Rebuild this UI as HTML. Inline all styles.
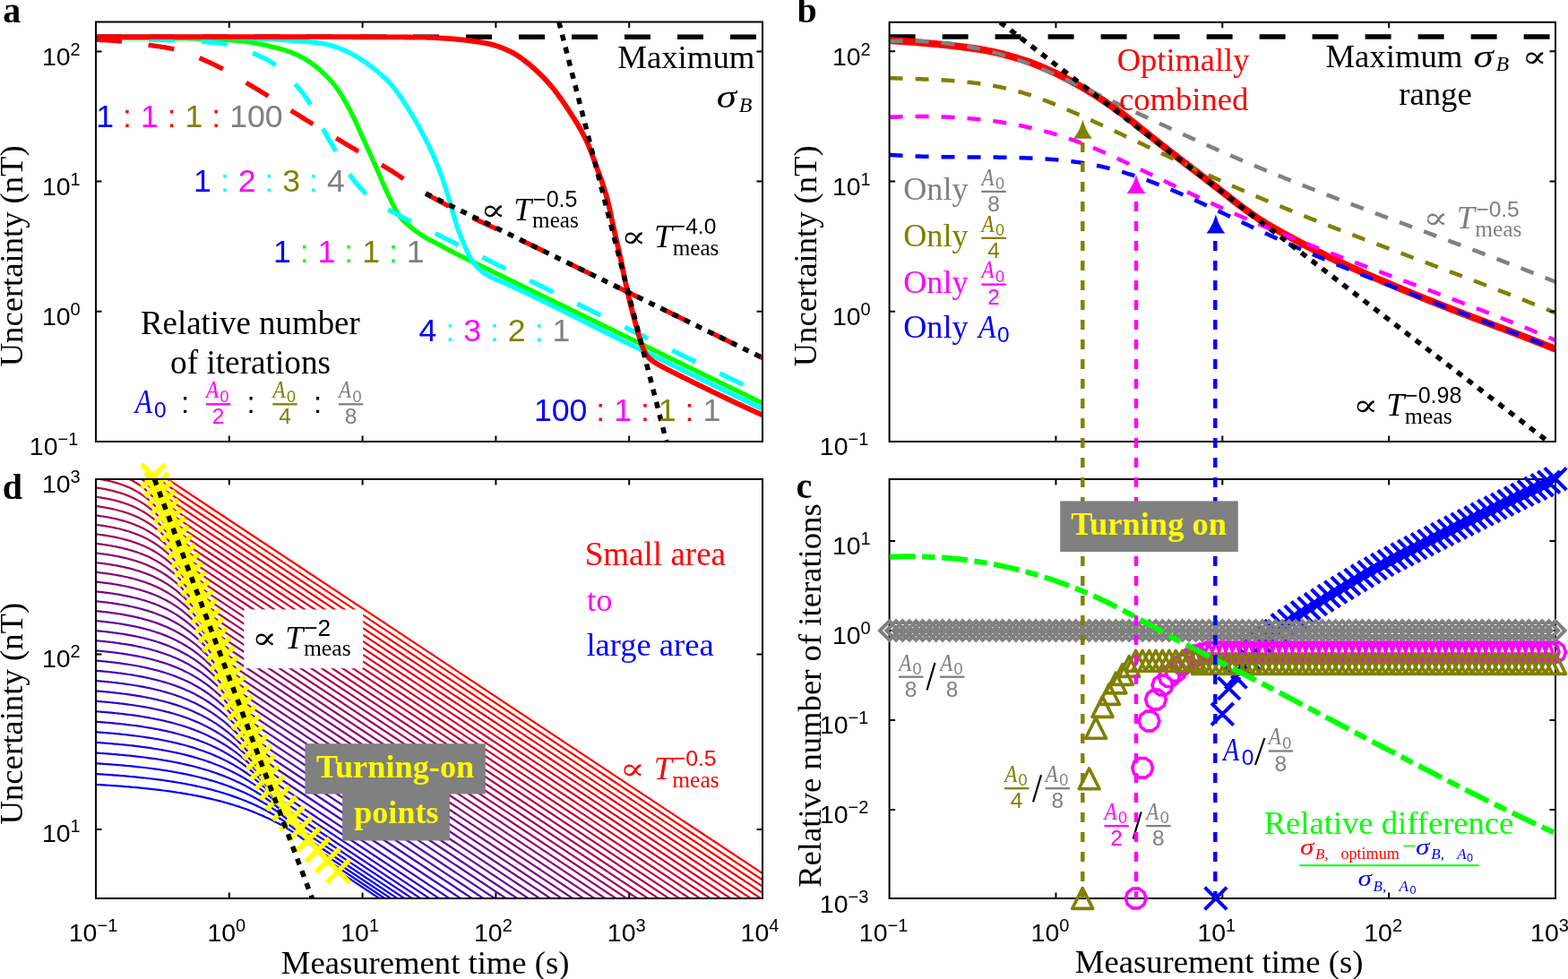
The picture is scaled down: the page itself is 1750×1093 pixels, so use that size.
<!DOCTYPE html>
<html><head><meta charset="utf-8"><title>Figure</title><style>html,body{margin:0;padding:0;background:#fff;overflow:hidden}svg{display:block}</style></head><body>
<svg xmlns="http://www.w3.org/2000/svg" width="1750" height="1093" viewBox="0 0 1750 1093">
<defs>
<clipPath id="clipa"><rect x="107" y="24.5" width="744" height="468.5"/></clipPath>
<clipPath id="clipb"><rect x="992.6" y="24.8" width="743.4" height="468.2"/></clipPath>
<clipPath id="clipc"><rect x="992.6" y="535" width="743.4" height="468"/></clipPath>
<clipPath id="clipd"><rect x="107" y="535" width="744" height="468"/></clipPath>
</defs>
<rect width="1750" height="1093" fill="#fff"/>
<g clip-path="url(#clipa)">
<path d="M107 41.2 L851 41.2" stroke="#000" stroke-width="5.5" fill="none" stroke-dasharray="29 30" stroke-linejoin="round" />
<path d="M107 42.4 L108.24 42.4 L109.48 42.4 L110.73 42.4 L111.97 42.4 L113.21 42.4 L114.45 42.4 L115.69 42.4 L116.94 42.4 L118.18 42.4 L119.42 42.4 L120.66 42.4 L121.9 42.4 L123.15 42.41 L124.39 42.41 L125.63 42.41 L126.87 42.41 L128.12 42.41 L129.36 42.41 L130.6 42.41 L131.84 42.41 L133.08 42.41 L134.33 42.42 L135.57 42.42 L136.81 42.42 L138.05 42.42 L139.29 42.42 L140.54 42.42 L141.78 42.43 L143.02 42.43 L144.26 42.43 L145.5 42.43 L146.75 42.43 L147.99 42.44 L149.23 42.44 L150.47 42.44 L151.71 42.44 L152.96 42.45 L154.2 42.45 L155.44 42.45 L156.68 42.45 L157.92 42.46 L159.17 42.46 L160.41 42.46 L161.65 42.47 L162.89 42.47 L164.14 42.47 L165.38 42.47 L166.62 42.48 L167.86 42.48 L169.1 42.49 L170.35 42.49 L171.59 42.49 L172.83 42.5 L174.07 42.5 L175.31 42.5 L176.56 42.51 L177.8 42.51 L179.04 42.52 L180.28 42.52 L181.52 42.53 L182.77 42.53 L184.01 42.53 L185.25 42.54 L186.49 42.54 L187.73 42.55 L188.98 42.55 L190.22 42.56 L191.46 42.56 L192.7 42.57 L193.94 42.57 L195.19 42.58 L196.43 42.58 L197.67 42.59 L198.91 42.6 L200.16 42.6 L201.4 42.61 L202.64 42.62 L203.88 42.63 L205.12 42.65 L206.37 42.66 L207.61 42.68 L208.85 42.71 L210.09 42.73 L211.33 42.76 L212.58 42.79 L213.82 42.82 L215.06 42.85 L216.3 42.88 L217.54 42.91 L218.79 42.95 L220.03 42.98 L221.27 43.02 L222.51 43.06 L223.75 43.1 L225 43.14 L226.24 43.18 L227.48 43.22 L228.72 43.26 L229.96 43.3 L231.21 43.34 L232.45 43.38 L233.69 43.43 L234.93 43.48 L236.18 43.53 L237.42 43.58 L238.66 43.64 L239.9 43.7 L241.14 43.76 L242.39 43.82 L243.63 43.89 L244.87 43.95 L246.11 44.02 L247.35 44.09 L248.6 44.17 L249.84 44.24 L251.08 44.32 L252.32 44.4 L253.56 44.49 L254.81 44.57 L256.05 44.66 L257.29 44.75 L258.53 44.84 L259.77 44.94 L261.02 45.04 L262.26 45.15 L263.5 45.27 L264.74 45.39 L265.98 45.52 L267.23 45.65 L268.47 45.79 L269.71 45.93 L270.95 46.08 L272.2 46.23 L273.44 46.39 L274.68 46.56 L275.92 46.72 L277.16 46.89 L278.41 47.07 L279.65 47.25 L280.89 47.43 L282.13 47.63 L283.37 47.85 L284.62 48.07 L285.86 48.31 L287.1 48.55 L288.34 48.8 L289.58 49.06 L290.83 49.33 L292.07 49.6 L293.31 49.88 L294.55 50.16 L295.79 50.44 L297.04 50.72 L298.28 51 L299.52 51.27 L300.76 51.55 L302.01 51.83 L303.25 52.12 L304.49 52.4 L305.73 52.69 L306.97 52.99 L308.22 53.3 L309.46 53.61 L310.7 53.93 L311.94 54.26 L313.18 54.6 L314.43 54.95 L315.67 55.32 L316.91 55.7 L318.15 56.09 L319.39 56.5 L320.64 56.92 L321.88 57.36 L323.12 57.81 L324.36 58.28 L325.6 58.77 L326.85 59.27 L328.09 59.78 L329.33 60.31 L330.57 60.86 L331.81 61.43 L333.06 62.01 L334.3 62.6 L335.54 63.22 L336.78 63.87 L338.03 64.54 L339.27 65.25 L340.51 65.98 L341.75 66.74 L342.99 67.52 L344.24 68.33 L345.48 69.17 L346.72 70.02 L347.96 70.9 L349.2 71.79 L350.45 72.71 L351.69 73.64 L352.93 74.59 L354.17 75.57 L355.41 76.58 L356.66 77.64 L357.9 78.73 L359.14 79.86 L360.38 81.03 L361.62 82.22 L362.87 83.45 L364.11 84.7 L365.35 85.98 L366.59 87.28 L367.83 88.6 L369.08 89.96 L370.32 91.36 L371.56 92.81 L372.8 94.32 L374.05 95.88 L375.29 97.5 L376.53 99.2 L377.77 100.99 L379.01 102.88 L380.26 104.85 L381.5 106.89 L382.74 108.97 L383.98 111.1 L385.22 113.24 L386.47 115.42 L387.71 117.64 L388.95 119.92 L390.19 122.24 L391.43 124.62 L392.68 127.05 L393.92 129.52 L395.16 132.08 L396.4 134.75 L397.64 137.5 L398.89 140.25 L400.13 142.99 L401.37 145.75 L402.61 148.53 L403.85 151.31 L405.1 154.1 L406.34 156.89 L407.58 159.67 L408.82 162.44 L410.07 165.19 L411.31 167.93 L412.55 170.64 L413.79 173.36 L415.03 176.07 L416.28 178.8 L417.52 181.55 L418.76 184.33 L420 187.14 L421.24 190.02 L422.49 192.94 L423.73 195.88 L424.97 198.82 L426.21 201.73 L427.45 204.59 L428.7 207.38 L429.94 210.14 L431.18 212.87 L432.42 215.57 L433.66 218.23 L434.91 220.86 L436.15 223.45 L437.39 226 L438.63 228.56 L439.87 231.08 L441.12 233.45 L442.36 235.6 L443.6 237.6 L444.84 239.5 L446.09 241.3 L447.33 242.97 L448.57 244.5 L449.81 245.89 L451.05 247.17 L452.3 248.36 L453.54 249.49 L454.78 250.56 L456.02 251.6 L457.26 252.63 L458.51 253.64 L459.75 254.63 L460.99 255.61 L462.23 256.56 L463.47 257.5 L464.72 258.41 L465.96 259.31 L467.2 260.19 L468.44 261.04 L469.68 261.88 L470.93 262.69 L472.17 263.48 L473.41 264.25 L474.65 265 L475.89 265.71 L477.14 266.41 L478.38 267.08 L479.62 267.75 L480.86 268.39 L482.11 269.04 L483.35 269.67 L484.59 270.3 L485.83 270.94 L487.07 271.58 L488.32 272.23 L489.56 272.88 L490.8 273.55 L492.04 274.22 L493.28 274.89 L494.53 275.56 L495.77 276.23 L497.01 276.9 L498.25 277.56 L499.49 278.23 L500.74 278.89 L501.98 279.55 L503.22 280.21 L504.46 280.86 L505.7 281.5 L506.95 282.14 L508.19 282.77 L509.43 283.41 L510.67 284.04 L511.91 284.66 L513.16 285.29 L514.4 285.91 L515.64 286.53 L516.88 287.15 L518.13 287.77 L519.37 288.38 L520.61 288.99 L521.85 289.6 L523.09 290.21 L524.34 290.82 L525.58 291.43 L526.82 292.04 L528.06 292.64 L529.3 293.24 L530.55 293.85 L531.79 294.45 L533.03 295.05 L534.27 295.66 L535.51 296.26 L536.76 296.86 L538 297.46 L539.24 298.06 L540.48 298.66 L541.72 299.27 L542.97 299.87 L544.21 300.47 L545.45 301.08 L546.69 301.68 L547.93 302.29 L549.18 302.9 L550.42 303.51 L551.66 304.11 L552.9 304.72 L554.15 305.33 L555.39 305.94 L556.63 306.55 L557.87 307.16 L559.11 307.76 L560.36 308.37 L561.6 308.98 L562.84 309.59 L564.08 310.2 L565.32 310.8 L566.57 311.41 L567.81 312.02 L569.05 312.62 L570.29 313.23 L571.53 313.84 L572.78 314.45 L574.02 315.05 L575.26 315.66 L576.5 316.27 L577.74 316.87 L578.99 317.48 L580.23 318.09 L581.47 318.69 L582.71 319.3 L583.95 319.9 L585.2 320.51 L586.44 321.12 L587.68 321.72 L588.92 322.33 L590.17 322.93 L591.41 323.54 L592.65 324.14 L593.89 324.75 L595.13 325.36 L596.38 325.96 L597.62 326.57 L598.86 327.17 L600.1 327.78 L601.34 328.38 L602.59 328.99 L603.83 329.59 L605.07 330.2 L606.31 330.8 L607.55 331.41 L608.8 332.02 L610.04 332.62 L611.28 333.23 L612.52 333.83 L613.76 334.44 L615.01 335.04 L616.25 335.65 L617.49 336.25 L618.73 336.86 L619.97 337.46 L621.22 338.07 L622.46 338.67 L623.7 339.28 L624.94 339.88 L626.19 340.49 L627.43 341.09 L628.67 341.7 L629.91 342.3 L631.15 342.91 L632.4 343.51 L633.64 344.12 L634.88 344.73 L636.12 345.33 L637.36 345.94 L638.61 346.54 L639.85 347.15 L641.09 347.75 L642.33 348.36 L643.57 348.97 L644.82 349.57 L646.06 350.18 L647.3 350.78 L648.54 351.39 L649.78 351.99 L651.03 352.6 L652.27 353.21 L653.51 353.81 L654.75 354.42 L655.99 355.03 L657.24 355.63 L658.48 356.24 L659.72 356.84 L660.96 357.45 L662.21 358.06 L663.45 358.66 L664.69 359.27 L665.93 359.87 L667.17 360.48 L668.42 361.09 L669.66 361.69 L670.9 362.3 L672.14 362.91 L673.38 363.51 L674.63 364.12 L675.87 364.72 L677.11 365.33 L678.35 365.94 L679.59 366.54 L680.84 367.15 L682.08 367.75 L683.32 368.36 L684.56 368.97 L685.8 369.57 L687.05 370.18 L688.29 370.78 L689.53 371.39 L690.77 372 L692.02 372.6 L693.26 373.21 L694.5 373.81 L695.74 374.42 L696.98 375.03 L698.23 375.63 L699.47 376.24 L700.71 376.85 L701.95 377.45 L703.19 378.06 L704.44 378.66 L705.68 379.27 L706.92 379.88 L708.16 380.48 L709.4 381.09 L710.65 381.69 L711.89 382.3 L713.13 382.91 L714.37 383.51 L715.61 384.12 L716.86 384.73 L718.1 385.33 L719.34 385.94 L720.58 386.54 L721.82 387.15 L723.07 387.76 L724.31 388.36 L725.55 388.97 L726.79 389.57 L728.04 390.18 L729.28 390.79 L730.52 391.39 L731.76 392 L733 392.6 L734.25 393.21 L735.49 393.82 L736.73 394.42 L737.97 395.03 L739.21 395.64 L740.46 396.24 L741.7 396.85 L742.94 397.45 L744.18 398.06 L745.42 398.67 L746.67 399.27 L747.91 399.88 L749.15 400.49 L750.39 401.09 L751.63 401.7 L752.88 402.3 L754.12 402.91 L755.36 403.52 L756.6 404.12 L757.84 404.73 L759.09 405.33 L760.33 405.94 L761.57 406.55 L762.81 407.15 L764.06 407.76 L765.3 408.37 L766.54 408.97 L767.78 409.58 L769.02 410.18 L770.27 410.79 L771.51 411.4 L772.75 412 L773.99 412.61 L775.23 413.22 L776.48 413.82 L777.72 414.43 L778.96 415.03 L780.2 415.64 L781.44 416.25 L782.69 416.85 L783.93 417.46 L785.17 418.07 L786.41 418.67 L787.65 419.28 L788.9 419.88 L790.14 420.49 L791.38 421.1 L792.62 421.7 L793.86 422.31 L795.11 422.92 L796.35 423.52 L797.59 424.13 L798.83 424.73 L800.08 425.34 L801.32 425.95 L802.56 426.55 L803.8 427.16 L805.04 427.77 L806.29 428.37 L807.53 428.98 L808.77 429.59 L810.01 430.19 L811.25 430.8 L812.5 431.4 L813.74 432.01 L814.98 432.62 L816.22 433.22 L817.46 433.83 L818.71 434.44 L819.95 435.04 L821.19 435.65 L822.43 436.25 L823.67 436.86 L824.92 437.47 L826.16 438.07 L827.4 438.68 L828.64 439.29 L829.88 439.89 L831.13 440.5 L832.37 441.1 L833.61 441.71 L834.85 442.32 L836.1 442.92 L837.34 443.53 L838.58 444.14 L839.82 444.74 L841.06 445.35 L842.31 445.96 L843.55 446.56 L844.79 447.17 L846.03 447.77 L847.27 448.38 L848.52 448.99 L849.76 449.59 L851 450.2" stroke="#00ff00" stroke-width="5.3" fill="none" stroke-linejoin="round" />
<path d="M107 41.2 L108.24 41.2 L109.48 41.2 L110.73 41.2 L111.97 41.2 L113.21 41.2 L114.45 41.2 L115.69 41.2 L116.94 41.2 L118.18 41.2 L119.42 41.2 L120.66 41.21 L121.9 41.21 L123.15 41.21 L124.39 41.21 L125.63 41.21 L126.87 41.21 L128.12 41.21 L129.36 41.21 L130.6 41.22 L131.84 41.22 L133.08 41.22 L134.33 41.22 L135.57 41.22 L136.81 41.23 L138.05 41.23 L139.29 41.23 L140.54 41.23 L141.78 41.23 L143.02 41.24 L144.26 41.24 L145.5 41.24 L146.75 41.24 L147.99 41.25 L149.23 41.25 L150.47 41.25 L151.71 41.26 L152.96 41.26 L154.2 41.26 L155.44 41.27 L156.68 41.27 L157.92 41.27 L159.17 41.28 L160.41 41.28 L161.65 41.28 L162.89 41.29 L164.14 41.29 L165.38 41.29 L166.62 41.3 L167.86 41.3 L169.1 41.31 L170.35 41.31 L171.59 41.32 L172.83 41.32 L174.07 41.32 L175.31 41.33 L176.56 41.33 L177.8 41.34 L179.04 41.34 L180.28 41.35 L181.52 41.35 L182.77 41.36 L184.01 41.36 L185.25 41.37 L186.49 41.37 L187.73 41.38 L188.98 41.38 L190.22 41.39 L191.46 41.39 L192.7 41.4 L193.94 41.41 L195.19 41.41 L196.43 41.42 L197.67 41.42 L198.91 41.43 L200.16 41.43 L201.4 41.44 L202.64 41.45 L203.88 41.45 L205.12 41.46 L206.37 41.47 L207.61 41.47 L208.85 41.48 L210.09 41.49 L211.33 41.49 L212.58 41.5 L213.82 41.51 L215.06 41.51 L216.3 41.52 L217.54 41.53 L218.79 41.53 L220.03 41.54 L221.27 41.55 L222.51 41.55 L223.75 41.56 L225 41.57 L226.24 41.58 L227.48 41.58 L228.72 41.59 L229.96 41.6 L231.21 41.61 L232.45 41.62 L233.69 41.63 L234.93 41.64 L236.18 41.65 L237.42 41.67 L238.66 41.68 L239.9 41.7 L241.14 41.71 L242.39 41.73 L243.63 41.75 L244.87 41.77 L246.11 41.79 L247.35 41.81 L248.6 41.83 L249.84 41.85 L251.08 41.87 L252.32 41.9 L253.56 41.92 L254.81 41.95 L256.05 41.97 L257.29 42 L258.53 42.03 L259.77 42.05 L261.02 42.08 L262.26 42.11 L263.5 42.14 L264.74 42.17 L265.98 42.2 L267.23 42.23 L268.47 42.26 L269.71 42.29 L270.95 42.33 L272.2 42.36 L273.44 42.4 L274.68 42.44 L275.92 42.48 L277.16 42.53 L278.41 42.57 L279.65 42.62 L280.89 42.68 L282.13 42.73 L283.37 42.78 L284.62 42.84 L285.86 42.9 L287.1 42.96 L288.34 43.02 L289.58 43.08 L290.83 43.14 L292.07 43.2 L293.31 43.26 L294.55 43.33 L295.79 43.39 L297.04 43.45 L298.28 43.52 L299.52 43.58 L300.76 43.65 L302.01 43.72 L303.25 43.79 L304.49 43.86 L305.73 43.93 L306.97 44 L308.22 44.08 L309.46 44.15 L310.7 44.23 L311.94 44.31 L313.18 44.39 L314.43 44.47 L315.67 44.55 L316.91 44.63 L318.15 44.72 L319.39 44.8 L320.64 44.89 L321.88 44.98 L323.12 45.07 L324.36 45.16 L325.6 45.25 L326.85 45.35 L328.09 45.44 L329.33 45.54 L330.57 45.64 L331.81 45.74 L333.06 45.84 L334.3 45.95 L335.54 46.05 L336.78 46.16 L338.03 46.27 L339.27 46.38 L340.51 46.48 L341.75 46.6 L342.99 46.71 L344.24 46.83 L345.48 46.94 L346.72 47.07 L347.96 47.19 L349.2 47.33 L350.45 47.46 L351.69 47.6 L352.93 47.75 L354.17 47.91 L355.41 48.07 L356.66 48.24 L357.9 48.41 L359.14 48.59 L360.38 48.79 L361.62 48.99 L362.87 49.2 L364.11 49.44 L365.35 49.71 L366.59 50 L367.83 50.32 L369.08 50.67 L370.32 51.03 L371.56 51.41 L372.8 51.81 L374.05 52.23 L375.29 52.66 L376.53 53.1 L377.77 53.55 L379.01 54.01 L380.26 54.47 L381.5 54.95 L382.74 55.45 L383.98 55.97 L385.22 56.53 L386.47 57.1 L387.71 57.7 L388.95 58.31 L390.19 58.95 L391.43 59.6 L392.68 60.27 L393.92 60.95 L395.16 61.65 L396.4 62.35 L397.64 63.07 L398.89 63.79 L400.13 64.53 L401.37 65.29 L402.61 66.08 L403.85 66.89 L405.1 67.72 L406.34 68.57 L407.58 69.43 L408.82 70.31 L410.07 71.21 L411.31 72.12 L412.55 73.05 L413.79 73.98 L415.03 74.93 L416.28 75.88 L417.52 76.85 L418.76 77.82 L420 78.81 L421.24 79.82 L422.49 80.84 L423.73 81.88 L424.97 82.95 L426.21 84.04 L427.45 85.16 L428.7 86.3 L429.94 87.47 L431.18 88.68 L432.42 89.92 L433.66 91.21 L434.91 92.54 L436.15 93.91 L437.39 95.33 L438.63 96.8 L439.87 98.32 L441.12 99.89 L442.36 101.53 L443.6 103.23 L444.84 104.98 L446.09 106.78 L447.33 108.61 L448.57 110.48 L449.81 112.38 L451.05 114.3 L452.3 116.23 L453.54 118.18 L454.78 120.12 L456.02 122.08 L457.26 124.06 L458.51 126.07 L459.75 128.1 L460.99 130.16 L462.23 132.24 L463.47 134.36 L464.72 136.51 L465.96 138.69 L467.2 140.91 L468.44 143.17 L469.68 145.45 L470.93 147.76 L472.17 150.09 L473.41 152.47 L474.65 154.87 L475.89 157.32 L477.14 159.82 L478.38 162.36 L479.62 164.96 L480.86 167.61 L482.11 170.32 L483.35 173.1 L484.59 175.95 L485.83 178.87 L487.07 181.86 L488.32 184.93 L489.56 188.07 L490.8 191.29 L492.04 194.58 L493.28 197.96 L494.53 201.42 L495.77 205.04 L497.01 208.82 L498.25 212.72 L499.49 216.72 L500.74 220.78 L501.98 225 L503.22 229.37 L504.46 233.75 L505.7 238.02 L506.95 242.23 L508.19 246.44 L509.43 250.52 L510.67 254.34 L511.91 257.85 L513.16 261.19 L514.4 264.37 L515.64 267.43 L516.88 270.38 L518.13 273.25 L519.37 276.1 L520.61 278.92 L521.85 281.65 L523.09 284.24 L524.34 286.64 L525.58 288.8 L526.82 290.76 L528.06 292.61 L529.3 294.35 L530.55 295.98 L531.79 297.48 L533.03 298.85 L534.27 300.07 L535.51 301.18 L536.76 302.21 L538 303.18 L539.24 304.09 L540.48 304.94 L541.72 305.75 L542.97 306.52 L544.21 307.26 L545.45 307.97 L546.69 308.66 L547.93 309.31 L549.18 309.93 L550.42 310.53 L551.66 311.11 L552.9 311.67 L554.15 312.21 L555.39 312.74 L556.63 313.27 L557.87 313.78 L559.11 314.3 L560.36 314.81 L561.6 315.33 L562.84 315.86 L564.08 316.4 L565.32 316.95 L566.57 317.51 L567.81 318.09 L569.05 318.66 L570.29 319.23 L571.53 319.81 L572.78 320.38 L574.02 320.96 L575.26 321.54 L576.5 322.12 L577.74 322.7 L578.99 323.28 L580.23 323.87 L581.47 324.45 L582.71 325.04 L583.95 325.63 L585.2 326.22 L586.44 326.81 L587.68 327.4 L588.92 327.99 L590.17 328.59 L591.41 329.19 L592.65 329.78 L593.89 330.38 L595.13 330.98 L596.38 331.58 L597.62 332.18 L598.86 332.78 L600.1 333.39 L601.34 333.99 L602.59 334.59 L603.83 335.2 L605.07 335.8 L606.31 336.41 L607.55 337.02 L608.8 337.63 L610.04 338.24 L611.28 338.85 L612.52 339.46 L613.76 340.07 L615.01 340.68 L616.25 341.29 L617.49 341.9 L618.73 342.52 L619.97 343.13 L621.22 343.75 L622.46 344.36 L623.7 344.98 L624.94 345.59 L626.19 346.21 L627.43 346.83 L628.67 347.45 L629.91 348.06 L631.15 348.68 L632.4 349.3 L633.64 349.92 L634.88 350.54 L636.12 351.16 L637.36 351.78 L638.61 352.4 L639.85 353.02 L641.09 353.64 L642.33 354.26 L643.57 354.88 L644.82 355.5 L646.06 356.13 L647.3 356.75 L648.54 357.37 L649.78 357.99 L651.03 358.61 L652.27 359.24 L653.51 359.86 L654.75 360.48 L655.99 361.1 L657.24 361.72 L658.48 362.35 L659.72 362.97 L660.96 363.59 L662.21 364.21 L663.45 364.83 L664.69 365.46 L665.93 366.08 L667.17 366.7 L668.42 367.32 L669.66 367.94 L670.9 368.56 L672.14 369.18 L673.38 369.8 L674.63 370.42 L675.87 371.04 L677.11 371.66 L678.35 372.28 L679.59 372.9 L680.84 373.52 L682.08 374.14 L683.32 374.75 L684.56 375.37 L685.8 375.99 L687.05 376.61 L688.29 377.22 L689.53 377.84 L690.77 378.45 L692.02 379.07 L693.26 379.68 L694.5 380.29 L695.74 380.9 L696.98 381.52 L698.23 382.13 L699.47 382.74 L700.71 383.35 L701.95 383.96 L703.19 384.57 L704.44 385.18 L705.68 385.79 L706.92 386.4 L708.16 387.01 L709.4 387.62 L710.65 388.23 L711.89 388.83 L713.13 389.44 L714.37 390.05 L715.61 390.66 L716.86 391.27 L718.1 391.88 L719.34 392.49 L720.58 393.1 L721.82 393.71 L723.07 394.31 L724.31 394.92 L725.55 395.53 L726.79 396.14 L728.04 396.75 L729.28 397.36 L730.52 397.96 L731.76 398.57 L733 399.18 L734.25 399.79 L735.49 400.39 L736.73 401 L737.97 401.61 L739.21 402.22 L740.46 402.82 L741.7 403.43 L742.94 404.04 L744.18 404.65 L745.42 405.25 L746.67 405.86 L747.91 406.47 L749.15 407.07 L750.39 407.68 L751.63 408.29 L752.88 408.89 L754.12 409.5 L755.36 410.1 L756.6 410.71 L757.84 411.32 L759.09 411.92 L760.33 412.53 L761.57 413.13 L762.81 413.74 L764.06 414.35 L765.3 414.95 L766.54 415.56 L767.78 416.16 L769.02 416.77 L770.27 417.37 L771.51 417.98 L772.75 418.58 L773.99 419.19 L775.23 419.79 L776.48 420.4 L777.72 421 L778.96 421.61 L780.2 422.21 L781.44 422.82 L782.69 423.42 L783.93 424.02 L785.17 424.63 L786.41 425.23 L787.65 425.84 L788.9 426.44 L790.14 427.04 L791.38 427.65 L792.62 428.25 L793.86 428.85 L795.11 429.46 L796.35 430.06 L797.59 430.66 L798.83 431.27 L800.08 431.87 L801.32 432.47 L802.56 433.07 L803.8 433.68 L805.04 434.28 L806.29 434.88 L807.53 435.48 L808.77 436.09 L810.01 436.69 L811.25 437.29 L812.5 437.89 L813.74 438.49 L814.98 439.1 L816.22 439.7 L817.46 440.3 L818.71 440.9 L819.95 441.5 L821.19 442.1 L822.43 442.7 L823.67 443.3 L824.92 443.91 L826.16 444.51 L827.4 445.11 L828.64 445.71 L829.88 446.31 L831.13 446.91 L832.37 447.51 L833.61 448.11 L834.85 448.71 L836.1 449.31 L837.34 449.91 L838.58 450.51 L839.82 451.11 L841.06 451.71 L842.31 452.31 L843.55 452.91 L844.79 453.51 L846.03 454.1 L847.27 454.7 L848.52 455.3 L849.76 455.9 L851 456.5" stroke="#00ffff" stroke-width="5.3" fill="none" stroke-linejoin="round" />
<path d="M107 43.6 L108.24 43.6 L109.48 43.6 L110.73 43.6 L111.97 43.61 L113.21 43.61 L114.45 43.61 L115.69 43.62 L116.94 43.62 L118.18 43.63 L119.42 43.63 L120.66 43.64 L121.9 43.65 L123.15 43.65 L124.39 43.66 L125.63 43.67 L126.87 43.68 L128.12 43.69 L129.36 43.7 L130.6 43.71 L131.84 43.72 L133.08 43.73 L134.33 43.74 L135.57 43.75 L136.81 43.76 L138.05 43.78 L139.29 43.79 L140.54 43.8 L141.78 43.81 L143.02 43.83 L144.26 43.84 L145.5 43.85 L146.75 43.87 L147.99 43.88 L149.23 43.89 L150.47 43.91 L151.71 43.92 L152.96 43.94 L154.2 43.95 L155.44 43.97 L156.68 43.99 L157.92 44.01 L159.17 44.03 L160.41 44.05 L161.65 44.08 L162.89 44.1 L164.14 44.12 L165.38 44.15 L166.62 44.18 L167.86 44.21 L169.1 44.23 L170.35 44.26 L171.59 44.29 L172.83 44.32 L174.07 44.36 L175.31 44.39 L176.56 44.42 L177.8 44.45 L179.04 44.49 L180.28 44.52 L181.52 44.56 L182.77 44.59 L184.01 44.63 L185.25 44.67 L186.49 44.7 L187.73 44.74 L188.98 44.78 L190.22 44.82 L191.46 44.86 L192.7 44.9 L193.94 44.94 L195.19 44.98 L196.43 45.02 L197.67 45.07 L198.91 45.11 L200.16 45.16 L201.4 45.21 L202.64 45.26 L203.88 45.31 L205.12 45.36 L206.37 45.41 L207.61 45.46 L208.85 45.52 L210.09 45.58 L211.33 45.63 L212.58 45.69 L213.82 45.76 L215.06 45.82 L216.3 45.88 L217.54 45.95 L218.79 46.02 L220.03 46.09 L221.27 46.16 L222.51 46.24 L223.75 46.32 L225 46.4 L226.24 46.48 L227.48 46.56 L228.72 46.65 L229.96 46.74 L231.21 46.83 L232.45 46.92 L233.69 47.02 L234.93 47.11 L236.18 47.22 L237.42 47.32 L238.66 47.43 L239.9 47.54 L241.14 47.66 L242.39 47.8 L243.63 47.95 L244.87 48.12 L246.11 48.31 L247.35 48.51 L248.6 48.72 L249.84 48.95 L251.08 49.2 L252.32 49.45 L253.56 49.72 L254.81 50.01 L256.05 50.31 L257.29 50.62 L258.53 50.94 L259.77 51.28 L261.02 51.63 L262.26 51.99 L263.5 52.36 L264.74 52.74 L265.98 53.14 L267.23 53.54 L268.47 53.96 L269.71 54.39 L270.95 54.82 L272.2 55.27 L273.44 55.73 L274.68 56.2 L275.92 56.67 L277.16 57.16 L278.41 57.65 L279.65 58.16 L280.89 58.67 L282.13 59.19 L283.37 59.72 L284.62 60.25 L285.86 60.8 L287.1 61.35 L288.34 61.9 L289.58 62.47 L290.83 63.04 L292.07 63.62 L293.31 64.2 L294.55 64.79 L295.79 65.39 L297.04 66.02 L298.28 66.7 L299.52 67.41 L300.76 68.16 L302.01 68.94 L303.25 69.76 L304.49 70.61 L305.73 71.5 L306.97 72.42 L308.22 73.37 L309.46 74.36 L310.7 75.37 L311.94 76.41 L313.18 77.49 L314.43 78.59 L315.67 79.72 L316.91 80.87 L318.15 82.06 L319.39 83.27 L320.64 84.5 L321.88 85.76 L323.12 87.04 L324.36 88.35 L325.6 89.68 L326.85 91.03 L328.09 92.4 L329.33 93.79 L330.57 95.2 L331.81 96.63 L333.06 98.08 L334.3 99.55 L335.54 101.03 L336.78 102.53 L338.03 104.05 L339.27 105.68 L340.51 107.42 L341.75 109.26 L342.99 111.2 L344.24 113.22 L345.48 115.33 L346.72 117.5 L347.96 119.73 L349.2 122.02 L350.45 124.35 L351.69 126.72 L352.93 129.12 L354.17 131.53 L355.41 133.95 L356.66 136.38 L357.9 138.8 L359.14 141.2 L360.38 143.58 L361.62 145.93 L362.87 148.23 L364.11 150.49 L365.35 152.69 L366.59 154.82 L367.83 156.92 L369.08 159.04 L370.32 161.18 L371.56 163.34 L372.8 165.5 L374.05 167.67 L375.29 169.85 L376.53 172.02 L377.77 174.18 L379.01 176.33 L380.26 178.47 L381.5 180.59 L382.74 182.69 L383.98 184.76 L385.22 186.8 L386.47 188.8 L387.71 190.77 L388.95 192.69 L390.19 194.56 L391.43 196.38 L392.68 198.15 L393.92 199.85 L395.16 201.5 L396.4 203.07 L397.64 204.57 L398.89 206.03 L400.13 207.45 L401.37 208.85 L402.61 210.21 L403.85 211.55 L405.1 212.86 L406.34 214.13 L407.58 215.38 L408.82 216.59 L410.07 217.77 L411.31 218.91 L412.55 220.03 L413.79 221.11 L415.03 222.16 L416.28 223.17 L417.52 224.15 L418.76 225.09 L420 226 L421.24 226.88 L422.49 227.72 L423.73 228.54 L424.97 229.32 L426.21 230.09 L427.45 230.83 L428.7 231.55 L429.94 232.26 L431.18 232.95 L432.42 233.62 L433.66 234.29 L434.91 234.94 L436.15 235.59 L437.39 236.24 L438.63 236.88 L439.87 237.52 L441.12 238.17 L442.36 238.81 L443.6 239.47 L444.84 240.13 L446.09 240.79 L447.33 241.45 L448.57 242.1 L449.81 242.75 L451.05 243.4 L452.3 244.04 L453.54 244.68 L454.78 245.32 L456.02 245.95 L457.26 246.58 L458.51 247.21 L459.75 247.83 L460.99 248.45 L462.23 249.07 L463.47 249.69 L464.72 250.3 L465.96 250.91 L467.2 251.53 L468.44 252.13 L469.68 252.74 L470.93 253.35 L472.17 253.96 L473.41 254.56 L474.65 255.17 L475.89 255.77 L477.14 256.38 L478.38 256.98 L479.62 257.59 L480.86 258.19 L482.11 258.8 L483.35 259.4 L484.59 260.01 L485.83 260.62 L487.07 261.23 L488.32 261.84 L489.56 262.45 L490.8 263.06 L492.04 263.67 L493.28 264.29 L494.53 264.91 L495.77 265.53 L497.01 266.16 L498.25 266.78 L499.49 267.41 L500.74 268.03 L501.98 268.66 L503.22 269.29 L504.46 269.92 L505.7 270.55 L506.95 271.18 L508.19 271.81 L509.43 272.44 L510.67 273.07 L511.91 273.71 L513.16 274.34 L514.4 274.97 L515.64 275.6 L516.88 276.24 L518.13 276.87 L519.37 277.5 L520.61 278.14 L521.85 278.77 L523.09 279.4 L524.34 280.04 L525.58 280.67 L526.82 281.3 L528.06 281.93 L529.3 282.56 L530.55 283.2 L531.79 283.83 L533.03 284.46 L534.27 285.09 L535.51 285.72 L536.76 286.35 L538 286.97 L539.24 287.6 L540.48 288.23 L541.72 288.85 L542.97 289.48 L544.21 290.1 L545.45 290.73 L546.69 291.35 L547.93 291.97 L549.18 292.59 L550.42 293.21 L551.66 293.82 L552.9 294.44 L554.15 295.06 L555.39 295.67 L556.63 296.29 L557.87 296.9 L559.11 297.51 L560.36 298.13 L561.6 298.74 L562.84 299.35 L564.08 299.96 L565.32 300.57 L566.57 301.18 L567.81 301.79 L569.05 302.4 L570.29 303.01 L571.53 303.61 L572.78 304.22 L574.02 304.83 L575.26 305.44 L576.5 306.04 L577.74 306.65 L578.99 307.26 L580.23 307.86 L581.47 308.47 L582.71 309.07 L583.95 309.68 L585.2 310.29 L586.44 310.89 L587.68 311.5 L588.92 312.1 L590.17 312.71 L591.41 313.32 L592.65 313.92 L593.89 314.53 L595.13 315.14 L596.38 315.75 L597.62 316.35 L598.86 316.96 L600.1 317.57 L601.34 318.18 L602.59 318.79 L603.83 319.4 L605.07 320.01 L606.31 320.62 L607.55 321.22 L608.8 321.83 L610.04 322.44 L611.28 323.05 L612.52 323.66 L613.76 324.27 L615.01 324.88 L616.25 325.49 L617.49 326.1 L618.73 326.71 L619.97 327.32 L621.22 327.93 L622.46 328.54 L623.7 329.15 L624.94 329.76 L626.19 330.36 L627.43 330.97 L628.67 331.58 L629.91 332.19 L631.15 332.8 L632.4 333.41 L633.64 334.02 L634.88 334.63 L636.12 335.24 L637.36 335.85 L638.61 336.46 L639.85 337.07 L641.09 337.68 L642.33 338.29 L643.57 338.89 L644.82 339.5 L646.06 340.11 L647.3 340.72 L648.54 341.33 L649.78 341.94 L651.03 342.55 L652.27 343.16 L653.51 343.77 L654.75 344.38 L655.99 344.99 L657.24 345.6 L658.48 346.21 L659.72 346.82 L660.96 347.43 L662.21 348.03 L663.45 348.64 L664.69 349.25 L665.93 349.86 L667.17 350.47 L668.42 351.08 L669.66 351.69 L670.9 352.3 L672.14 352.91 L673.38 353.52 L674.63 354.13 L675.87 354.74 L677.11 355.35 L678.35 355.96 L679.59 356.57 L680.84 357.18 L682.08 357.78 L683.32 358.39 L684.56 359 L685.8 359.61 L687.05 360.22 L688.29 360.83 L689.53 361.44 L690.77 362.05 L692.02 362.66 L693.26 363.27 L694.5 363.88 L695.74 364.49 L696.98 365.1 L698.23 365.71 L699.47 366.31 L700.71 366.92 L701.95 367.53 L703.19 368.14 L704.44 368.75 L705.68 369.36 L706.92 369.97 L708.16 370.58 L709.4 371.19 L710.65 371.8 L711.89 372.41 L713.13 373.02 L714.37 373.63 L715.61 374.24 L716.86 374.85 L718.1 375.46 L719.34 376.07 L720.58 376.68 L721.82 377.29 L723.07 377.9 L724.31 378.51 L725.55 379.13 L726.79 379.74 L728.04 380.35 L729.28 380.96 L730.52 381.57 L731.76 382.18 L733 382.79 L734.25 383.4 L735.49 384.01 L736.73 384.62 L737.97 385.23 L739.21 385.84 L740.46 386.45 L741.7 387.06 L742.94 387.67 L744.18 388.28 L745.42 388.89 L746.67 389.5 L747.91 390.1 L749.15 390.71 L750.39 391.32 L751.63 391.93 L752.88 392.53 L754.12 393.14 L755.36 393.74 L756.6 394.35 L757.84 394.95 L759.09 395.56 L760.33 396.16 L761.57 396.76 L762.81 397.36 L764.06 397.97 L765.3 398.57 L766.54 399.17 L767.78 399.77 L769.02 400.37 L770.27 400.96 L771.51 401.56 L772.75 402.16 L773.99 402.76 L775.23 403.36 L776.48 403.95 L777.72 404.55 L778.96 405.15 L780.2 405.74 L781.44 406.34 L782.69 406.93 L783.93 407.53 L785.17 408.12 L786.41 408.72 L787.65 409.31 L788.9 409.91 L790.14 410.5 L791.38 411.1 L792.62 411.69 L793.86 412.29 L795.11 412.89 L796.35 413.48 L797.59 414.08 L798.83 414.67 L800.08 415.27 L801.32 415.87 L802.56 416.46 L803.8 417.06 L805.04 417.66 L806.29 418.26 L807.53 418.86 L808.77 419.46 L810.01 420.05 L811.25 420.66 L812.5 421.26 L813.74 421.86 L814.98 422.46 L816.22 423.06 L817.46 423.66 L818.71 424.27 L819.95 424.87 L821.19 425.47 L822.43 426.07 L823.67 426.68 L824.92 427.28 L826.16 427.88 L827.4 428.49 L828.64 429.09 L829.88 429.7 L831.13 430.3 L832.37 430.91 L833.61 431.51 L834.85 432.12 L836.1 432.72 L837.34 433.33 L838.58 433.93 L839.82 434.54 L841.06 435.14 L842.31 435.75 L843.55 436.36 L844.79 436.96 L846.03 437.57 L847.27 438.18 L848.52 438.79 L849.76 439.39 L851 440" stroke="#00ffff" stroke-width="5.3" fill="none" stroke-dasharray="29 30" stroke-linejoin="round" />
<path d="M107 44.3 L108.24 44.34 L109.48 44.39 L110.73 44.44 L111.97 44.49 L113.21 44.55 L114.45 44.61 L115.69 44.68 L116.94 44.75 L118.18 44.83 L119.42 44.91 L120.66 44.99 L121.9 45.07 L123.15 45.16 L124.39 45.25 L125.63 45.34 L126.87 45.44 L128.12 45.54 L129.36 45.64 L130.6 45.74 L131.84 45.84 L133.08 45.95 L134.33 46.05 L135.57 46.16 L136.81 46.27 L138.05 46.39 L139.29 46.52 L140.54 46.65 L141.78 46.79 L143.02 46.94 L144.26 47.09 L145.5 47.25 L146.75 47.42 L147.99 47.58 L149.23 47.76 L150.47 47.93 L151.71 48.11 L152.96 48.29 L154.2 48.48 L155.44 48.66 L156.68 48.85 L157.92 49.04 L159.17 49.22 L160.41 49.41 L161.65 49.6 L162.89 49.79 L164.14 49.97 L165.38 50.16 L166.62 50.34 L167.86 50.52 L169.1 50.69 L170.35 50.87 L171.59 51.04 L172.83 51.22 L174.07 51.39 L175.31 51.57 L176.56 51.75 L177.8 51.93 L179.04 52.12 L180.28 52.3 L181.52 52.5 L182.77 52.69 L184.01 52.89 L185.25 53.1 L186.49 53.32 L187.73 53.54 L188.98 53.77 L190.22 54 L191.46 54.25 L192.7 54.5 L193.94 54.77 L195.19 55.04 L196.43 55.33 L197.67 55.64 L198.91 55.97 L200.16 56.31 L201.4 56.67 L202.64 57.05 L203.88 57.44 L205.12 57.84 L206.37 58.26 L207.61 58.69 L208.85 59.13 L210.09 59.59 L211.33 60.05 L212.58 60.53 L213.82 61.02 L215.06 61.52 L216.3 62.02 L217.54 62.54 L218.79 63.06 L220.03 63.59 L221.27 64.12 L222.51 64.66 L223.75 65.21 L225 65.76 L226.24 66.31 L227.48 66.87 L228.72 67.43 L229.96 67.99 L231.21 68.55 L232.45 69.12 L233.69 69.68 L234.93 70.24 L236.18 70.81 L237.42 71.38 L238.66 71.97 L239.9 72.56 L241.14 73.17 L242.39 73.79 L243.63 74.42 L244.87 75.05 L246.11 75.7 L247.35 76.35 L248.6 77.01 L249.84 77.69 L251.08 78.36 L252.32 79.05 L253.56 79.74 L254.81 80.44 L256.05 81.14 L257.29 81.85 L258.53 82.57 L259.77 83.29 L261.02 84.01 L262.26 84.74 L263.5 85.48 L264.74 86.21 L265.98 86.95 L267.23 87.69 L268.47 88.44 L269.71 89.19 L270.95 89.93 L272.2 90.68 L273.44 91.44 L274.68 92.19 L275.92 92.94 L277.16 93.69 L278.41 94.44 L279.65 95.19 L280.89 95.94 L282.13 96.69 L283.37 97.43 L284.62 98.18 L285.86 98.92 L287.1 99.66 L288.34 100.4 L289.58 101.15 L290.83 101.9 L292.07 102.66 L293.31 103.42 L294.55 104.19 L295.79 104.95 L297.04 105.73 L298.28 106.5 L299.52 107.28 L300.76 108.06 L302.01 108.84 L303.25 109.62 L304.49 110.41 L305.73 111.19 L306.97 111.98 L308.22 112.77 L309.46 113.57 L310.7 114.36 L311.94 115.15 L313.18 115.95 L314.43 116.74 L315.67 117.53 L316.91 118.33 L318.15 119.12 L319.39 119.92 L320.64 120.71 L321.88 121.5 L323.12 122.29 L324.36 123.08 L325.6 123.87 L326.85 124.65 L328.09 125.44 L329.33 126.22 L330.57 127 L331.81 127.77 L333.06 128.55 L334.3 129.32 L335.54 130.09 L336.78 130.85 L338.03 131.62 L339.27 132.38 L340.51 133.15 L341.75 133.91 L342.99 134.67 L344.24 135.44 L345.48 136.2 L346.72 136.96 L347.96 137.72 L349.2 138.48 L350.45 139.24 L351.69 140 L352.93 140.75 L354.17 141.51 L355.41 142.27 L356.66 143.02 L357.9 143.78 L359.14 144.53 L360.38 145.29 L361.62 146.04 L362.87 146.79 L364.11 147.55 L365.35 148.3 L366.59 149.05 L367.83 149.8 L369.08 150.55 L370.32 151.3 L371.56 152.05 L372.8 152.8 L374.05 153.54 L375.29 154.29 L376.53 155.04 L377.77 155.79 L379.01 156.53 L380.26 157.28 L381.5 158.02 L382.74 158.77 L383.98 159.51 L385.22 160.26 L386.47 161 L387.71 161.74 L388.95 162.48 L390.19 163.21 L391.43 163.94 L392.68 164.67 L393.92 165.4 L395.16 166.12 L396.4 166.85 L397.64 167.57 L398.89 168.29 L400.13 169.01 L401.37 169.73 L402.61 170.45 L403.85 171.16 L405.1 171.88 L406.34 172.6 L407.58 173.32 L408.82 174.03 L410.07 174.75 L411.31 175.47 L412.55 176.19 L413.79 176.91 L415.03 177.63 L416.28 178.35 L417.52 179.08 L418.76 179.8 L420 180.53 L421.24 181.26 L422.49 181.99 L423.73 182.73 L424.97 183.47 L426.21 184.21 L427.45 184.95 L428.7 185.7 L429.94 186.45 L431.18 187.21 L432.42 187.97 L433.66 188.73 L434.91 189.5 L436.15 190.27 L437.39 191.05 L438.63 191.83 L439.87 192.63 L441.12 193.44 L442.36 194.26 L443.6 195.09 L444.84 195.93 L446.09 196.77 L447.33 197.62 L448.57 198.47 L449.81 199.33 L451.05 200.19 L452.3 201.05 L453.54 201.92 L454.78 202.78 L456.02 203.64 L457.26 204.5 L458.51 205.36 L459.75 206.22 L460.99 207.06 L462.23 207.91 L463.47 208.74 L464.72 209.57 L465.96 210.39 L467.2 211.2 L468.44 212 L469.68 212.79 L470.93 213.56 L472.17 214.32 L473.41 215.07 L474.65 215.8 L475.89 216.52 L477.14 217.23 L478.38 217.94 L479.62 218.64 L480.86 219.34 L482.11 220.04 L483.35 220.73 L484.59 221.41 L485.83 222.1 L487.07 222.78 L488.32 223.45 L489.56 224.13 L490.8 224.79 L492.04 225.46 L493.28 226.12 L494.53 226.78 L495.77 227.43 L497.01 228.08 L498.25 228.73 L499.49 229.38 L500.74 230.02 L501.98 230.66 L503.22 231.29 L504.46 231.92 L505.7 232.55 L506.95 233.18 L508.19 233.81 L509.43 234.43 L510.67 235.05 L511.91 235.66 L513.16 236.28 L514.4 236.89 L515.64 237.5 L516.88 238.1 L518.13 238.71 L519.37 239.31 L520.61 239.91 L521.85 240.51 L523.09 241.11 L524.34 241.7 L525.58 242.29 L526.82 242.88 L528.06 243.47 L529.3 244.06 L530.55 244.65 L531.79 245.23 L533.03 245.82 L534.27 246.4 L535.51 246.98 L536.76 247.56 L538 248.14 L539.24 248.71 L540.48 249.29 L541.72 249.87 L542.97 250.44 L544.21 251.01 L545.45 251.59 L546.69 252.16 L547.93 252.73 L549.18 253.3 L550.42 253.87 L551.66 254.44 L552.9 255.01 L554.15 255.58 L555.39 256.15 L556.63 256.72 L557.87 257.29 L559.11 257.86 L560.36 258.43 L561.6 258.99 L562.84 259.56 L564.08 260.13 L565.32 260.7 L566.57 261.27 L567.81 261.84 L569.05 262.41 L570.29 262.99 L571.53 263.56 L572.78 264.13 L574.02 264.71 L575.26 265.28 L576.5 265.86 L577.74 266.43 L578.99 267.01 L580.23 267.59 L581.47 268.17 L582.71 268.75 L583.95 269.33 L585.2 269.92 L586.44 270.5 L587.68 271.09 L588.92 271.67 L590.17 272.26 L591.41 272.86 L592.65 273.45 L593.89 274.04 L595.13 274.64 L596.38 275.24 L597.62 275.84 L598.86 276.44 L600.1 277.05 L601.34 277.66 L602.59 278.26 L603.83 278.87 L605.07 279.47 L606.31 280.08 L607.55 280.69 L608.8 281.29 L610.04 281.9 L611.28 282.5 L612.52 283.11 L613.76 283.72 L615.01 284.32 L616.25 284.93 L617.49 285.54 L618.73 286.14 L619.97 286.75 L621.22 287.35 L622.46 287.96 L623.7 288.57 L624.94 289.17 L626.19 289.78 L627.43 290.38 L628.67 290.99 L629.91 291.6 L631.15 292.2 L632.4 292.81 L633.64 293.41 L634.88 294.02 L636.12 294.63 L637.36 295.23 L638.61 295.84 L639.85 296.45 L641.09 297.05 L642.33 297.66 L643.57 298.26 L644.82 298.87 L646.06 299.48 L647.3 300.08 L648.54 300.69 L649.78 301.29 L651.03 301.9 L652.27 302.51 L653.51 303.11 L654.75 303.72 L655.99 304.32 L657.24 304.93 L658.48 305.54 L659.72 306.14 L660.96 306.75 L662.21 307.36 L663.45 307.96 L664.69 308.57 L665.93 309.17 L667.17 309.78 L668.42 310.39 L669.66 310.99 L670.9 311.6 L672.14 312.2 L673.38 312.81 L674.63 313.42 L675.87 314.02 L677.11 314.63 L678.35 315.24 L679.59 315.84 L680.84 316.45 L682.08 317.05 L683.32 317.66 L684.56 318.27 L685.8 318.87 L687.05 319.48 L688.29 320.08 L689.53 320.69 L690.77 321.3 L692.02 321.9 L693.26 322.51 L694.5 323.11 L695.74 323.72 L696.98 324.33 L698.23 324.93 L699.47 325.54 L700.71 326.15 L701.95 326.75 L703.19 327.36 L704.44 327.96 L705.68 328.57 L706.92 329.18 L708.16 329.78 L709.4 330.39 L710.65 330.99 L711.89 331.6 L713.13 332.21 L714.37 332.81 L715.61 333.42 L716.86 334.03 L718.1 334.63 L719.34 335.24 L720.58 335.84 L721.82 336.45 L723.07 337.06 L724.31 337.66 L725.55 338.27 L726.79 338.88 L728.04 339.48 L729.28 340.09 L730.52 340.69 L731.76 341.3 L733 341.91 L734.25 342.51 L735.49 343.12 L736.73 343.72 L737.97 344.33 L739.21 344.94 L740.46 345.54 L741.7 346.15 L742.94 346.76 L744.18 347.36 L745.42 347.97 L746.67 348.57 L747.91 349.18 L749.15 349.79 L750.39 350.39 L751.63 351 L752.88 351.61 L754.12 352.21 L755.36 352.82 L756.6 353.42 L757.84 354.03 L759.09 354.64 L760.33 355.24 L761.57 355.85 L762.81 356.46 L764.06 357.06 L765.3 357.67 L766.54 358.27 L767.78 358.88 L769.02 359.49 L770.27 360.09 L771.51 360.7 L772.75 361.3 L773.99 361.91 L775.23 362.52 L776.48 363.12 L777.72 363.73 L778.96 364.34 L780.2 364.94 L781.44 365.55 L782.69 366.15 L783.93 366.76 L785.17 367.37 L786.41 367.97 L787.65 368.58 L788.9 369.19 L790.14 369.79 L791.38 370.4 L792.62 371 L793.86 371.61 L795.11 372.22 L796.35 372.82 L797.59 373.43 L798.83 374.04 L800.08 374.64 L801.32 375.25 L802.56 375.85 L803.8 376.46 L805.04 377.07 L806.29 377.67 L807.53 378.28 L808.77 378.89 L810.01 379.49 L811.25 380.1 L812.5 380.71 L813.74 381.31 L814.98 381.92 L816.22 382.52 L817.46 383.13 L818.71 383.74 L819.95 384.34 L821.19 384.95 L822.43 385.56 L823.67 386.16 L824.92 386.77 L826.16 387.37 L827.4 387.98 L828.64 388.59 L829.88 389.19 L831.13 389.8 L832.37 390.41 L833.61 391.01 L834.85 391.62 L836.1 392.22 L837.34 392.83 L838.58 393.44 L839.82 394.04 L841.06 394.65 L842.31 395.26 L843.55 395.86 L844.79 396.47 L846.03 397.07 L847.27 397.68 L848.52 398.29 L849.76 398.89 L851 399.5" stroke="#ff0000" stroke-width="5.3" fill="none" stroke-dasharray="29 30" stroke-linejoin="round" />
<path d="M107 41.1 L107.93 41.1 L108.86 41.1 L109.79 41.1 L110.72 41.1 L111.66 41.1 L112.59 41.1 L113.52 41.1 L114.45 41.1 L115.38 41.1 L116.31 41.1 L117.24 41.1 L118.17 41.1 L119.11 41.1 L120.04 41.1 L120.97 41.1 L121.9 41.1 L122.83 41.1 L123.76 41.1 L124.69 41.1 L125.62 41.1 L126.55 41.1 L127.49 41.1 L128.42 41.1 L129.35 41.1 L130.28 41.1 L131.21 41.1 L132.14 41.1 L133.07 41.1 L134 41.1 L134.93 41.1 L135.87 41.1 L136.8 41.1 L137.73 41.1 L138.66 41.1 L139.59 41.1 L140.52 41.1 L141.45 41.1 L142.38 41.1 L143.32 41.1 L144.25 41.1 L145.18 41.1 L146.11 41.1 L147.04 41.1 L147.97 41.1 L148.9 41.1 L149.83 41.1 L150.76 41.1 L151.7 41.1 L152.63 41.1 L153.56 41.1 L154.49 41.1 L155.42 41.1 L156.35 41.1 L157.28 41.1 L158.21 41.1 L159.15 41.1 L160.08 41.1 L161.01 41.1 L161.94 41.1 L162.87 41.1 L163.8 41.1 L164.73 41.1 L165.66 41.1 L166.59 41.1 L167.53 41.1 L168.46 41.1 L169.39 41.1 L170.32 41.1 L171.25 41.1 L172.18 41.1 L173.11 41.1 L174.04 41.1 L174.97 41.1 L175.91 41.1 L176.84 41.1 L177.77 41.1 L178.7 41.1 L179.63 41.1 L180.56 41.1 L181.49 41.1 L182.42 41.1 L183.36 41.1 L184.29 41.1 L185.22 41.1 L186.15 41.1 L187.08 41.1 L188.01 41.1 L188.94 41.1 L189.87 41.1 L190.8 41.1 L191.74 41.1 L192.67 41.1 L193.6 41.1 L194.53 41.1 L195.46 41.1 L196.39 41.1 L197.32 41.1 L198.25 41.1 L199.19 41.1 L200.12 41.1 L201.05 41.1 L201.98 41.1 L202.91 41.1 L203.84 41.1 L204.77 41.1 L205.7 41.1 L206.63 41.1 L207.57 41.1 L208.5 41.1 L209.43 41.1 L210.36 41.1 L211.29 41.1 L212.22 41.1 L213.15 41.1 L214.08 41.1 L215.02 41.1 L215.95 41.1 L216.88 41.1 L217.81 41.1 L218.74 41.1 L219.67 41.1 L220.6 41.1 L221.53 41.1 L222.46 41.1 L223.4 41.1 L224.33 41.1 L225.26 41.1 L226.19 41.1 L227.12 41.1 L228.05 41.1 L228.98 41.1 L229.91 41.1 L230.84 41.1 L231.78 41.1 L232.71 41.1 L233.64 41.1 L234.57 41.1 L235.5 41.1 L236.43 41.1 L237.36 41.1 L238.29 41.1 L239.23 41.1 L240.16 41.1 L241.09 41.1 L242.02 41.1 L242.95 41.1 L243.88 41.1 L244.81 41.1 L245.74 41.1 L246.67 41.1 L247.61 41.1 L248.54 41.1 L249.47 41.1 L250.4 41.1 L251.33 41.1 L252.26 41.1 L253.19 41.1 L254.12 41.1 L255.06 41.1 L255.99 41.1 L256.92 41.1 L257.85 41.1 L258.78 41.1 L259.71 41.1 L260.64 41.1 L261.57 41.1 L262.5 41.1 L263.44 41.1 L264.37 41.1 L265.3 41.1 L266.23 41.1 L267.16 41.1 L268.09 41.1 L269.02 41.1 L269.95 41.1 L270.88 41.1 L271.82 41.1 L272.75 41.1 L273.68 41.1 L274.61 41.1 L275.54 41.1 L276.47 41.1 L277.4 41.1 L278.33 41.1 L279.27 41.1 L280.2 41.1 L281.13 41.1 L282.06 41.1 L282.99 41.1 L283.92 41.1 L284.85 41.1 L285.78 41.1 L286.71 41.1 L287.65 41.1 L288.58 41.1 L289.51 41.1 L290.44 41.1 L291.37 41.1 L292.3 41.1 L293.23 41.1 L294.16 41.1 L295.1 41.1 L296.03 41.1 L296.96 41.1 L297.89 41.1 L298.82 41.1 L299.75 41.1 L300.68 41.1 L301.61 41.1 L302.54 41.1 L303.48 41.1 L304.41 41.1 L305.34 41.1 L306.27 41.1 L307.2 41.1 L308.13 41.1 L309.06 41.1 L309.99 41.1 L310.92 41.1 L311.86 41.1 L312.79 41.1 L313.72 41.1 L314.65 41.1 L315.58 41.1 L316.51 41.1 L317.44 41.1 L318.37 41.1 L319.31 41.1 L320.24 41.1 L321.17 41.11 L322.1 41.11 L323.03 41.11 L323.96 41.11 L324.89 41.11 L325.82 41.11 L326.75 41.11 L327.69 41.11 L328.62 41.11 L329.55 41.11 L330.48 41.11 L331.41 41.11 L332.34 41.11 L333.27 41.11 L334.2 41.11 L335.14 41.12 L336.07 41.12 L337 41.12 L337.93 41.12 L338.86 41.12 L339.79 41.12 L340.72 41.12 L341.65 41.12 L342.58 41.12 L343.52 41.12 L344.45 41.12 L345.38 41.13 L346.31 41.13 L347.24 41.13 L348.17 41.13 L349.1 41.13 L350.03 41.13 L350.96 41.13 L351.9 41.13 L352.83 41.14 L353.76 41.14 L354.69 41.14 L355.62 41.14 L356.55 41.14 L357.48 41.14 L358.41 41.14 L359.35 41.15 L360.28 41.15 L361.21 41.15 L362.14 41.15 L363.07 41.15 L364 41.15 L364.93 41.16 L365.86 41.16 L366.79 41.16 L367.73 41.16 L368.66 41.16 L369.59 41.17 L370.52 41.17 L371.45 41.17 L372.38 41.17 L373.31 41.17 L374.24 41.18 L375.18 41.18 L376.11 41.18 L377.04 41.18 L377.97 41.18 L378.9 41.19 L379.83 41.19 L380.76 41.19 L381.69 41.19 L382.62 41.2 L383.56 41.2 L384.49 41.2 L385.42 41.2 L386.35 41.21 L387.28 41.21 L388.21 41.21 L389.14 41.21 L390.07 41.22 L391.01 41.22 L391.94 41.22 L392.87 41.22 L393.8 41.23 L394.73 41.23 L395.66 41.23 L396.59 41.24 L397.52 41.24 L398.45 41.24 L399.39 41.24 L400.32 41.25 L401.25 41.25 L402.18 41.25 L403.11 41.26 L404.04 41.26 L404.97 41.26 L405.9 41.27 L406.83 41.27 L407.77 41.27 L408.7 41.28 L409.63 41.28 L410.56 41.28 L411.49 41.29 L412.42 41.29 L413.35 41.29 L414.28 41.3 L415.22 41.3 L416.15 41.31 L417.08 41.31 L418.01 41.31 L418.94 41.32 L419.87 41.32 L420.8 41.33 L421.73 41.33 L422.66 41.33 L423.6 41.34 L424.53 41.34 L425.46 41.35 L426.39 41.35 L427.32 41.35 L428.25 41.36 L429.18 41.36 L430.11 41.37 L431.05 41.37 L431.98 41.38 L432.91 41.38 L433.84 41.39 L434.77 41.39 L435.7 41.39 L436.63 41.4 L437.56 41.4 L438.49 41.41 L439.43 41.41 L440.36 41.42 L441.29 41.42 L442.22 41.43 L443.15 41.43 L444.08 41.44 L445.01 41.44 L445.94 41.45 L446.87 41.45 L447.81 41.46 L448.74 41.47 L449.67 41.47 L450.6 41.48 L451.53 41.48 L452.46 41.49 L453.39 41.49 L454.32 41.5 L455.26 41.5 L456.19 41.51 L457.12 41.52 L458.05 41.52 L458.98 41.53 L459.91 41.53 L460.84 41.54 L461.77 41.54 L462.7 41.55 L463.64 41.56 L464.57 41.56 L465.5 41.57 L466.43 41.58 L467.36 41.58 L468.29 41.59 L469.22 41.59 L470.15 41.6 L471.09 41.61 L472.02 41.62 L472.95 41.64 L473.88 41.66 L474.81 41.68 L475.74 41.7 L476.67 41.73 L477.6 41.76 L478.53 41.79 L479.47 41.83 L480.4 41.87 L481.33 41.91 L482.26 41.95 L483.19 41.99 L484.12 42.04 L485.05 42.09 L485.98 42.14 L486.91 42.19 L487.85 42.24 L488.78 42.29 L489.71 42.35 L490.64 42.41 L491.57 42.46 L492.5 42.52 L493.43 42.58 L494.36 42.64 L495.3 42.7 L496.23 42.76 L497.16 42.82 L498.09 42.88 L499.02 42.94 L499.95 43 L500.88 43.06 L501.81 43.12 L502.74 43.19 L503.68 43.26 L504.61 43.33 L505.54 43.41 L506.47 43.49 L507.4 43.57 L508.33 43.65 L509.26 43.74 L510.19 43.82 L511.13 43.91 L512.06 44.01 L512.99 44.1 L513.92 44.2 L514.85 44.3 L515.78 44.4 L516.71 44.5 L517.64 44.61 L518.57 44.72 L519.51 44.83 L520.44 44.94 L521.37 45.05 L522.3 45.16 L523.23 45.28 L524.16 45.39 L525.09 45.51 L526.02 45.63 L526.95 45.75 L527.89 45.88 L528.82 46.01 L529.75 46.14 L530.68 46.27 L531.61 46.41 L532.54 46.55 L533.47 46.69 L534.4 46.84 L535.34 46.99 L536.27 47.14 L537.2 47.3 L538.13 47.46 L539.06 47.63 L539.99 47.8 L540.92 47.98 L541.85 48.16 L542.78 48.35 L543.72 48.54 L544.65 48.74 L545.58 48.94 L546.51 49.15 L547.44 49.37 L548.37 49.59 L549.3 49.82 L550.23 50.07 L551.17 50.33 L552.1 50.6 L553.03 50.88 L553.96 51.17 L554.89 51.47 L555.82 51.79 L556.75 52.11 L557.68 52.45 L558.61 52.8 L559.55 53.15 L560.48 53.52 L561.41 53.89 L562.34 54.28 L563.27 54.67 L564.2 55.07 L565.13 55.48 L566.06 55.9 L566.99 56.33 L567.93 56.76 L568.86 57.2 L569.79 57.65 L570.72 58.11 L571.65 58.59 L572.58 59.08 L573.51 59.6 L574.44 60.15 L575.38 60.7 L576.31 61.28 L577.24 61.88 L578.17 62.49 L579.1 63.12 L580.03 63.76 L580.96 64.42 L581.89 65.09 L582.82 65.78 L583.76 66.47 L584.69 67.18 L585.62 67.89 L586.55 68.62 L587.48 69.35 L588.41 70.09 L589.34 70.84 L590.27 71.6 L591.21 72.36 L592.14 73.12 L593.07 73.89 L594 74.67 L594.93 75.46 L595.86 76.27 L596.79 77.1 L597.72 77.94 L598.65 78.79 L599.59 79.65 L600.52 80.53 L601.45 81.43 L602.38 82.33 L603.31 83.25 L604.24 84.19 L605.17 85.14 L606.1 86.1 L607.04 87.07 L607.97 88.06 L608.9 89.06 L609.83 90.07 L610.76 91.09 L611.69 92.13 L612.62 93.18 L613.55 94.24 L614.48 95.32 L615.42 96.4 L616.35 97.52 L617.28 98.65 L618.21 99.8 L619.14 100.98 L620.07 102.17 L621 103.39 L621.93 104.63 L622.86 105.88 L623.8 107.15 L624.73 108.44 L625.66 109.74 L626.59 111.06 L627.52 112.4 L628.45 113.75 L629.38 115.11 L630.31 116.49 L631.25 117.87 L632.18 119.27 L633.11 120.69 L634.04 122.11 L634.97 123.54 L635.9 124.98 L636.83 126.43 L637.76 127.88 L638.69 129.34 L639.63 130.8 L640.56 132.27 L641.49 133.75 L642.42 135.24 L643.35 136.75 L644.28 138.28 L645.21 139.84 L646.14 141.41 L647.08 143.02 L648.01 144.65 L648.94 146.32 L649.87 148.02 L650.8 149.77 L651.73 151.55 L652.66 153.39 L653.59 155.26 L654.52 157.19 L655.46 159.19 L656.39 161.28 L657.32 163.49 L658.25 165.79 L659.18 168.17 L660.11 170.62 L661.04 173.12 L661.97 175.67 L662.9 178.26 L663.84 180.86 L664.77 183.47 L665.7 186.08 L666.63 188.67 L667.56 191.23 L668.49 193.78 L669.42 196.34 L670.35 198.92 L671.29 201.54 L672.22 204.22 L673.15 206.98 L674.08 209.82 L675.01 212.77 L675.94 215.85 L676.87 219.07 L677.8 222.48 L678.73 226.21 L679.67 230.22 L680.6 234.43 L681.53 238.78 L682.46 243.2 L683.39 247.6 L684.32 251.93 L685.25 256.12 L686.18 260.23 L687.12 264.31 L688.05 268.37 L688.98 272.44 L689.91 276.52 L690.84 280.65 L691.77 284.83 L692.7 289.08 L693.63 293.46 L694.56 298.01 L695.5 302.66 L696.43 307.33 L697.36 311.95 L698.29 316.45 L699.22 320.76 L700.15 324.85 L701.08 328.87 L702.01 332.82 L702.94 336.7 L703.88 340.51 L704.81 344.26 L705.74 347.94 L706.67 351.55 L707.6 355.1 L708.53 358.57 L709.46 361.98 L710.39 365.32 L711.33 368.61 L712.26 371.92 L713.19 375.2 L714.12 378.37 L715.05 381.4 L715.98 384.22 L716.91 386.78 L717.84 389.05 L718.77 391.18 L719.71 393.15 L720.64 394.91 L721.57 396.41 L722.5 397.63 L723.43 398.7 L724.36 399.67 L725.29 400.56 L726.22 401.36 L727.16 402.12 L728.09 402.83 L729.02 403.51 L729.95 404.17 L730.88 404.78 L731.81 405.37 L732.74 405.92 L733.67 406.45 L734.6 406.97 L735.54 407.48 L736.47 407.99 L737.4 408.5 L738.33 409.01 L739.26 409.52 L740.19 410.03 L741.12 410.53 L742.05 411.02 L742.98 411.51 L743.92 412 L744.85 412.48 L745.78 412.96 L746.71 413.43 L747.64 413.91 L748.57 414.38 L749.5 414.85 L750.43 415.31 L751.37 415.77 L752.3 416.24 L753.23 416.7 L754.16 417.16 L755.09 417.62 L756.02 418.08 L756.95 418.54 L757.88 419 L758.81 419.46 L759.75 419.92 L760.68 420.39 L761.61 420.85 L762.54 421.31 L763.47 421.77 L764.4 422.23 L765.33 422.69 L766.26 423.15 L767.2 423.62 L768.13 424.08 L769.06 424.54 L769.99 425 L770.92 425.45 L771.85 425.91 L772.78 426.37 L773.71 426.83 L774.64 427.29 L775.58 427.75 L776.51 428.21 L777.44 428.66 L778.37 429.12 L779.3 429.58 L780.23 430.03 L781.16 430.49 L782.09 430.94 L783.03 431.4 L783.96 431.85 L784.89 432.31 L785.82 432.76 L786.75 433.22 L787.68 433.67 L788.61 434.12 L789.54 434.58 L790.47 435.03 L791.41 435.48 L792.34 435.93 L793.27 436.38 L794.2 436.83 L795.13 437.29 L796.06 437.74 L796.99 438.18 L797.92 438.63 L798.85 439.08 L799.79 439.53 L800.72 439.98 L801.65 440.43 L802.58 440.87 L803.51 441.32 L804.44 441.77 L805.37 442.21 L806.3 442.66 L807.24 443.1 L808.17 443.55 L809.1 443.99 L810.03 444.43 L810.96 444.88 L811.89 445.32 L812.82 445.76 L813.75 446.2 L814.68 446.64 L815.62 447.08 L816.55 447.52 L817.48 447.96 L818.41 448.4 L819.34 448.84 L820.27 449.28 L821.2 449.71 L822.13 450.15 L823.07 450.59 L824 451.02 L824.93 451.46 L825.86 451.89 L826.79 452.33 L827.72 452.76 L828.65 453.19 L829.58 453.62 L830.51 454.06 L831.45 454.49 L832.38 454.92 L833.31 455.35 L834.24 455.78 L835.17 456.21 L836.1 456.63 L837.03 457.06 L837.96 457.49 L838.89 457.92 L839.83 458.34 L840.76 458.77 L841.69 459.19 L842.62 459.61 L843.55 460.04 L844.48 460.46 L845.41 460.88 L846.34 461.3 L847.28 461.72 L848.21 462.14 L849.14 462.56 L850.07 462.98 L851 463.4" stroke="#ff0000" stroke-width="5.8" fill="none" stroke-linejoin="round" />
<path d="M623.8 24.5 L743.8 493" stroke="#000" stroke-width="5.5" fill="none" stroke-dasharray="7 7.6" stroke-linejoin="round" />
<path d="M475 216 L851 399.5" stroke="#000" stroke-width="5.5" fill="none" stroke-dasharray="7 7.6" stroke-linejoin="round" />
</g>
<path d="M255.8 24.5 v6.5 M255.8 493 v-6.5 M404.6 24.5 v6.5 M404.6 493 v-6.5 M553.4 24.5 v6.5 M553.4 493 v-6.5 M702.2 24.5 v6.5 M702.2 493 v-6.5 M107 57.4 h6.5 M851 57.4 h-6.5 M107 202.6 h6.5 M851 202.6 h-6.5 M107 347.8 h6.5 M851 347.8 h-6.5" stroke="#000" stroke-width="2" fill="none"/>
<rect x="107" y="24.5" width="744" height="468.5" fill="none" stroke="#000" stroke-width="2"/>
<text x="3.15" y="25.2" font-size="40" font-family="'Liberation Serif', 'Times New Roman', serif" fill="#000" font-weight="bold" >a</text>
<text x="46.9" y="73.2" font-family="'Liberation Sans', Arial, Helvetica, sans-serif" font-size="28.5">10<tspan font-size="20" dy="-11">2</tspan></text>
<text x="46.9" y="218" font-family="'Liberation Sans', Arial, Helvetica, sans-serif" font-size="28.5">10<tspan font-size="20" dy="-11">1</tspan></text>
<text x="46.9" y="363.3" font-family="'Liberation Sans', Arial, Helvetica, sans-serif" font-size="28.5">10<tspan font-size="20" dy="-11">0</tspan></text>
<text x="32.8" y="508.1" font-family="'Liberation Sans', Arial, Helvetica, sans-serif" font-size="28.5">10<tspan font-size="20" dy="-11">−1</tspan></text>
<text transform="translate(24.8 408.8) rotate(-90)" x="-0.57" y="0" font-family="'Liberation Serif', 'Times New Roman', serif" font-size="36.61">Uncertainty (nT)</text>
<text x="107.31" y="142" font-family="'Liberation Sans', Arial, Helvetica, sans-serif" font-size="35.7" xml:space="preserve"><tspan fill="#0000ff">1</tspan><tspan fill="#ff0000"> : </tspan><tspan fill="#ff00ff">1</tspan><tspan fill="#ff0000"> : </tspan><tspan fill="#808000">1</tspan><tspan fill="#ff0000"> : </tspan><tspan fill="#808080">100</tspan></text>
<text x="216.11" y="214.2" font-family="'Liberation Sans', Arial, Helvetica, sans-serif" font-size="35.7" xml:space="preserve"><tspan fill="#0000ff">1</tspan><tspan fill="#00ffff"> : </tspan><tspan fill="#ff00ff">2</tspan><tspan fill="#00ffff"> : </tspan><tspan fill="#808000">3</tspan><tspan fill="#00ffff"> : </tspan><tspan fill="#808080">4</tspan></text>
<text x="304.91" y="292.6" font-family="'Liberation Sans', Arial, Helvetica, sans-serif" font-size="35.7" xml:space="preserve"><tspan fill="#0000ff">1</tspan><tspan fill="#00ff00"> : </tspan><tspan fill="#ff00ff">1</tspan><tspan fill="#00ff00"> : </tspan><tspan fill="#808000">1</tspan><tspan fill="#00ff00"> : </tspan><tspan fill="#808080">1</tspan></text>
<text x="467.61" y="381.3" font-family="'Liberation Sans', Arial, Helvetica, sans-serif" font-size="35.7" xml:space="preserve"><tspan fill="#0000ff">4</tspan><tspan fill="#00ffff"> : </tspan><tspan fill="#ff00ff">3</tspan><tspan fill="#00ffff"> : </tspan><tspan fill="#808000">2</tspan><tspan fill="#00ffff"> : </tspan><tspan fill="#808080">1</tspan></text>
<text x="595.91" y="469.9" font-family="'Liberation Sans', Arial, Helvetica, sans-serif" font-size="35.7" xml:space="preserve"><tspan fill="#0000ff">100</tspan><tspan fill="#ff0000"> : </tspan><tspan fill="#ff00ff">1</tspan><tspan fill="#ff0000"> : </tspan><tspan fill="#808000">1</tspan><tspan fill="#ff0000"> : </tspan><tspan fill="#808080">1</tspan></text>
<text x="689.23" y="76" font-size="36.78" font-family="'Liberation Serif', 'Times New Roman', serif" fill="#000" >Maximum</text>
<text transform="translate(799.7 119.7) scale(1.25 1)" x="0" y="0" font-size="36" font-family="'Liberation Serif', 'Times New Roman', serif" fill="#000" font-style="italic">σ</text>
<text x="824.8" y="125" font-size="24" font-family="'Liberation Serif', 'Times New Roman', serif" fill="#000" font-style="italic" >B</text>
<text transform="translate(537.56 245.6) scale(1.22 1)" x="0" y="0" font-size="34" font-family="'DejaVu Math TeX Gyre', 'DejaVu Serif', serif" fill="#000">∝</text>
<text x="573.35" y="245.6" font-size="36" font-family="'Liberation Serif', 'Times New Roman', serif" fill="#000" font-style="italic" >T</text>
<text x="595.1" y="230.7" font-size="25.03" font-family="'Liberation Sans', Arial, Helvetica, sans-serif" fill="#000" >−0.5</text>
<text x="594.1" y="253.9" font-size="25.18" font-family="'Liberation Serif', 'Times New Roman', serif" fill="#000" >meas</text>
<text transform="translate(694.16 276.3) scale(1.22 1)" x="0" y="0" font-size="34" font-family="'DejaVu Math TeX Gyre', 'DejaVu Serif', serif" fill="#000">∝</text>
<text x="729.95" y="276.3" font-size="36" font-family="'Liberation Serif', 'Times New Roman', serif" fill="#000" font-style="italic" >T</text>
<text x="750.8" y="261.4" font-size="24.6" font-family="'Liberation Sans', Arial, Helvetica, sans-serif" fill="#000" >−4.0</text>
<text x="750.7" y="285.4" font-size="25.18" font-family="'Liberation Serif', 'Times New Roman', serif" fill="#000" >meas</text>
<text x="157.02" y="372.8" font-size="36.88" font-family="'Liberation Serif', 'Times New Roman', serif" fill="#000" >Relative number</text>
<text x="190.04" y="416.8" font-size="37.27" font-family="'Liberation Serif', 'Times New Roman', serif" fill="#000" >of iterations</text>
<text transform="translate(150.76 460.8) scale(0.85 1)" x="0" y="0" font-size="36.91" font-family="'Liberation Serif', 'Times New Roman', serif" fill="#0000ff" font-style="italic">A</text>
<text x="171.9" y="466" font-size="24.5" font-family="'Liberation Sans', Arial, Helvetica, sans-serif" fill="#0000ff" >0</text>
<text x="202.02" y="460.8" font-size="33" font-family="'Liberation Sans', Arial, Helvetica, sans-serif" fill="#000" >:</text>
<text x="275.62" y="460.8" font-size="33" font-family="'Liberation Sans', Arial, Helvetica, sans-serif" fill="#000" >:</text>
<text x="350.02" y="460.8" font-size="33" font-family="'Liberation Sans', Arial, Helvetica, sans-serif" fill="#000" >:</text>
<text transform="translate(230.05 444.1) scale(0.87 1)" x="0" y="0" font-size="26.49" font-family="'Liberation Serif', 'Times New Roman', serif" fill="#ff00ff" font-style="italic">A</text>
<text x="245.5" y="448.5" font-size="18" font-family="'Liberation Sans', Arial, Helvetica, sans-serif" fill="#ff00ff" >0</text>
<rect x="229.9" y="450.15" width="27.4" height="2.3" fill="#ff00ff"/>
<text x="236.7" y="473.4" font-size="24.5" font-family="'Liberation Sans', Arial, Helvetica, sans-serif" fill="#ff00ff" >2</text>
<text transform="translate(304.45 444.1) scale(0.87 1)" x="0" y="0" font-size="26.49" font-family="'Liberation Serif', 'Times New Roman', serif" fill="#808000" font-style="italic">A</text>
<text x="319.9" y="448.5" font-size="18" font-family="'Liberation Sans', Arial, Helvetica, sans-serif" fill="#808000" >0</text>
<rect x="304.3" y="450.15" width="27.4" height="2.3" fill="#808000"/>
<text x="311.15" y="473.4" font-size="24.5" font-family="'Liberation Sans', Arial, Helvetica, sans-serif" fill="#808000" >4</text>
<text transform="translate(378.05 444.1) scale(0.87 1)" x="0" y="0" font-size="26.49" font-family="'Liberation Serif', 'Times New Roman', serif" fill="#808080" font-style="italic">A</text>
<text x="393.5" y="448.5" font-size="18" font-family="'Liberation Sans', Arial, Helvetica, sans-serif" fill="#808080" >0</text>
<rect x="377.9" y="450.15" width="27.4" height="2.3" fill="#808080"/>
<text x="384.7" y="473.4" font-size="24.5" font-family="'Liberation Sans', Arial, Helvetica, sans-serif" fill="#808080" >8</text>
<g clip-path="url(#clipb)">
<path d="M992.6 41 L1736 41" stroke="#000" stroke-width="5.5" fill="none" stroke-dasharray="29 30" stroke-linejoin="round" />
<path d="M992.6 45.2 L993.66 45.26 L994.73 45.32 L995.79 45.37 L996.85 45.44 L997.92 45.5 L998.98 45.56 L1000.04 45.62 L1001.11 45.69 L1002.17 45.76 L1003.24 45.82 L1004.3 45.89 L1005.36 45.96 L1006.43 46.03 L1007.49 46.1 L1008.55 46.18 L1009.62 46.25 L1010.68 46.33 L1011.74 46.4 L1012.81 46.48 L1013.87 46.56 L1014.93 46.63 L1016 46.71 L1017.06 46.79 L1018.12 46.88 L1019.19 46.96 L1020.25 47.04 L1021.32 47.13 L1022.38 47.21 L1023.44 47.3 L1024.51 47.38 L1025.57 47.47 L1026.63 47.56 L1027.7 47.65 L1028.76 47.74 L1029.82 47.83 L1030.89 47.92 L1031.95 48.01 L1033.01 48.11 L1034.08 48.2 L1035.14 48.3 L1036.2 48.39 L1037.27 48.49 L1038.33 48.58 L1039.39 48.68 L1040.46 48.78 L1041.52 48.88 L1042.59 48.97 L1043.65 49.07 L1044.71 49.18 L1045.78 49.28 L1046.84 49.38 L1047.9 49.48 L1048.97 49.58 L1050.03 49.69 L1051.09 49.79 L1052.16 49.9 L1053.22 50.01 L1054.28 50.12 L1055.35 50.23 L1056.41 50.34 L1057.47 50.45 L1058.54 50.56 L1059.6 50.68 L1060.67 50.79 L1061.73 50.91 L1062.79 51.03 L1063.86 51.14 L1064.92 51.27 L1065.98 51.39 L1067.05 51.51 L1068.11 51.64 L1069.17 51.76 L1070.24 51.89 L1071.3 52.02 L1072.36 52.15 L1073.43 52.28 L1074.49 52.42 L1075.55 52.55 L1076.62 52.69 L1077.68 52.83 L1078.75 52.97 L1079.81 53.11 L1080.87 53.26 L1081.94 53.4 L1083 53.55 L1084.06 53.7 L1085.13 53.86 L1086.19 54.01 L1087.25 54.17 L1088.32 54.32 L1089.38 54.48 L1090.44 54.65 L1091.51 54.81 L1092.57 54.98 L1093.63 55.15 L1094.7 55.32 L1095.76 55.49 L1096.82 55.67 L1097.89 55.85 L1098.95 56.04 L1100.02 56.23 L1101.08 56.43 L1102.14 56.63 L1103.21 56.83 L1104.27 57.05 L1105.33 57.26 L1106.4 57.48 L1107.46 57.71 L1108.52 57.94 L1109.59 58.17 L1110.65 58.41 L1111.71 58.65 L1112.78 58.9 L1113.84 59.15 L1114.9 59.41 L1115.97 59.67 L1117.03 59.93 L1118.1 60.19 L1119.16 60.47 L1120.22 60.74 L1121.29 61.02 L1122.35 61.3 L1123.41 61.58 L1124.48 61.87 L1125.54 62.16 L1126.6 62.45 L1127.67 62.75 L1128.73 63.05 L1129.79 63.35 L1130.86 63.66 L1131.92 63.97 L1132.98 64.28 L1134.05 64.59 L1135.11 64.91 L1136.18 65.23 L1137.24 65.55 L1138.3 65.87 L1139.37 66.2 L1140.43 66.52 L1141.49 66.85 L1142.56 67.19 L1143.62 67.54 L1144.68 67.89 L1145.75 68.25 L1146.81 68.62 L1147.87 68.99 L1148.94 69.38 L1150 69.76 L1151.06 70.16 L1152.13 70.56 L1153.19 70.97 L1154.25 71.38 L1155.32 71.8 L1156.38 72.22 L1157.45 72.65 L1158.51 73.09 L1159.57 73.53 L1160.64 73.97 L1161.7 74.42 L1162.76 74.87 L1163.83 75.32 L1164.89 75.78 L1165.95 76.24 L1167.02 76.71 L1168.08 77.17 L1169.14 77.65 L1170.21 78.12 L1171.27 78.59 L1172.33 79.07 L1173.4 79.55 L1174.46 80.03 L1175.53 80.51 L1176.59 81 L1177.65 81.5 L1178.72 82 L1179.78 82.51 L1180.84 83.02 L1181.91 83.54 L1182.97 84.06 L1184.03 84.59 L1185.1 85.12 L1186.16 85.66 L1187.22 86.2 L1188.29 86.75 L1189.35 87.3 L1190.41 87.86 L1191.48 88.42 L1192.54 88.98 L1193.61 89.55 L1194.67 90.12 L1195.73 90.7 L1196.8 91.27 L1197.86 91.86 L1198.92 92.44 L1199.99 93.03 L1201.05 93.62 L1202.11 94.22 L1203.18 94.82 L1204.24 95.42 L1205.3 96.02 L1206.37 96.62 L1207.43 97.23 L1208.49 97.84 L1209.56 98.46 L1210.62 99.08 L1211.68 99.71 L1212.75 100.35 L1213.81 100.99 L1214.88 101.64 L1215.94 102.3 L1217 102.95 L1218.07 103.62 L1219.13 104.29 L1220.19 104.96 L1221.26 105.64 L1222.32 106.32 L1223.38 107.01 L1224.45 107.69 L1225.51 108.39 L1226.57 109.08 L1227.64 109.78 L1228.7 110.48 L1229.76 111.18 L1230.83 111.88 L1231.89 112.59 L1232.96 113.3 L1234.02 114.01 L1235.08 114.73 L1236.15 115.45 L1237.21 116.18 L1238.27 116.91 L1239.34 117.64 L1240.4 118.38 L1241.46 119.12 L1242.53 119.87 L1243.59 120.62 L1244.65 121.37 L1245.72 122.13 L1246.78 122.9 L1247.84 123.66 L1248.91 124.43 L1249.97 125.21 L1251.04 125.99 L1252.1 126.78 L1253.16 127.57 L1254.23 128.37 L1255.29 129.18 L1256.35 129.99 L1257.42 130.81 L1258.48 131.64 L1259.54 132.48 L1260.61 133.32 L1261.67 134.16 L1262.73 135.01 L1263.8 135.86 L1264.86 136.71 L1265.92 137.57 L1266.99 138.42 L1268.05 139.28 L1269.12 140.14 L1270.18 140.99 L1271.24 141.84 L1272.31 142.7 L1273.37 143.54 L1274.43 144.39 L1275.5 145.23 L1276.56 146.07 L1277.62 146.92 L1278.69 147.76 L1279.75 148.61 L1280.81 149.46 L1281.88 150.3 L1282.94 151.15 L1284 152 L1285.07 152.85 L1286.13 153.69 L1287.19 154.54 L1288.26 155.39 L1289.32 156.23 L1290.39 157.08 L1291.45 157.92 L1292.51 158.76 L1293.58 159.6 L1294.64 160.44 L1295.7 161.28 L1296.77 162.12 L1297.83 162.95 L1298.89 163.78 L1299.96 164.62 L1301.02 165.45 L1302.08 166.28 L1303.15 167.1 L1304.21 167.93 L1305.27 168.76 L1306.34 169.58 L1307.4 170.41 L1308.47 171.23 L1309.53 172.05 L1310.59 172.88 L1311.66 173.7 L1312.72 174.52 L1313.78 175.34 L1314.85 176.16 L1315.91 176.98 L1316.97 177.81 L1318.04 178.63 L1319.1 179.45 L1320.16 180.27 L1321.23 181.08 L1322.29 181.9 L1323.35 182.72 L1324.42 183.54 L1325.48 184.35 L1326.55 185.17 L1327.61 185.98 L1328.67 186.8 L1329.74 187.61 L1330.8 188.42 L1331.86 189.24 L1332.93 190.05 L1333.99 190.86 L1335.05 191.68 L1336.12 192.49 L1337.18 193.31 L1338.24 194.12 L1339.31 194.94 L1340.37 195.76 L1341.43 196.57 L1342.5 197.39 L1343.56 198.21 L1344.62 199.03 L1345.69 199.85 L1346.75 200.66 L1347.82 201.48 L1348.88 202.3 L1349.94 203.12 L1351.01 203.94 L1352.07 204.76 L1353.13 205.58 L1354.2 206.4 L1355.26 207.22 L1356.32 208.04 L1357.39 208.86 L1358.45 209.69 L1359.51 210.51 L1360.58 211.33 L1361.64 212.15 L1362.7 212.97 L1363.77 213.8 L1364.83 214.62 L1365.9 215.45 L1366.96 216.28 L1368.02 217.12 L1369.09 217.96 L1370.15 218.79 L1371.21 219.63 L1372.28 220.47 L1373.34 221.31 L1374.4 222.15 L1375.47 222.98 L1376.53 223.82 L1377.59 224.65 L1378.66 225.48 L1379.72 226.3 L1380.78 227.12 L1381.85 227.93 L1382.91 228.74 L1383.98 229.54 L1385.04 230.33 L1386.1 231.12 L1387.17 231.9 L1388.23 232.69 L1389.29 233.48 L1390.36 234.26 L1391.42 235.04 L1392.48 235.81 L1393.55 236.58 L1394.61 237.35 L1395.67 238.11 L1396.74 238.87 L1397.8 239.62 L1398.86 240.36 L1399.93 241.1 L1400.99 241.83 L1402.05 242.55 L1403.12 243.26 L1404.18 243.97 L1405.25 244.66 L1406.31 245.35 L1407.37 246.02 L1408.44 246.69 L1409.5 247.36 L1410.56 248.01 L1411.63 248.66 L1412.69 249.31 L1413.75 249.95 L1414.82 250.58 L1415.88 251.21 L1416.94 251.84 L1418.01 252.46 L1419.07 253.08 L1420.13 253.7 L1421.2 254.31 L1422.26 254.93 L1423.33 255.54 L1424.39 256.15 L1425.45 256.76 L1426.52 257.37 L1427.58 257.97 L1428.64 258.57 L1429.71 259.17 L1430.77 259.76 L1431.83 260.35 L1432.9 260.94 L1433.96 261.53 L1435.02 262.11 L1436.09 262.69 L1437.15 263.27 L1438.21 263.85 L1439.28 264.43 L1440.34 265 L1441.41 265.57 L1442.47 266.14 L1443.53 266.71 L1444.6 267.28 L1445.66 267.85 L1446.72 268.42 L1447.79 268.99 L1448.85 269.55 L1449.91 270.12 L1450.98 270.68 L1452.04 271.25 L1453.1 271.81 L1454.17 272.37 L1455.23 272.93 L1456.29 273.49 L1457.36 274.05 L1458.42 274.6 L1459.48 275.15 L1460.55 275.71 L1461.61 276.26 L1462.68 276.8 L1463.74 277.35 L1464.8 277.89 L1465.87 278.43 L1466.93 278.97 L1467.99 279.5 L1469.06 280.04 L1470.12 280.57 L1471.18 281.09 L1472.25 281.62 L1473.31 282.14 L1474.37 282.66 L1475.44 283.18 L1476.5 283.7 L1477.56 284.21 L1478.63 284.73 L1479.69 285.24 L1480.76 285.75 L1481.82 286.26 L1482.88 286.77 L1483.95 287.27 L1485.01 287.78 L1486.07 288.28 L1487.14 288.78 L1488.2 289.29 L1489.26 289.79 L1490.33 290.28 L1491.39 290.78 L1492.45 291.28 L1493.52 291.77 L1494.58 292.26 L1495.64 292.76 L1496.71 293.25 L1497.77 293.74 L1498.84 294.23 L1499.9 294.71 L1500.96 295.2 L1502.03 295.69 L1503.09 296.17 L1504.15 296.66 L1505.22 297.14 L1506.28 297.62 L1507.34 298.1 L1508.41 298.59 L1509.47 299.07 L1510.53 299.55 L1511.6 300.02 L1512.66 300.5 L1513.72 300.98 L1514.79 301.46 L1515.85 301.93 L1516.92 302.41 L1517.98 302.88 L1519.04 303.36 L1520.11 303.83 L1521.17 304.3 L1522.23 304.77 L1523.3 305.24 L1524.36 305.71 L1525.42 306.18 L1526.49 306.64 L1527.55 307.11 L1528.61 307.57 L1529.68 308.04 L1530.74 308.5 L1531.8 308.96 L1532.87 309.42 L1533.93 309.88 L1534.99 310.34 L1536.06 310.8 L1537.12 311.26 L1538.19 311.71 L1539.25 312.17 L1540.31 312.62 L1541.38 313.08 L1542.44 313.53 L1543.5 313.99 L1544.57 314.44 L1545.63 314.89 L1546.69 315.34 L1547.76 315.79 L1548.82 316.24 L1549.88 316.69 L1550.95 317.14 L1552.01 317.59 L1553.07 318.04 L1554.14 318.49 L1555.2 318.93 L1556.27 319.38 L1557.33 319.83 L1558.39 320.27 L1559.46 320.72 L1560.52 321.17 L1561.58 321.61 L1562.65 322.06 L1563.71 322.5 L1564.77 322.94 L1565.84 323.39 L1566.9 323.83 L1567.96 324.27 L1569.03 324.71 L1570.09 325.15 L1571.15 325.59 L1572.22 326.03 L1573.28 326.47 L1574.35 326.91 L1575.41 327.34 L1576.47 327.78 L1577.54 328.22 L1578.6 328.65 L1579.66 329.09 L1580.73 329.52 L1581.79 329.96 L1582.85 330.39 L1583.92 330.83 L1584.98 331.26 L1586.04 331.69 L1587.11 332.12 L1588.17 332.55 L1589.23 332.98 L1590.3 333.41 L1591.36 333.84 L1592.42 334.27 L1593.49 334.7 L1594.55 335.13 L1595.62 335.55 L1596.68 335.98 L1597.74 336.41 L1598.81 336.83 L1599.87 337.26 L1600.93 337.68 L1602 338.11 L1603.06 338.53 L1604.12 338.95 L1605.19 339.37 L1606.25 339.8 L1607.31 340.22 L1608.38 340.64 L1609.44 341.06 L1610.5 341.48 L1611.57 341.9 L1612.63 342.31 L1613.7 342.73 L1614.76 343.15 L1615.82 343.56 L1616.89 343.98 L1617.95 344.39 L1619.01 344.81 L1620.08 345.22 L1621.14 345.64 L1622.2 346.05 L1623.27 346.46 L1624.33 346.87 L1625.39 347.29 L1626.46 347.7 L1627.52 348.11 L1628.58 348.52 L1629.65 348.93 L1630.71 349.34 L1631.78 349.75 L1632.84 350.16 L1633.9 350.56 L1634.97 350.97 L1636.03 351.38 L1637.09 351.79 L1638.16 352.19 L1639.22 352.6 L1640.28 353.01 L1641.35 353.41 L1642.41 353.82 L1643.47 354.23 L1644.54 354.63 L1645.6 355.04 L1646.66 355.44 L1647.73 355.85 L1648.79 356.25 L1649.85 356.66 L1650.92 357.06 L1651.98 357.47 L1653.05 357.87 L1654.11 358.27 L1655.17 358.67 L1656.24 359.07 L1657.3 359.47 L1658.36 359.87 L1659.43 360.27 L1660.49 360.66 L1661.55 361.06 L1662.62 361.46 L1663.68 361.85 L1664.74 362.25 L1665.81 362.64 L1666.87 363.04 L1667.93 363.43 L1669 363.83 L1670.06 364.22 L1671.13 364.62 L1672.19 365.01 L1673.25 365.4 L1674.32 365.8 L1675.38 366.19 L1676.44 366.59 L1677.51 366.98 L1678.57 367.38 L1679.63 367.78 L1680.7 368.17 L1681.76 368.57 L1682.82 368.97 L1683.89 369.37 L1684.95 369.77 L1686.01 370.17 L1687.08 370.57 L1688.14 370.97 L1689.21 371.37 L1690.27 371.78 L1691.33 372.18 L1692.4 372.59 L1693.46 372.99 L1694.52 373.4 L1695.59 373.81 L1696.65 374.22 L1697.71 374.63 L1698.78 375.04 L1699.84 375.45 L1700.9 375.86 L1701.97 376.27 L1703.03 376.68 L1704.09 377.1 L1705.16 377.51 L1706.22 377.92 L1707.28 378.34 L1708.35 378.75 L1709.41 379.17 L1710.48 379.58 L1711.54 380 L1712.6 380.41 L1713.67 380.83 L1714.73 381.25 L1715.79 381.67 L1716.86 382.09 L1717.92 382.5 L1718.98 382.92 L1720.05 383.34 L1721.11 383.76 L1722.17 384.19 L1723.24 384.61 L1724.3 385.03 L1725.36 385.45 L1726.43 385.87 L1727.49 386.3 L1728.56 386.72 L1729.62 387.15 L1730.68 387.57 L1731.75 387.99 L1732.81 388.42 L1733.87 388.85 L1734.94 389.27 L1736 389.7" stroke="#ff0000" stroke-width="8" fill="none" stroke-linejoin="round" />
<path d="M992.6 46.07 L994.09 46 L995.58 45.94 L997.07 45.88 L998.56 45.83 L1000.05 45.78 L1001.54 45.74 L1003.03 45.71 L1004.52 45.68 L1006.01 45.65 L1007.5 45.63 L1008.99 45.62 L1010.48 45.62 L1011.97 45.62 L1013.46 45.62 L1014.95 45.63 L1016.44 45.65 L1017.93 45.67 L1019.42 45.7 L1020.91 45.73 L1022.4 45.77 L1023.89 45.82 L1025.38 45.87 L1026.86 45.93 L1028.35 45.99 L1029.84 46.06 L1031.33 46.14 L1032.82 46.22 L1034.31 46.31 L1035.8 46.4 L1037.29 46.5 L1038.78 46.6 L1040.27 46.72 L1041.76 46.83 L1043.25 46.96 L1044.74 47.08 L1046.23 47.22 L1047.72 47.36 L1049.21 47.51 L1050.7 47.66 L1052.19 47.82 L1053.68 47.99 L1055.17 48.16 L1056.66 48.33 L1058.15 48.52 L1059.64 48.71 L1061.13 48.9 L1062.62 49.1 L1064.11 49.31 L1065.6 49.52 L1067.09 49.74 L1068.58 49.97 L1070.07 50.2 L1071.56 50.44 L1073.05 50.69 L1074.54 50.94 L1076.03 51.19 L1077.52 51.46 L1079.01 51.73 L1080.5 52 L1081.99 52.28 L1083.48 52.57 L1084.97 52.87 L1086.46 53.17 L1087.95 53.47 L1089.44 53.78 L1090.93 54.1 L1092.42 54.43 L1093.91 54.76 L1095.39 55.1 L1096.88 55.44 L1098.37 55.79 L1099.86 56.15 L1101.35 56.51 L1102.84 56.88 L1104.33 57.26 L1105.82 57.64 L1107.31 58.03 L1108.8 58.43 L1110.29 58.83 L1111.78 59.23 L1113.27 59.65 L1114.76 60.07 L1116.25 60.5 L1117.74 60.93 L1119.23 61.37 L1120.72 61.82 L1122.21 62.27 L1123.7 62.73 L1125.19 63.19 L1126.68 63.67 L1128.17 64.15 L1129.66 64.63 L1131.15 65.12 L1132.64 65.62 L1134.13 66.12 L1135.62 66.64 L1137.11 67.15 L1138.6 67.68 L1140.09 68.21 L1141.58 68.75 L1143.07 69.29 L1144.56 69.84 L1146.05 70.4 L1147.54 70.96 L1149.03 71.53 L1150.52 72.1 L1152.01 72.68 L1153.5 73.27 L1154.99 73.86 L1156.48 74.46 L1157.97 75.06 L1159.46 75.67 L1160.95 76.28 L1162.43 76.89 L1163.92 77.52 L1165.41 78.14 L1166.9 78.77 L1168.39 79.41 L1169.88 80.04 L1171.37 80.69 L1172.86 81.33 L1174.35 81.98 L1175.84 82.63 L1177.33 83.29 L1178.82 83.95 L1180.31 84.61 L1181.8 85.28 L1183.29 85.95 L1184.78 86.62 L1186.27 87.29 L1187.76 87.97 L1189.25 88.65 L1190.74 89.33 L1192.23 90.01 L1193.72 90.7 L1195.21 91.38 L1196.7 92.07 L1198.19 92.76 L1199.68 93.45 L1201.17 94.14 L1202.66 94.84 L1204.15 95.53 L1205.64 96.23 L1207.13 96.92 L1208.62 97.62 L1210.11 98.32 L1211.6 99.01 L1213.09 99.71 L1214.58 100.41 L1216.07 101.11 L1217.56 101.8 L1219.05 102.5 L1220.54 103.2 L1222.03 103.9 L1223.52 104.6 L1225.01 105.3 L1226.5 106 L1227.99 106.7 L1229.47 107.4 L1230.96 108.11 L1232.45 108.81 L1233.94 109.51 L1235.43 110.21 L1236.92 110.91 L1238.41 111.61 L1239.9 112.32 L1241.39 113.02 L1242.88 113.72 L1244.37 114.42 L1245.86 115.13 L1247.35 115.83 L1248.84 116.53 L1250.33 117.23 L1251.82 117.94 L1253.31 118.64 L1254.8 119.34 L1256.29 120.04 L1257.78 120.75 L1259.27 121.45 L1260.76 122.15 L1262.25 122.85 L1263.74 123.55 L1265.23 124.25 L1266.72 124.96 L1268.21 125.66 L1269.7 126.36 L1271.19 127.06 L1272.68 127.76 L1274.17 128.46 L1275.66 129.16 L1277.15 129.86 L1278.64 130.56 L1280.13 131.26 L1281.62 131.95 L1283.11 132.65 L1284.6 133.35 L1286.09 134.05 L1287.58 134.75 L1289.07 135.44 L1290.56 136.14 L1292.05 136.83 L1293.54 137.53 L1295.03 138.22 L1296.52 138.92 L1298 139.61 L1299.49 140.3 L1300.98 141 L1302.47 141.69 L1303.96 142.38 L1305.45 143.07 L1306.94 143.76 L1308.43 144.45 L1309.92 145.14 L1311.41 145.83 L1312.9 146.51 L1314.39 147.2 L1315.88 147.88 L1317.37 148.57 L1318.86 149.25 L1320.35 149.94 L1321.84 150.62 L1323.33 151.3 L1324.82 151.98 L1326.31 152.66 L1327.8 153.34 L1329.29 154.02 L1330.78 154.7 L1332.27 155.37 L1333.76 156.05 L1335.25 156.72 L1336.74 157.4 L1338.23 158.07 L1339.72 158.74 L1341.21 159.41 L1342.7 160.08 L1344.19 160.75 L1345.68 161.42 L1347.17 162.08 L1348.66 162.75 L1350.15 163.41 L1351.64 164.08 L1353.13 164.74 L1354.62 165.4 L1356.11 166.06 L1357.6 166.72 L1359.09 167.37 L1360.58 168.03 L1362.07 168.68 L1363.56 169.34 L1365.04 169.99 L1366.53 170.64 L1368.02 171.29 L1369.51 171.94 L1371 172.58 L1372.49 173.23 L1373.98 173.87 L1375.47 174.52 L1376.96 175.16 L1378.45 175.8 L1379.94 176.44 L1381.43 177.08 L1382.92 177.71 L1384.41 178.35 L1385.9 178.98 L1387.39 179.62 L1388.88 180.25 L1390.37 180.88 L1391.86 181.51 L1393.35 182.14 L1394.84 182.77 L1396.33 183.39 L1397.82 184.02 L1399.31 184.64 L1400.8 185.27 L1402.29 185.89 L1403.78 186.51 L1405.27 187.13 L1406.76 187.75 L1408.25 188.37 L1409.74 188.98 L1411.23 189.6 L1412.72 190.21 L1414.21 190.83 L1415.7 191.44 L1417.19 192.05 L1418.68 192.66 L1420.17 193.27 L1421.66 193.88 L1423.15 194.49 L1424.64 195.1 L1426.13 195.7 L1427.62 196.31 L1429.11 196.91 L1430.6 197.52 L1432.08 198.12 L1433.57 198.72 L1435.06 199.32 L1436.55 199.92 L1438.04 200.52 L1439.53 201.12 L1441.02 201.72 L1442.51 202.31 L1444 202.91 L1445.49 203.5 L1446.98 204.1 L1448.47 204.69 L1449.96 205.28 L1451.45 205.87 L1452.94 206.46 L1454.43 207.05 L1455.92 207.64 L1457.41 208.23 L1458.9 208.82 L1460.39 209.41 L1461.88 209.99 L1463.37 210.58 L1464.86 211.16 L1466.35 211.75 L1467.84 212.33 L1469.33 212.91 L1470.82 213.49 L1472.31 214.08 L1473.8 214.66 L1475.29 215.24 L1476.78 215.82 L1478.27 216.39 L1479.76 216.97 L1481.25 217.55 L1482.74 218.13 L1484.23 218.7 L1485.72 219.28 L1487.21 219.85 L1488.7 220.43 L1490.19 221 L1491.68 221.58 L1493.17 222.15 L1494.66 222.72 L1496.15 223.29 L1497.64 223.87 L1499.13 224.44 L1500.61 225.01 L1502.1 225.58 L1503.59 226.15 L1505.08 226.71 L1506.57 227.28 L1508.06 227.85 L1509.55 228.42 L1511.04 228.99 L1512.53 229.55 L1514.02 230.12 L1515.51 230.68 L1517 231.25 L1518.49 231.81 L1519.98 232.38 L1521.47 232.94 L1522.96 233.51 L1524.45 234.07 L1525.94 234.63 L1527.43 235.2 L1528.92 235.76 L1530.41 236.32 L1531.9 236.88 L1533.39 237.44 L1534.88 238.01 L1536.37 238.57 L1537.86 239.13 L1539.35 239.69 L1540.84 240.25 L1542.33 240.81 L1543.82 241.37 L1545.31 241.93 L1546.8 242.49 L1548.29 243.04 L1549.78 243.6 L1551.27 244.16 L1552.76 244.72 L1554.25 245.28 L1555.74 245.84 L1557.23 246.39 L1558.72 246.95 L1560.21 247.51 L1561.7 248.07 L1563.19 248.62 L1564.68 249.18 L1566.17 249.74 L1567.65 250.29 L1569.14 250.85 L1570.63 251.41 L1572.12 251.96 L1573.61 252.52 L1575.1 253.08 L1576.59 253.63 L1578.08 254.19 L1579.57 254.75 L1581.06 255.3 L1582.55 255.86 L1584.04 256.42 L1585.53 256.97 L1587.02 257.53 L1588.51 258.08 L1590 258.64 L1591.49 259.2 L1592.98 259.75 L1594.47 260.31 L1595.96 260.87 L1597.45 261.42 L1598.94 261.98 L1600.43 262.54 L1601.92 263.09 L1603.41 263.65 L1604.9 264.21 L1606.39 264.77 L1607.88 265.32 L1609.37 265.88 L1610.86 266.44 L1612.35 267 L1613.84 267.55 L1615.33 268.11 L1616.82 268.67 L1618.31 269.23 L1619.8 269.79 L1621.29 270.35 L1622.78 270.9 L1624.27 271.46 L1625.76 272.02 L1627.25 272.58 L1628.74 273.14 L1630.23 273.7 L1631.72 274.26 L1633.21 274.83 L1634.69 275.39 L1636.18 275.95 L1637.67 276.51 L1639.16 277.07 L1640.65 277.63 L1642.14 278.2 L1643.63 278.76 L1645.12 279.32 L1646.61 279.89 L1648.1 280.45 L1649.59 281.02 L1651.08 281.58 L1652.57 282.15 L1654.06 282.71 L1655.55 283.28 L1657.04 283.85 L1658.53 284.41 L1660.02 284.98 L1661.51 285.55 L1663 286.12 L1664.49 286.69 L1665.98 287.25 L1667.47 287.82 L1668.96 288.39 L1670.45 288.97 L1671.94 289.54 L1673.43 290.11 L1674.92 290.68 L1676.41 291.25 L1677.9 291.83 L1679.39 292.4 L1680.88 292.98 L1682.37 293.55 L1683.86 294.13 L1685.35 294.7 L1686.84 295.28 L1688.33 295.86 L1689.82 296.44 L1691.31 297.01 L1692.8 297.59 L1694.29 298.17 L1695.78 298.75 L1697.27 299.34 L1698.76 299.92 L1700.25 300.5 L1701.74 301.08 L1703.22 301.67 L1704.71 302.25 L1706.2 302.84 L1707.69 303.42 L1709.18 304.01 L1710.67 304.6 L1712.16 305.19 L1713.65 305.78 L1715.14 306.37 L1716.63 306.96 L1718.12 307.55 L1719.61 308.14 L1721.1 308.73 L1722.59 309.33 L1724.08 309.92 L1725.57 310.52 L1727.06 311.11 L1728.55 311.71 L1730.04 312.31 L1731.53 312.91 L1733.02 313.51 L1734.51 314.11 L1736 314.71" stroke="#808080" stroke-width="4.5" fill="none" stroke-dasharray="15 14" stroke-linejoin="round" />
<path d="M992.6 87.12 L994.09 87.18 L995.58 87.23 L997.07 87.28 L998.56 87.33 L1000.05 87.38 L1001.54 87.43 L1003.03 87.48 L1004.52 87.53 L1006.01 87.58 L1007.5 87.63 L1008.99 87.68 L1010.48 87.73 L1011.97 87.77 L1013.46 87.82 L1014.95 87.87 L1016.44 87.92 L1017.93 87.97 L1019.42 88.02 L1020.91 88.07 L1022.4 88.12 L1023.89 88.17 L1025.38 88.22 L1026.86 88.27 L1028.35 88.33 L1029.84 88.38 L1031.33 88.44 L1032.82 88.5 L1034.31 88.56 L1035.8 88.62 L1037.29 88.68 L1038.78 88.75 L1040.27 88.82 L1041.76 88.89 L1043.25 88.96 L1044.74 89.03 L1046.23 89.11 L1047.72 89.19 L1049.21 89.27 L1050.7 89.35 L1052.19 89.44 L1053.68 89.53 L1055.17 89.62 L1056.66 89.71 L1058.15 89.81 L1059.64 89.91 L1061.13 90.02 L1062.62 90.13 L1064.11 90.24 L1065.6 90.36 L1067.09 90.48 L1068.58 90.6 L1070.07 90.73 L1071.56 90.86 L1073.05 91 L1074.54 91.14 L1076.03 91.28 L1077.52 91.43 L1079.01 91.59 L1080.5 91.75 L1081.99 91.91 L1083.48 92.08 L1084.97 92.25 L1086.46 92.43 L1087.95 92.62 L1089.44 92.81 L1090.93 93 L1092.42 93.2 L1093.91 93.41 L1095.39 93.62 L1096.88 93.84 L1098.37 94.06 L1099.86 94.29 L1101.35 94.53 L1102.84 94.77 L1104.33 95.02 L1105.82 95.28 L1107.31 95.54 L1108.8 95.81 L1110.29 96.08 L1111.78 96.36 L1113.27 96.65 L1114.76 96.95 L1116.25 97.25 L1117.74 97.56 L1119.23 97.88 L1120.72 98.21 L1122.21 98.54 L1123.7 98.88 L1125.19 99.23 L1126.68 99.59 L1128.17 99.96 L1129.66 100.33 L1131.15 100.71 L1132.64 101.1 L1134.13 101.5 L1135.62 101.91 L1137.11 102.32 L1138.6 102.75 L1140.09 103.18 L1141.58 103.62 L1143.07 104.08 L1144.56 104.54 L1146.05 105 L1147.54 105.48 L1149.03 105.97 L1150.52 106.46 L1152.01 106.96 L1153.5 107.47 L1154.99 107.99 L1156.48 108.51 L1157.97 109.04 L1159.46 109.58 L1160.95 110.13 L1162.43 110.68 L1163.92 111.24 L1165.41 111.8 L1166.9 112.37 L1168.39 112.95 L1169.88 113.53 L1171.37 114.12 L1172.86 114.71 L1174.35 115.31 L1175.84 115.91 L1177.33 116.52 L1178.82 117.13 L1180.31 117.75 L1181.8 118.37 L1183.29 119 L1184.78 119.63 L1186.27 120.26 L1187.76 120.9 L1189.25 121.54 L1190.74 122.18 L1192.23 122.83 L1193.72 123.48 L1195.21 124.13 L1196.7 124.79 L1198.19 125.45 L1199.68 126.11 L1201.17 126.77 L1202.66 127.43 L1204.15 128.1 L1205.64 128.76 L1207.13 129.43 L1208.62 130.1 L1210.11 130.77 L1211.6 131.44 L1213.09 132.12 L1214.58 132.79 L1216.07 133.47 L1217.56 134.15 L1219.05 134.82 L1220.54 135.5 L1222.03 136.19 L1223.52 136.87 L1225.01 137.55 L1226.5 138.24 L1227.99 138.92 L1229.47 139.61 L1230.96 140.3 L1232.45 140.99 L1233.94 141.68 L1235.43 142.37 L1236.92 143.06 L1238.41 143.75 L1239.9 144.45 L1241.39 145.14 L1242.88 145.84 L1244.37 146.53 L1245.86 147.23 L1247.35 147.93 L1248.84 148.63 L1250.33 149.32 L1251.82 150.02 L1253.31 150.72 L1254.8 151.43 L1256.29 152.13 L1257.78 152.83 L1259.27 153.53 L1260.76 154.23 L1262.25 154.94 L1263.74 155.64 L1265.23 156.35 L1266.72 157.05 L1268.21 157.76 L1269.7 158.46 L1271.19 159.17 L1272.68 159.87 L1274.17 160.58 L1275.66 161.29 L1277.15 161.99 L1278.64 162.7 L1280.13 163.41 L1281.62 164.11 L1283.11 164.82 L1284.6 165.53 L1286.09 166.23 L1287.58 166.94 L1289.07 167.65 L1290.56 168.35 L1292.05 169.06 L1293.54 169.77 L1295.03 170.47 L1296.52 171.18 L1298 171.89 L1299.49 172.59 L1300.98 173.3 L1302.47 174 L1303.96 174.71 L1305.45 175.41 L1306.94 176.11 L1308.43 176.82 L1309.92 177.52 L1311.41 178.22 L1312.9 178.93 L1314.39 179.63 L1315.88 180.33 L1317.37 181.03 L1318.86 181.73 L1320.35 182.43 L1321.84 183.13 L1323.33 183.83 L1324.82 184.52 L1326.31 185.22 L1327.8 185.92 L1329.29 186.61 L1330.78 187.3 L1332.27 188 L1333.76 188.69 L1335.25 189.38 L1336.74 190.07 L1338.23 190.76 L1339.72 191.45 L1341.21 192.14 L1342.7 192.82 L1344.19 193.51 L1345.68 194.19 L1347.17 194.88 L1348.66 195.56 L1350.15 196.24 L1351.64 196.92 L1353.13 197.6 L1354.62 198.27 L1356.11 198.95 L1357.6 199.62 L1359.09 200.3 L1360.58 200.97 L1362.07 201.64 L1363.56 202.31 L1365.04 202.97 L1366.53 203.64 L1368.02 204.3 L1369.51 204.97 L1371 205.63 L1372.49 206.29 L1373.98 206.94 L1375.47 207.6 L1376.96 208.26 L1378.45 208.91 L1379.94 209.56 L1381.43 210.22 L1382.92 210.87 L1384.41 211.51 L1385.9 212.16 L1387.39 212.81 L1388.88 213.45 L1390.37 214.1 L1391.86 214.74 L1393.35 215.38 L1394.84 216.02 L1396.33 216.66 L1397.82 217.29 L1399.31 217.93 L1400.8 218.56 L1402.29 219.2 L1403.78 219.83 L1405.27 220.46 L1406.76 221.09 L1408.25 221.72 L1409.74 222.34 L1411.23 222.97 L1412.72 223.59 L1414.21 224.22 L1415.7 224.84 L1417.19 225.46 L1418.68 226.08 L1420.17 226.7 L1421.66 227.32 L1423.15 227.94 L1424.64 228.55 L1426.13 229.17 L1427.62 229.78 L1429.11 230.39 L1430.6 231 L1432.08 231.62 L1433.57 232.23 L1435.06 232.83 L1436.55 233.44 L1438.04 234.05 L1439.53 234.65 L1441.02 235.26 L1442.51 235.86 L1444 236.46 L1445.49 237.07 L1446.98 237.67 L1448.47 238.27 L1449.96 238.87 L1451.45 239.46 L1452.94 240.06 L1454.43 240.66 L1455.92 241.25 L1457.41 241.85 L1458.9 242.44 L1460.39 243.04 L1461.88 243.63 L1463.37 244.22 L1464.86 244.81 L1466.35 245.4 L1467.84 245.99 L1469.33 246.58 L1470.82 247.16 L1472.31 247.75 L1473.8 248.34 L1475.29 248.92 L1476.78 249.51 L1478.27 250.09 L1479.76 250.67 L1481.25 251.25 L1482.74 251.84 L1484.23 252.42 L1485.72 253 L1487.21 253.58 L1488.7 254.16 L1490.19 254.74 L1491.68 255.31 L1493.17 255.89 L1494.66 256.47 L1496.15 257.04 L1497.64 257.62 L1499.13 258.19 L1500.61 258.77 L1502.1 259.34 L1503.59 259.91 L1505.08 260.49 L1506.57 261.06 L1508.06 261.63 L1509.55 262.2 L1511.04 262.77 L1512.53 263.34 L1514.02 263.91 L1515.51 264.48 L1517 265.05 L1518.49 265.62 L1519.98 266.19 L1521.47 266.75 L1522.96 267.32 L1524.45 267.89 L1525.94 268.45 L1527.43 269.02 L1528.92 269.59 L1530.41 270.15 L1531.9 270.72 L1533.39 271.28 L1534.88 271.84 L1536.37 272.41 L1537.86 272.97 L1539.35 273.54 L1540.84 274.1 L1542.33 274.66 L1543.82 275.22 L1545.31 275.79 L1546.8 276.35 L1548.29 276.91 L1549.78 277.47 L1551.27 278.03 L1552.76 278.59 L1554.25 279.15 L1555.74 279.71 L1557.23 280.28 L1558.72 280.84 L1560.21 281.4 L1561.7 281.96 L1563.19 282.52 L1564.68 283.08 L1566.17 283.64 L1567.65 284.2 L1569.14 284.75 L1570.63 285.31 L1572.12 285.87 L1573.61 286.43 L1575.1 286.99 L1576.59 287.55 L1578.08 288.11 L1579.57 288.67 L1581.06 289.23 L1582.55 289.79 L1584.04 290.35 L1585.53 290.91 L1587.02 291.47 L1588.51 292.03 L1590 292.58 L1591.49 293.14 L1592.98 293.7 L1594.47 294.26 L1595.96 294.82 L1597.45 295.38 L1598.94 295.94 L1600.43 296.5 L1601.92 297.06 L1603.41 297.62 L1604.9 298.18 L1606.39 298.74 L1607.88 299.3 L1609.37 299.87 L1610.86 300.43 L1612.35 300.99 L1613.84 301.55 L1615.33 302.11 L1616.82 302.67 L1618.31 303.24 L1619.8 303.8 L1621.29 304.36 L1622.78 304.92 L1624.27 305.49 L1625.76 306.05 L1627.25 306.62 L1628.74 307.18 L1630.23 307.74 L1631.72 308.31 L1633.21 308.87 L1634.69 309.44 L1636.18 310.01 L1637.67 310.57 L1639.16 311.14 L1640.65 311.71 L1642.14 312.27 L1643.63 312.84 L1645.12 313.41 L1646.61 313.98 L1648.1 314.55 L1649.59 315.12 L1651.08 315.69 L1652.57 316.26 L1654.06 316.83 L1655.55 317.4 L1657.04 317.98 L1658.53 318.55 L1660.02 319.12 L1661.51 319.7 L1663 320.27 L1664.49 320.85 L1665.98 321.42 L1667.47 322 L1668.96 322.57 L1670.45 323.15 L1671.94 323.73 L1673.43 324.31 L1674.92 324.89 L1676.41 325.47 L1677.9 326.05 L1679.39 326.63 L1680.88 327.21 L1682.37 327.79 L1683.86 328.38 L1685.35 328.96 L1686.84 329.54 L1688.33 330.13 L1689.82 330.72 L1691.31 331.3 L1692.8 331.89 L1694.29 332.48 L1695.78 333.07 L1697.27 333.66 L1698.76 334.25 L1700.25 334.84 L1701.74 335.43 L1703.22 336.03 L1704.71 336.62 L1706.2 337.22 L1707.69 337.81 L1709.18 338.41 L1710.67 339.01 L1712.16 339.6 L1713.65 340.2 L1715.14 340.8 L1716.63 341.41 L1718.12 342.01 L1719.61 342.61 L1721.1 343.21 L1722.59 343.82 L1724.08 344.43 L1725.57 345.03 L1727.06 345.64 L1728.55 346.25 L1730.04 346.86 L1731.53 347.47 L1733.02 348.08 L1734.51 348.69 L1736 349.31" stroke="#808000" stroke-width="4.5" fill="none" stroke-dasharray="15 14" stroke-linejoin="round" />
<path d="M992.6 130.74 L994.09 130.69 L995.58 130.63 L997.07 130.58 L998.56 130.53 L1000.05 130.48 L1001.54 130.44 L1003.03 130.4 L1004.52 130.36 L1006.01 130.32 L1007.5 130.28 L1008.99 130.25 L1010.48 130.22 L1011.97 130.19 L1013.46 130.17 L1014.95 130.14 L1016.44 130.12 L1017.93 130.1 L1019.42 130.09 L1020.91 130.08 L1022.4 130.07 L1023.89 130.06 L1025.38 130.06 L1026.86 130.05 L1028.35 130.06 L1029.84 130.06 L1031.33 130.07 L1032.82 130.08 L1034.31 130.09 L1035.8 130.1 L1037.29 130.12 L1038.78 130.15 L1040.27 130.17 L1041.76 130.2 L1043.25 130.23 L1044.74 130.26 L1046.23 130.3 L1047.72 130.34 L1049.21 130.39 L1050.7 130.43 L1052.19 130.48 L1053.68 130.54 L1055.17 130.59 L1056.66 130.66 L1058.15 130.72 L1059.64 130.79 L1061.13 130.86 L1062.62 130.93 L1064.11 131.01 L1065.6 131.09 L1067.09 131.18 L1068.58 131.27 L1070.07 131.36 L1071.56 131.46 L1073.05 131.56 L1074.54 131.66 L1076.03 131.77 L1077.52 131.88 L1079.01 132 L1080.5 132.12 L1081.99 132.24 L1083.48 132.37 L1084.97 132.5 L1086.46 132.63 L1087.95 132.77 L1089.44 132.92 L1090.93 133.06 L1092.42 133.22 L1093.91 133.37 L1095.39 133.53 L1096.88 133.7 L1098.37 133.87 L1099.86 134.04 L1101.35 134.22 L1102.84 134.4 L1104.33 134.58 L1105.82 134.77 L1107.31 134.97 L1108.8 135.17 L1110.29 135.37 L1111.78 135.58 L1113.27 135.8 L1114.76 136.01 L1116.25 136.24 L1117.74 136.46 L1119.23 136.7 L1120.72 136.93 L1122.21 137.17 L1123.7 137.42 L1125.19 137.67 L1126.68 137.93 L1128.17 138.19 L1129.66 138.45 L1131.15 138.72 L1132.64 139 L1134.13 139.28 L1135.62 139.57 L1137.11 139.86 L1138.6 140.15 L1140.09 140.46 L1141.58 140.76 L1143.07 141.07 L1144.56 141.39 L1146.05 141.71 L1147.54 142.04 L1149.03 142.37 L1150.52 142.71 L1152.01 143.06 L1153.5 143.4 L1154.99 143.76 L1156.48 144.12 L1157.97 144.48 L1159.46 144.86 L1160.95 145.23 L1162.43 145.61 L1163.92 146 L1165.41 146.4 L1166.9 146.8 L1168.39 147.2 L1169.88 147.61 L1171.37 148.03 L1172.86 148.45 L1174.35 148.88 L1175.84 149.31 L1177.33 149.75 L1178.82 150.2 L1180.31 150.65 L1181.8 151.11 L1183.29 151.57 L1184.78 152.04 L1186.27 152.52 L1187.76 153 L1189.25 153.49 L1190.74 153.99 L1192.23 154.49 L1193.72 155 L1195.21 155.51 L1196.7 156.03 L1198.19 156.56 L1199.68 157.09 L1201.17 157.63 L1202.66 158.17 L1204.15 158.73 L1205.64 159.28 L1207.13 159.85 L1208.62 160.42 L1210.11 161 L1211.6 161.58 L1213.09 162.17 L1214.58 162.77 L1216.07 163.37 L1217.56 163.97 L1219.05 164.58 L1220.54 165.2 L1222.03 165.82 L1223.52 166.45 L1225.01 167.08 L1226.5 167.71 L1227.99 168.35 L1229.47 169 L1230.96 169.65 L1232.45 170.3 L1233.94 170.96 L1235.43 171.62 L1236.92 172.29 L1238.41 172.96 L1239.9 173.63 L1241.39 174.3 L1242.88 174.98 L1244.37 175.67 L1245.86 176.35 L1247.35 177.04 L1248.84 177.73 L1250.33 178.43 L1251.82 179.12 L1253.31 179.82 L1254.8 180.53 L1256.29 181.23 L1257.78 181.94 L1259.27 182.64 L1260.76 183.35 L1262.25 184.07 L1263.74 184.78 L1265.23 185.49 L1266.72 186.21 L1268.21 186.93 L1269.7 187.65 L1271.19 188.37 L1272.68 189.09 L1274.17 189.81 L1275.66 190.53 L1277.15 191.25 L1278.64 191.98 L1280.13 192.7 L1281.62 193.42 L1283.11 194.14 L1284.6 194.87 L1286.09 195.59 L1287.58 196.31 L1289.07 197.04 L1290.56 197.76 L1292.05 198.48 L1293.54 199.2 L1295.03 199.92 L1296.52 200.64 L1298 201.36 L1299.49 202.08 L1300.98 202.8 L1302.47 203.51 L1303.96 204.23 L1305.45 204.95 L1306.94 205.66 L1308.43 206.38 L1309.92 207.09 L1311.41 207.81 L1312.9 208.52 L1314.39 209.23 L1315.88 209.94 L1317.37 210.65 L1318.86 211.36 L1320.35 212.07 L1321.84 212.78 L1323.33 213.49 L1324.82 214.19 L1326.31 214.9 L1327.8 215.6 L1329.29 216.31 L1330.78 217.01 L1332.27 217.71 L1333.76 218.41 L1335.25 219.11 L1336.74 219.81 L1338.23 220.5 L1339.72 221.2 L1341.21 221.89 L1342.7 222.58 L1344.19 223.28 L1345.68 223.97 L1347.17 224.66 L1348.66 225.34 L1350.15 226.03 L1351.64 226.72 L1353.13 227.4 L1354.62 228.08 L1356.11 228.76 L1357.6 229.44 L1359.09 230.12 L1360.58 230.8 L1362.07 231.47 L1363.56 232.15 L1365.04 232.82 L1366.53 233.49 L1368.02 234.16 L1369.51 234.82 L1371 235.49 L1372.49 236.15 L1373.98 236.81 L1375.47 237.47 L1376.96 238.13 L1378.45 238.79 L1379.94 239.45 L1381.43 240.1 L1382.92 240.75 L1384.41 241.41 L1385.9 242.05 L1387.39 242.7 L1388.88 243.35 L1390.37 244 L1391.86 244.64 L1393.35 245.28 L1394.84 245.92 L1396.33 246.56 L1397.82 247.2 L1399.31 247.84 L1400.8 248.47 L1402.29 249.11 L1403.78 249.74 L1405.27 250.37 L1406.76 251 L1408.25 251.63 L1409.74 252.25 L1411.23 252.88 L1412.72 253.5 L1414.21 254.13 L1415.7 254.75 L1417.19 255.37 L1418.68 255.99 L1420.17 256.61 L1421.66 257.23 L1423.15 257.84 L1424.64 258.46 L1426.13 259.07 L1427.62 259.68 L1429.11 260.29 L1430.6 260.9 L1432.08 261.51 L1433.57 262.12 L1435.06 262.73 L1436.55 263.33 L1438.04 263.94 L1439.53 264.54 L1441.02 265.14 L1442.51 265.74 L1444 266.34 L1445.49 266.94 L1446.98 267.54 L1448.47 268.14 L1449.96 268.74 L1451.45 269.33 L1452.94 269.93 L1454.43 270.52 L1455.92 271.11 L1457.41 271.7 L1458.9 272.29 L1460.39 272.88 L1461.88 273.47 L1463.37 274.06 L1464.86 274.65 L1466.35 275.23 L1467.84 275.82 L1469.33 276.4 L1470.82 276.99 L1472.31 277.57 L1473.8 278.15 L1475.29 278.74 L1476.78 279.32 L1478.27 279.9 L1479.76 280.48 L1481.25 281.05 L1482.74 281.63 L1484.23 282.21 L1485.72 282.79 L1487.21 283.36 L1488.7 283.94 L1490.19 284.51 L1491.68 285.09 L1493.17 285.66 L1494.66 286.23 L1496.15 286.8 L1497.64 287.38 L1499.13 287.95 L1500.61 288.52 L1502.1 289.09 L1503.59 289.66 L1505.08 290.22 L1506.57 290.79 L1508.06 291.36 L1509.55 291.93 L1511.04 292.49 L1512.53 293.06 L1514.02 293.63 L1515.51 294.19 L1517 294.76 L1518.49 295.32 L1519.98 295.89 L1521.47 296.45 L1522.96 297.01 L1524.45 297.58 L1525.94 298.14 L1527.43 298.7 L1528.92 299.26 L1530.41 299.83 L1531.9 300.39 L1533.39 300.95 L1534.88 301.51 L1536.37 302.07 L1537.86 302.63 L1539.35 303.19 L1540.84 303.75 L1542.33 304.31 L1543.82 304.87 L1545.31 305.43 L1546.8 305.99 L1548.29 306.55 L1549.78 307.11 L1551.27 307.67 L1552.76 308.22 L1554.25 308.78 L1555.74 309.34 L1557.23 309.9 L1558.72 310.46 L1560.21 311.02 L1561.7 311.57 L1563.19 312.13 L1564.68 312.69 L1566.17 313.25 L1567.65 313.81 L1569.14 314.36 L1570.63 314.92 L1572.12 315.48 L1573.61 316.04 L1575.1 316.6 L1576.59 317.16 L1578.08 317.71 L1579.57 318.27 L1581.06 318.83 L1582.55 319.39 L1584.04 319.95 L1585.53 320.51 L1587.02 321.07 L1588.51 321.63 L1590 322.19 L1591.49 322.75 L1592.98 323.31 L1594.47 323.87 L1595.96 324.43 L1597.45 324.99 L1598.94 325.55 L1600.43 326.11 L1601.92 326.67 L1603.41 327.23 L1604.9 327.79 L1606.39 328.36 L1607.88 328.92 L1609.37 329.48 L1610.86 330.05 L1612.35 330.61 L1613.84 331.17 L1615.33 331.74 L1616.82 332.3 L1618.31 332.87 L1619.8 333.43 L1621.29 334 L1622.78 334.57 L1624.27 335.13 L1625.76 335.7 L1627.25 336.27 L1628.74 336.84 L1630.23 337.41 L1631.72 337.98 L1633.21 338.55 L1634.69 339.12 L1636.18 339.69 L1637.67 340.26 L1639.16 340.84 L1640.65 341.41 L1642.14 341.98 L1643.63 342.56 L1645.12 343.13 L1646.61 343.71 L1648.1 344.28 L1649.59 344.86 L1651.08 345.44 L1652.57 346.02 L1654.06 346.6 L1655.55 347.18 L1657.04 347.76 L1658.53 348.34 L1660.02 348.92 L1661.51 349.5 L1663 350.09 L1664.49 350.67 L1665.98 351.26 L1667.47 351.84 L1668.96 352.43 L1670.45 353.02 L1671.94 353.61 L1673.43 354.2 L1674.92 354.79 L1676.41 355.38 L1677.9 355.97 L1679.39 356.57 L1680.88 357.16 L1682.37 357.76 L1683.86 358.35 L1685.35 358.95 L1686.84 359.55 L1688.33 360.15 L1689.82 360.75 L1691.31 361.35 L1692.8 361.95 L1694.29 362.55 L1695.78 363.16 L1697.27 363.76 L1698.76 364.37 L1700.25 364.98 L1701.74 365.59 L1703.22 366.2 L1704.71 366.81 L1706.2 367.42 L1707.69 368.03 L1709.18 368.65 L1710.67 369.26 L1712.16 369.88 L1713.65 370.5 L1715.14 371.12 L1716.63 371.74 L1718.12 372.36 L1719.61 372.98 L1721.1 373.61 L1722.59 374.23 L1724.08 374.86 L1725.57 375.49 L1727.06 376.12 L1728.55 376.75 L1730.04 377.38 L1731.53 378.02 L1733.02 378.65 L1734.51 379.29 L1736 379.92" stroke="#ff00ff" stroke-width="4.5" fill="none" stroke-dasharray="15 14" stroke-linejoin="round" />
<path d="M992.6 172.83 L994.09 172.94 L995.58 173.05 L997.07 173.15 L998.56 173.25 L1000.05 173.35 L1001.54 173.44 L1003.03 173.53 L1004.52 173.62 L1006.01 173.7 L1007.5 173.79 L1008.99 173.86 L1010.48 173.94 L1011.97 174.01 L1013.46 174.08 L1014.95 174.15 L1016.44 174.22 L1017.93 174.28 L1019.42 174.34 L1020.91 174.4 L1022.4 174.45 L1023.89 174.51 L1025.38 174.56 L1026.86 174.61 L1028.35 174.65 L1029.84 174.7 L1031.33 174.74 L1032.82 174.78 L1034.31 174.82 L1035.8 174.86 L1037.29 174.89 L1038.78 174.93 L1040.27 174.96 L1041.76 174.99 L1043.25 175.02 L1044.74 175.04 L1046.23 175.07 L1047.72 175.09 L1049.21 175.12 L1050.7 175.14 L1052.19 175.16 L1053.68 175.18 L1055.17 175.2 L1056.66 175.21 L1058.15 175.23 L1059.64 175.24 L1061.13 175.26 L1062.62 175.27 L1064.11 175.28 L1065.6 175.3 L1067.09 175.31 L1068.58 175.32 L1070.07 175.33 L1071.56 175.34 L1073.05 175.35 L1074.54 175.35 L1076.03 175.36 L1077.52 175.37 L1079.01 175.38 L1080.5 175.39 L1081.99 175.39 L1083.48 175.4 L1084.97 175.41 L1086.46 175.41 L1087.95 175.42 L1089.44 175.43 L1090.93 175.44 L1092.42 175.45 L1093.91 175.45 L1095.39 175.46 L1096.88 175.47 L1098.37 175.48 L1099.86 175.49 L1101.35 175.5 L1102.84 175.52 L1104.33 175.53 L1105.82 175.54 L1107.31 175.56 L1108.8 175.57 L1110.29 175.59 L1111.78 175.6 L1113.27 175.62 L1114.76 175.64 L1116.25 175.66 L1117.74 175.68 L1119.23 175.7 L1120.72 175.73 L1122.21 175.75 L1123.7 175.78 L1125.19 175.81 L1126.68 175.84 L1128.17 175.87 L1129.66 175.9 L1131.15 175.94 L1132.64 175.98 L1134.13 176.02 L1135.62 176.06 L1137.11 176.1 L1138.6 176.14 L1140.09 176.19 L1141.58 176.24 L1143.07 176.29 L1144.56 176.34 L1146.05 176.4 L1147.54 176.46 L1149.03 176.52 L1150.52 176.58 L1152.01 176.64 L1153.5 176.71 L1154.99 176.78 L1156.48 176.86 L1157.97 176.94 L1159.46 177.02 L1160.95 177.1 L1162.43 177.18 L1163.92 177.27 L1165.41 177.37 L1166.9 177.46 L1168.39 177.57 L1169.88 177.67 L1171.37 177.78 L1172.86 177.89 L1174.35 178.01 L1175.84 178.13 L1177.33 178.25 L1178.82 178.38 L1180.31 178.51 L1181.8 178.65 L1183.29 178.79 L1184.78 178.94 L1186.27 179.09 L1187.76 179.25 L1189.25 179.41 L1190.74 179.57 L1192.23 179.75 L1193.72 179.92 L1195.21 180.1 L1196.7 180.29 L1198.19 180.48 L1199.68 180.68 L1201.17 180.89 L1202.66 181.1 L1204.15 181.31 L1205.64 181.53 L1207.13 181.76 L1208.62 182 L1210.11 182.24 L1211.6 182.48 L1213.09 182.73 L1214.58 182.99 L1216.07 183.26 L1217.56 183.53 L1219.05 183.81 L1220.54 184.1 L1222.03 184.39 L1223.52 184.69 L1225.01 185 L1226.5 185.31 L1227.99 185.63 L1229.47 185.96 L1230.96 186.3 L1232.45 186.64 L1233.94 187 L1235.43 187.35 L1236.92 187.72 L1238.41 188.09 L1239.9 188.47 L1241.39 188.86 L1242.88 189.26 L1244.37 189.66 L1245.86 190.07 L1247.35 190.48 L1248.84 190.9 L1250.33 191.33 L1251.82 191.77 L1253.31 192.21 L1254.8 192.65 L1256.29 193.11 L1257.78 193.57 L1259.27 194.03 L1260.76 194.51 L1262.25 194.98 L1263.74 195.47 L1265.23 195.96 L1266.72 196.45 L1268.21 196.96 L1269.7 197.46 L1271.19 197.98 L1272.68 198.49 L1274.17 199.02 L1275.66 199.54 L1277.15 200.08 L1278.64 200.62 L1280.13 201.16 L1281.62 201.71 L1283.11 202.26 L1284.6 202.82 L1286.09 203.39 L1287.58 203.95 L1289.07 204.53 L1290.56 205.1 L1292.05 205.69 L1293.54 206.27 L1295.03 206.86 L1296.52 207.46 L1298 208.06 L1299.49 208.66 L1300.98 209.27 L1302.47 209.88 L1303.96 210.49 L1305.45 211.11 L1306.94 211.73 L1308.43 212.36 L1309.92 212.99 L1311.41 213.62 L1312.9 214.26 L1314.39 214.9 L1315.88 215.54 L1317.37 216.18 L1318.86 216.83 L1320.35 217.49 L1321.84 218.14 L1323.33 218.8 L1324.82 219.46 L1326.31 220.12 L1327.8 220.79 L1329.29 221.46 L1330.78 222.13 L1332.27 222.8 L1333.76 223.48 L1335.25 224.15 L1336.74 224.83 L1338.23 225.52 L1339.72 226.2 L1341.21 226.89 L1342.7 227.57 L1344.19 228.26 L1345.68 228.96 L1347.17 229.65 L1348.66 230.34 L1350.15 231.04 L1351.64 231.74 L1353.13 232.44 L1354.62 233.14 L1356.11 233.84 L1357.6 234.54 L1359.09 235.25 L1360.58 235.95 L1362.07 236.66 L1363.56 237.36 L1365.04 238.07 L1366.53 238.78 L1368.02 239.48 L1369.51 240.19 L1371 240.9 L1372.49 241.61 L1373.98 242.32 L1375.47 243.03 L1376.96 243.74 L1378.45 244.45 L1379.94 245.16 L1381.43 245.87 L1382.92 246.58 L1384.41 247.29 L1385.9 248 L1387.39 248.71 L1388.88 249.42 L1390.37 250.12 L1391.86 250.83 L1393.35 251.54 L1394.84 252.24 L1396.33 252.95 L1397.82 253.65 L1399.31 254.36 L1400.8 255.06 L1402.29 255.76 L1403.78 256.46 L1405.27 257.15 L1406.76 257.85 L1408.25 258.55 L1409.74 259.24 L1411.23 259.93 L1412.72 260.62 L1414.21 261.31 L1415.7 262 L1417.19 262.68 L1418.68 263.37 L1420.17 264.05 L1421.66 264.73 L1423.15 265.41 L1424.64 266.08 L1426.13 266.76 L1427.62 267.43 L1429.11 268.11 L1430.6 268.78 L1432.08 269.45 L1433.57 270.11 L1435.06 270.78 L1436.55 271.44 L1438.04 272.11 L1439.53 272.77 L1441.02 273.43 L1442.51 274.09 L1444 274.75 L1445.49 275.4 L1446.98 276.06 L1448.47 276.71 L1449.96 277.36 L1451.45 278.01 L1452.94 278.66 L1454.43 279.31 L1455.92 279.95 L1457.41 280.6 L1458.9 281.24 L1460.39 281.88 L1461.88 282.52 L1463.37 283.16 L1464.86 283.8 L1466.35 284.44 L1467.84 285.07 L1469.33 285.71 L1470.82 286.34 L1472.31 286.97 L1473.8 287.6 L1475.29 288.23 L1476.78 288.86 L1478.27 289.49 L1479.76 290.11 L1481.25 290.74 L1482.74 291.36 L1484.23 291.98 L1485.72 292.6 L1487.21 293.22 L1488.7 293.84 L1490.19 294.46 L1491.68 295.08 L1493.17 295.69 L1494.66 296.31 L1496.15 296.92 L1497.64 297.53 L1499.13 298.14 L1500.61 298.75 L1502.1 299.36 L1503.59 299.97 L1505.08 300.58 L1506.57 301.18 L1508.06 301.79 L1509.55 302.39 L1511.04 303 L1512.53 303.6 L1514.02 304.2 L1515.51 304.8 L1517 305.4 L1518.49 306 L1519.98 306.6 L1521.47 307.19 L1522.96 307.79 L1524.45 308.39 L1525.94 308.98 L1527.43 309.57 L1528.92 310.17 L1530.41 310.76 L1531.9 311.35 L1533.39 311.94 L1534.88 312.53 L1536.37 313.12 L1537.86 313.71 L1539.35 314.29 L1540.84 314.88 L1542.33 315.47 L1543.82 316.05 L1545.31 316.63 L1546.8 317.22 L1548.29 317.8 L1549.78 318.38 L1551.27 318.97 L1552.76 319.55 L1554.25 320.13 L1555.74 320.71 L1557.23 321.29 L1558.72 321.87 L1560.21 322.44 L1561.7 323.02 L1563.19 323.6 L1564.68 324.17 L1566.17 324.75 L1567.65 325.33 L1569.14 325.9 L1570.63 326.47 L1572.12 327.05 L1573.61 327.62 L1575.1 328.19 L1576.59 328.77 L1578.08 329.34 L1579.57 329.91 L1581.06 330.48 L1582.55 331.05 L1584.04 331.62 L1585.53 332.19 L1587.02 332.76 L1588.51 333.33 L1590 333.9 L1591.49 334.47 L1592.98 335.04 L1594.47 335.6 L1595.96 336.17 L1597.45 336.74 L1598.94 337.3 L1600.43 337.87 L1601.92 338.44 L1603.41 339 L1604.9 339.57 L1606.39 340.13 L1607.88 340.7 L1609.37 341.26 L1610.86 341.83 L1612.35 342.39 L1613.84 342.96 L1615.33 343.52 L1616.82 344.09 L1618.31 344.65 L1619.8 345.21 L1621.29 345.78 L1622.78 346.34 L1624.27 346.91 L1625.76 347.47 L1627.25 348.03 L1628.74 348.6 L1630.23 349.16 L1631.72 349.72 L1633.21 350.28 L1634.69 350.85 L1636.18 351.41 L1637.67 351.97 L1639.16 352.54 L1640.65 353.1 L1642.14 353.66 L1643.63 354.23 L1645.12 354.79 L1646.61 355.35 L1648.1 355.92 L1649.59 356.48 L1651.08 357.04 L1652.57 357.61 L1654.06 358.17 L1655.55 358.73 L1657.04 359.3 L1658.53 359.86 L1660.02 360.43 L1661.51 360.99 L1663 361.55 L1664.49 362.12 L1665.98 362.68 L1667.47 363.25 L1668.96 363.81 L1670.45 364.38 L1671.94 364.95 L1673.43 365.51 L1674.92 366.08 L1676.41 366.65 L1677.9 367.21 L1679.39 367.78 L1680.88 368.35 L1682.37 368.92 L1683.86 369.48 L1685.35 370.05 L1686.84 370.62 L1688.33 371.19 L1689.82 371.76 L1691.31 372.33 L1692.8 372.9 L1694.29 373.47 L1695.78 374.04 L1697.27 374.62 L1698.76 375.19 L1700.25 375.76 L1701.74 376.34 L1703.22 376.91 L1704.71 377.48 L1706.2 378.06 L1707.69 378.63 L1709.18 379.21 L1710.67 379.79 L1712.16 380.36 L1713.65 380.94 L1715.14 381.52 L1716.63 382.1 L1718.12 382.68 L1719.61 383.26 L1721.1 383.84 L1722.59 384.42 L1724.08 385 L1725.57 385.58 L1727.06 386.16 L1728.55 386.75 L1730.04 387.33 L1731.53 387.92 L1733.02 388.5 L1734.51 389.09 L1736 389.68" stroke="#0000ff" stroke-width="4.5" fill="none" stroke-dasharray="15 14" stroke-linejoin="round" />
<path d="M1116.2 24.8 L1728.5 493.5" stroke="#000" stroke-width="5.5" fill="none" stroke-dasharray="7 7.6" stroke-linejoin="round" />
</g>
<path d="M1178.45 24.8 v6.5 M1178.45 493 v-6.5 M1364.3 24.8 v6.5 M1364.3 493 v-6.5 M1550.15 24.8 v6.5 M1550.15 493 v-6.5 M992.6 57.3 h6.5 M1736 57.3 h-6.5 M992.6 202.5 h6.5 M1736 202.5 h-6.5 M992.6 347.7 h6.5 M1736 347.7 h-6.5" stroke="#000" stroke-width="2" fill="none"/>
<rect x="992.6" y="24.8" width="743.4" height="468.2" fill="none" stroke="#000" stroke-width="2"/>
<text x="889.5" y="25.2" font-size="40" font-family="'Liberation Serif', 'Times New Roman', serif" fill="#000" font-weight="bold" >b</text>
<text x="928.9" y="73.2" font-family="'Liberation Sans', Arial, Helvetica, sans-serif" font-size="28.5">10<tspan font-size="20" dy="-11">2</tspan></text>
<text x="928.9" y="218" font-family="'Liberation Sans', Arial, Helvetica, sans-serif" font-size="28.5">10<tspan font-size="20" dy="-11">1</tspan></text>
<text x="928.9" y="363.3" font-family="'Liberation Sans', Arial, Helvetica, sans-serif" font-size="28.5">10<tspan font-size="20" dy="-11">0</tspan></text>
<text x="914.8" y="508.1" font-family="'Liberation Sans', Arial, Helvetica, sans-serif" font-size="28.5">10<tspan font-size="20" dy="-11">−1</tspan></text>
<text transform="translate(910.9 408.8) rotate(-90)" x="-0.57" y="0" font-family="'Liberation Serif', 'Times New Roman', serif" font-size="36.61">Uncertainty (nT)</text>
<text x="1246.76" y="78.5" font-size="36.43" font-family="'Liberation Serif', 'Times New Roman', serif" fill="#ff0000" >Optimally</text>
<text x="1248.96" y="122.5" font-size="36.63" font-family="'Liberation Serif', 'Times New Roman', serif" fill="#ff0000" >combined</text>
<text x="1479.43" y="74.7" font-size="36.73" font-family="'Liberation Serif', 'Times New Roman', serif" fill="#000" >Maximum</text>
<text transform="translate(1644.5 74.7) scale(1.25 1)" x="0" y="0" font-size="36" font-family="'Liberation Serif', 'Times New Roman', serif" fill="#000" font-style="italic">σ</text>
<text x="1669.6" y="79.4" font-size="24" font-family="'Liberation Serif', 'Times New Roman', serif" fill="#000" font-style="italic" >B</text>
<text transform="translate(1699.76 74.7) scale(1.22 1)" x="0" y="0" font-size="34" font-family="'DejaVu Math TeX Gyre', 'DejaVu Serif', serif" fill="#000">∝</text>
<text x="1561.23" y="117.2" font-size="36.74" font-family="'Liberation Serif', 'Times New Roman', serif" fill="#000" >range</text>
<text x="1008.27" y="223.2" font-size="36.11" font-family="'Liberation Serif', 'Times New Roman', serif" fill="#808080" >Only</text>
<text transform="translate(1095.55 206.7) scale(0.87 1)" x="0" y="0" font-size="26.49" font-family="'Liberation Serif', 'Times New Roman', serif" fill="#808080" font-style="italic">A</text>
<text x="1111" y="211.1" font-size="18" font-family="'Liberation Sans', Arial, Helvetica, sans-serif" fill="#808080" >0</text>
<rect x="1095.4" y="212.75" width="27.4" height="2.3" fill="#808080"/>
<text x="1102.2" y="236" font-size="24.5" font-family="'Liberation Sans', Arial, Helvetica, sans-serif" fill="#808080" >8</text>
<text x="1008.27" y="275.1" font-size="36.11" font-family="'Liberation Serif', 'Times New Roman', serif" fill="#808000" >Only</text>
<text transform="translate(1095.55 258.6) scale(0.87 1)" x="0" y="0" font-size="26.49" font-family="'Liberation Serif', 'Times New Roman', serif" fill="#808000" font-style="italic">A</text>
<text x="1111" y="263" font-size="18" font-family="'Liberation Sans', Arial, Helvetica, sans-serif" fill="#808000" >0</text>
<rect x="1095.4" y="264.65" width="27.4" height="2.3" fill="#808000"/>
<text x="1102.25" y="287.9" font-size="24.5" font-family="'Liberation Sans', Arial, Helvetica, sans-serif" fill="#808000" >4</text>
<text x="1008.27" y="326.9" font-size="36.11" font-family="'Liberation Serif', 'Times New Roman', serif" fill="#ff00ff" >Only</text>
<text transform="translate(1095.55 310.4) scale(0.87 1)" x="0" y="0" font-size="26.49" font-family="'Liberation Serif', 'Times New Roman', serif" fill="#ff00ff" font-style="italic">A</text>
<text x="1111" y="314.8" font-size="18" font-family="'Liberation Sans', Arial, Helvetica, sans-serif" fill="#ff00ff" >0</text>
<rect x="1095.4" y="316.45" width="27.4" height="2.3" fill="#ff00ff"/>
<text x="1102.2" y="339.7" font-size="24.5" font-family="'Liberation Sans', Arial, Helvetica, sans-serif" fill="#ff00ff" >2</text>
<text x="1008.27" y="376.9" font-size="36.11" font-family="'Liberation Serif', 'Times New Roman', serif" fill="#0000ff" >Only</text>
<text transform="translate(1092 376.9) scale(0.92 1)" x="0" y="0" font-size="34.83" font-family="'Liberation Serif', 'Times New Roman', serif" fill="#0000ff" font-style="italic">A</text>
<text x="1113.1" y="382.3" font-size="24.5" font-family="'Liberation Sans', Arial, Helvetica, sans-serif" fill="#0000ff" >0</text>
<text transform="translate(1589.56 255.2) scale(1.22 1)" x="0" y="0" font-size="34" font-family="'DejaVu Math TeX Gyre', 'DejaVu Serif', serif" fill="#808080">∝</text>
<text x="1625.75" y="255.2" font-size="36" font-family="'Liberation Serif', 'Times New Roman', serif" fill="#808080" font-style="italic" >T</text>
<text x="1647.4" y="241.5" font-size="24.44" font-family="'Liberation Sans', Arial, Helvetica, sans-serif" fill="#808080" >−0.5</text>
<text x="1646.2" y="264.4" font-size="25.48" font-family="'Liberation Serif', 'Times New Roman', serif" fill="#808080" >meas</text>
<text transform="translate(1511.36 463.6) scale(1.22 1)" x="0" y="0" font-size="34" font-family="'DejaVu Math TeX Gyre', 'DejaVu Serif', serif" fill="#000">∝</text>
<text x="1547.35" y="463.6" font-size="36" font-family="'Liberation Serif', 'Times New Roman', serif" fill="#000" font-style="italic" >T</text>
<text x="1568" y="450" font-size="25.06" font-family="'Liberation Sans', Arial, Helvetica, sans-serif" fill="#000" >−0.98</text>
<text x="1567.7" y="472.8" font-size="25.88" font-family="'Liberation Serif', 'Times New Roman', serif" fill="#000" >meas</text>
<g clip-path="url(#clipd)">
<path d="M107 425.27 L107.51 425.39 L108.02 425.53 L108.53 425.66 L109.03 425.8 L109.54 425.95 L110.05 426.09 L110.56 426.24 L111.07 426.4 L111.58 426.56 L112.08 426.72 L112.59 426.88 L113.1 427.06 L113.61 427.23 L114.12 427.41 L114.63 427.59 L115.13 427.78 L115.64 427.98 L116.15 428.17 L116.66 428.38 L117.17 428.59 L117.68 428.8 L118.18 429.02 L118.69 429.25 L119.2 429.48 L119.71 429.71 L120.22 429.96 L120.73 430.21 L121.23 430.46 L121.74 430.72 L122.25 430.99 L122.76 431.27 L123.27 431.55 L123.78 431.84 L124.29 432.14 L124.79 432.44 L125.3 432.76 L125.81 433.08 L126.32 433.4 L126.83 433.74 L127.34 434.09 L127.84 434.44 L128.35 434.81 L128.86 435.18 L129.37 435.56 L129.88 435.95 L130.39 436.36 L130.89 436.77 L131.4 437.19 L131.91 437.62 L132.42 438.07 L132.93 438.53 L133.44 438.99 L133.94 439.47 L134.45 439.97 L134.96 440.47 L135.47 440.99 L135.98 441.52 L136.49 442.06 L136.99 442.62 L137.5 443.19 L138.01 443.78 L138.52 444.38 L139.03 445 L139.54 445.63 L140.05 446.28 L140.55 446.95 L141.06 447.63 L141.57 448.33 L142.08 449.05 L142.59 449.79 L143.1 450.54 L143.6 451.32 L144.11 452.11 L144.62 452.93 L145.13 453.76 L145.64 454.62 L146.15 455.5 L146.65 456.4 L147.16 457.32 L147.67 458.27 L148.18 459.24 L148.69 460.24 L149.2 461.26 L149.7 462.31 L150.21 463.39 L150.72 464.49 L151.23 465.62 L151.74 466.78 L152.25 467.97 L152.75 469.19 L153.26 470.44 L153.77 471.72 L154.28 473.04 L154.79 474.39 L155.3 475.77 L155.81 477.19 L156.31 478.64 L156.82 480.13 L157.33 481.66 L157.84 483.23 L158.35 484.84 L158.86 486.49 L159.36 488.19 L159.87 489.92 L160.38 491.7 L160.89 493.53 L161.4 495.4 L161.91 497.32 L162.41 499.29 L162.92 501.31 L163.43 503.38 L163.94 505.5 L164.45 507.68 L164.96 509.91 L165.46 512.2 L165.97 514.55 L166.48 516.96 L166.99 519.43 L167.5 521.97 L851 975.13" stroke="rgb(255,0,0)" stroke-width="2.2" fill="none" stroke-linejoin="round" />
<path d="M107 434.9 L107.54 435.03 L108.08 435.16 L108.62 435.3 L109.16 435.44 L109.69 435.58 L110.23 435.73 L110.77 435.88 L111.31 436.03 L111.85 436.19 L112.39 436.35 L112.93 436.52 L113.47 436.69 L114 436.86 L114.54 437.04 L115.08 437.23 L115.62 437.42 L116.16 437.61 L116.7 437.81 L117.24 438.01 L117.78 438.22 L118.32 438.44 L118.85 438.66 L119.39 438.88 L119.93 439.11 L120.47 439.35 L121.01 439.59 L121.55 439.84 L122.09 440.1 L122.63 440.36 L123.17 440.63 L123.7 440.9 L124.24 441.19 L124.78 441.48 L125.32 441.77 L125.86 442.08 L126.4 442.39 L126.94 442.71 L127.48 443.04 L128.01 443.38 L128.55 443.72 L129.09 444.08 L129.63 444.44 L130.17 444.81 L130.71 445.2 L131.25 445.59 L131.79 445.99 L132.33 446.4 L132.86 446.83 L133.4 447.26 L133.94 447.7 L134.48 448.16 L135.02 448.63 L135.56 449.11 L136.1 449.6 L136.64 450.11 L137.17 450.62 L137.71 451.15 L138.25 451.7 L138.79 452.26 L139.33 452.83 L139.87 453.42 L140.41 454.02 L140.95 454.64 L141.49 455.27 L142.02 455.92 L142.56 456.58 L143.1 457.27 L143.64 457.97 L144.18 458.69 L144.72 459.42 L145.26 460.18 L145.8 460.95 L146.33 461.75 L146.87 462.56 L147.41 463.4 L147.95 464.25 L148.49 465.13 L149.03 466.03 L149.57 466.96 L150.11 467.91 L150.65 468.88 L151.18 469.87 L151.72 470.9 L152.26 471.95 L152.8 473.02 L153.34 474.12 L153.88 475.25 L154.42 476.41 L154.96 477.6 L155.5 478.82 L156.03 480.07 L156.57 481.36 L157.11 482.67 L157.65 484.02 L158.19 485.4 L158.73 486.82 L159.27 488.28 L159.81 489.77 L160.34 491.3 L160.88 492.87 L161.42 494.48 L161.96 496.13 L162.5 497.82 L163.04 499.56 L163.58 501.34 L164.12 503.16 L164.66 505.03 L165.19 506.95 L165.73 508.92 L166.27 510.94 L166.81 513.01 L167.35 515.14 L167.89 517.31 L168.43 519.55 L168.97 521.84 L169.5 524.19 L170.04 526.6 L170.58 529.07 L171.12 531.6 L851 982.36" stroke="rgb(255,0,0)" stroke-width="2.2" fill="none" stroke-linejoin="round" />
<path d="M107 444.59 L107.57 444.72 L108.14 444.85 L108.71 444.99 L109.28 445.13 L109.85 445.27 L110.42 445.42 L110.99 445.57 L111.56 445.72 L112.13 445.88 L112.69 446.04 L113.26 446.21 L113.83 446.38 L114.4 446.55 L114.97 446.73 L115.54 446.92 L116.11 447.11 L116.68 447.3 L117.25 447.5 L117.82 447.7 L118.39 447.91 L118.96 448.12 L119.53 448.34 L120.1 448.57 L120.67 448.8 L121.24 449.04 L121.81 449.28 L122.38 449.53 L122.94 449.78 L123.51 450.05 L124.08 450.32 L124.65 450.59 L125.22 450.87 L125.79 451.16 L126.36 451.46 L126.93 451.77 L127.5 452.08 L128.07 452.4 L128.64 452.73 L129.21 453.06 L129.78 453.41 L130.35 453.76 L130.92 454.13 L131.49 454.5 L132.06 454.88 L132.63 455.28 L133.19 455.68 L133.76 456.09 L134.33 456.51 L134.9 456.95 L135.47 457.39 L136.04 457.85 L136.61 458.32 L137.18 458.8 L137.75 459.29 L138.32 459.79 L138.89 460.31 L139.46 460.84 L140.03 461.39 L140.6 461.94 L141.17 462.52 L141.74 463.1 L142.31 463.71 L142.88 464.32 L143.44 464.96 L144.01 465.61 L144.58 466.27 L145.15 466.95 L145.72 467.66 L146.29 468.37 L146.86 469.11 L147.43 469.87 L148 470.64 L148.57 471.43 L149.14 472.25 L149.71 473.08 L150.28 473.94 L150.85 474.82 L151.42 475.72 L151.99 476.65 L152.56 477.59 L153.13 478.57 L153.7 479.56 L154.26 480.58 L154.83 481.63 L155.4 482.71 L155.97 483.81 L156.54 484.94 L157.11 486.1 L157.68 487.29 L158.25 488.51 L158.82 489.76 L159.39 491.04 L159.96 492.36 L160.53 493.71 L161.1 495.09 L161.67 496.51 L162.24 497.96 L162.81 499.46 L163.38 500.99 L163.95 502.56 L164.51 504.17 L165.08 505.82 L165.65 507.51 L166.22 509.24 L166.79 511.02 L167.36 512.85 L167.93 514.72 L168.5 516.64 L169.07 518.61 L169.64 520.63 L170.21 522.7 L170.78 524.82 L171.35 527 L171.92 529.24 L172.49 531.53 L173.06 533.88 L173.63 536.28 L174.2 538.75 L174.76 541.29 L851 989.63" stroke="rgb(249,0,6)" stroke-width="2.2" fill="none" stroke-linejoin="round" />
<path d="M107 454.33 L107.6 454.46 L108.2 454.59 L108.8 454.73 L109.4 454.87 L110 455.01 L110.6 455.16 L111.2 455.31 L111.8 455.46 L112.4 455.62 L113 455.78 L113.6 455.95 L114.2 456.12 L114.8 456.29 L115.4 456.47 L116 456.66 L116.6 456.85 L117.2 457.04 L117.8 457.24 L118.4 457.44 L119 457.65 L119.61 457.87 L120.21 458.09 L120.81 458.31 L121.41 458.54 L122.01 458.78 L122.61 459.02 L123.21 459.27 L123.81 459.53 L124.41 459.79 L125.01 460.06 L125.61 460.33 L126.21 460.62 L126.81 460.9 L127.41 461.2 L128.01 461.51 L128.61 461.82 L129.21 462.14 L129.81 462.47 L130.41 462.81 L131.01 463.15 L131.61 463.51 L132.21 463.87 L132.81 464.24 L133.41 464.63 L134.01 465.02 L134.61 465.42 L135.21 465.83 L135.81 466.26 L136.41 466.69 L137.01 467.13 L137.61 467.59 L138.21 468.06 L138.81 468.54 L139.41 469.03 L140.01 469.53 L140.61 470.05 L141.21 470.58 L141.81 471.13 L142.41 471.69 L143.01 472.26 L143.61 472.85 L144.21 473.45 L144.82 474.06 L145.42 474.7 L146.02 475.35 L146.62 476.01 L147.22 476.7 L147.82 477.4 L148.42 478.11 L149.02 478.85 L149.62 479.61 L150.22 480.38 L150.82 481.18 L151.42 481.99 L152.02 482.83 L152.62 483.68 L153.22 484.56 L153.82 485.46 L154.42 486.39 L155.02 487.34 L155.62 488.31 L156.22 489.3 L156.82 490.33 L157.42 491.37 L158.02 492.45 L158.62 493.55 L159.22 494.68 L159.82 495.84 L160.42 497.03 L161.02 498.25 L161.62 499.5 L162.22 500.79 L162.82 502.1 L163.42 503.45 L164.02 504.83 L164.62 506.25 L165.22 507.71 L165.82 509.2 L166.42 510.73 L167.02 512.3 L167.62 513.91 L168.22 515.56 L168.82 517.25 L169.42 518.99 L170.03 520.77 L170.63 522.59 L171.23 524.46 L171.83 526.38 L172.43 528.35 L173.03 530.37 L173.63 532.44 L174.23 534.57 L174.83 536.74 L175.43 538.98 L176.03 541.27 L176.63 543.62 L177.23 546.03 L177.83 548.5 L178.43 551.03 L851 996.94" stroke="rgb(243,0,12)" stroke-width="2.2" fill="none" stroke-linejoin="round" />
<path d="M107 464.12 L107.63 464.25 L108.26 464.39 L108.89 464.52 L109.52 464.66 L110.16 464.81 L110.79 464.95 L111.42 465.1 L112.05 465.26 L112.68 465.41 L113.31 465.58 L113.94 465.74 L114.57 465.91 L115.21 466.09 L115.84 466.27 L116.47 466.45 L117.1 466.64 L117.73 466.84 L118.36 467.03 L118.99 467.24 L119.62 467.45 L120.26 467.66 L120.89 467.88 L121.52 468.11 L122.15 468.34 L122.78 468.57 L123.41 468.82 L124.04 469.07 L124.67 469.32 L125.3 469.58 L125.94 469.85 L126.57 470.13 L127.2 470.41 L127.83 470.7 L128.46 471 L129.09 471.3 L129.72 471.61 L130.35 471.93 L130.99 472.26 L131.62 472.6 L132.25 472.95 L132.88 473.3 L133.51 473.66 L134.14 474.04 L134.77 474.42 L135.4 474.81 L136.03 475.21 L136.67 475.63 L137.3 476.05 L137.93 476.48 L138.56 476.93 L139.19 477.39 L139.82 477.85 L140.45 478.33 L141.08 478.83 L141.72 479.33 L142.35 479.85 L142.98 480.38 L143.61 480.92 L144.24 481.48 L144.87 482.05 L145.5 482.64 L146.13 483.24 L146.77 483.86 L147.4 484.49 L148.03 485.14 L148.66 485.81 L149.29 486.49 L149.92 487.19 L150.55 487.91 L151.18 488.65 L151.81 489.4 L152.45 490.18 L153.08 490.97 L153.71 491.79 L154.34 492.62 L154.97 493.48 L155.6 494.36 L156.23 495.26 L156.86 496.18 L157.5 497.13 L158.13 498.1 L158.76 499.1 L159.39 500.12 L160.02 501.17 L160.65 502.24 L161.28 503.35 L161.91 504.48 L162.55 505.64 L163.18 506.83 L163.81 508.05 L164.44 509.3 L165.07 510.58 L165.7 511.9 L166.33 513.24 L166.96 514.63 L167.59 516.05 L168.23 517.5 L168.86 518.99 L169.49 520.52 L170.12 522.09 L170.75 523.7 L171.38 525.35 L172.01 527.05 L172.64 528.78 L173.28 530.56 L173.91 532.39 L174.54 534.26 L175.17 536.18 L175.8 538.15 L176.43 540.17 L177.06 542.24 L177.69 544.36 L178.32 546.54 L178.96 548.77 L179.59 551.06 L180.22 553.41 L180.85 555.82 L181.48 558.29 L182.11 560.82 L851 1004.3" stroke="rgb(236,0,19)" stroke-width="2.2" fill="none" stroke-linejoin="round" />
<path d="M107 473.97 L107.66 474.1 L108.32 474.23 L108.99 474.37 L109.65 474.51 L110.31 474.65 L110.97 474.8 L111.64 474.95 L112.3 475.1 L112.96 475.26 L113.62 475.43 L114.29 475.59 L114.95 475.76 L115.61 475.94 L116.27 476.12 L116.93 476.3 L117.6 476.49 L118.26 476.68 L118.92 476.88 L119.58 477.09 L120.25 477.29 L120.91 477.51 L121.57 477.73 L122.23 477.95 L122.9 478.18 L123.56 478.42 L124.22 478.66 L124.88 478.91 L125.54 479.17 L126.21 479.43 L126.87 479.7 L127.53 479.98 L128.19 480.26 L128.86 480.55 L129.52 480.85 L130.18 481.15 L130.84 481.46 L131.51 481.78 L132.17 482.11 L132.83 482.45 L133.49 482.79 L134.16 483.15 L134.82 483.51 L135.48 483.89 L136.14 484.27 L136.8 484.66 L137.47 485.06 L138.13 485.48 L138.79 485.9 L139.45 486.33 L140.12 486.78 L140.78 487.23 L141.44 487.7 L142.1 488.18 L142.77 488.67 L143.43 489.18 L144.09 489.7 L144.75 490.23 L145.41 490.77 L146.08 491.33 L146.74 491.9 L147.4 492.49 L148.06 493.09 L148.73 493.71 L149.39 494.34 L150.05 494.99 L150.71 495.66 L151.38 496.34 L152.04 497.04 L152.7 497.76 L153.36 498.49 L154.02 499.25 L154.69 500.02 L155.35 500.82 L156.01 501.63 L156.67 502.47 L157.34 503.33 L158 504.21 L158.66 505.11 L159.32 506.03 L159.99 506.98 L160.65 507.95 L161.31 508.95 L161.97 509.97 L162.63 511.02 L163.3 512.09 L163.96 513.2 L164.62 514.33 L165.28 515.49 L165.95 516.68 L166.61 517.89 L167.27 519.15 L167.93 520.43 L168.6 521.74 L169.26 523.09 L169.92 524.48 L170.58 525.89 L171.24 527.35 L171.91 528.84 L172.57 530.37 L173.23 531.94 L173.89 533.55 L174.56 535.2 L175.22 536.89 L175.88 538.63 L176.54 540.41 L177.21 542.23 L177.87 544.11 L178.53 546.03 L179.19 548 L179.86 550.01 L180.52 552.09 L181.18 554.21 L181.84 556.39 L182.5 558.62 L183.17 560.91 L183.83 563.26 L184.49 565.67 L185.15 568.14 L185.82 570.67 L851 1011.69" stroke="rgb(230,0,25)" stroke-width="2.2" fill="none" stroke-linejoin="round" />
<path d="M107 483.87 L107.69 484 L108.39 484.14 L109.08 484.27 L109.77 484.41 L110.47 484.56 L111.16 484.7 L111.86 484.85 L112.55 485.01 L113.24 485.16 L113.94 485.33 L114.63 485.49 L115.32 485.66 L116.02 485.84 L116.71 486.02 L117.4 486.2 L118.1 486.39 L118.79 486.59 L119.48 486.78 L120.18 486.99 L120.87 487.2 L121.57 487.41 L122.26 487.63 L122.95 487.86 L123.65 488.09 L124.34 488.32 L125.03 488.57 L125.73 488.82 L126.42 489.07 L127.11 489.33 L127.81 489.6 L128.5 489.88 L129.2 490.16 L129.89 490.45 L130.58 490.75 L131.28 491.05 L131.97 491.36 L132.66 491.68 L133.36 492.01 L134.05 492.35 L134.74 492.7 L135.44 493.05 L136.13 493.41 L136.83 493.79 L137.52 494.17 L138.21 494.56 L138.91 494.96 L139.6 495.38 L140.29 495.8 L140.99 496.23 L141.68 496.68 L142.37 497.14 L143.07 497.6 L143.76 498.08 L144.45 498.58 L145.15 499.08 L145.84 499.6 L146.54 500.13 L147.23 500.67 L147.92 501.23 L148.62 501.8 L149.31 502.39 L150 502.99 L150.7 503.61 L151.39 504.24 L152.08 504.89 L152.78 505.56 L153.47 506.24 L154.17 506.94 L154.86 507.66 L155.55 508.4 L156.25 509.15 L156.94 509.93 L157.63 510.72 L158.33 511.54 L159.02 512.37 L159.71 513.23 L160.41 514.11 L161.1 515.01 L161.8 515.93 L162.49 516.88 L163.18 517.85 L163.88 518.85 L164.57 519.87 L165.26 520.92 L165.96 521.99 L166.65 523.1 L167.34 524.23 L168.04 525.39 L168.73 526.58 L169.42 527.8 L170.12 529.05 L170.81 530.33 L171.51 531.65 L172.2 532.99 L172.89 534.38 L173.59 535.8 L174.28 537.25 L174.97 538.74 L175.67 540.27 L176.36 541.84 L177.05 543.45 L177.75 545.1 L178.44 546.8 L179.14 548.53 L179.83 550.31 L180.52 552.14 L181.22 554.01 L181.91 555.93 L182.6 557.9 L183.3 559.92 L183.99 561.99 L184.68 564.11 L185.38 566.29 L186.07 568.52 L186.77 570.81 L187.46 573.16 L188.15 575.57 L188.85 578.04 L189.54 580.57 L851 1019.12" stroke="rgb(224,0,31)" stroke-width="2.2" fill="none" stroke-linejoin="round" />
<path d="M107 493.83 L107.73 493.96 L108.45 494.09 L109.18 494.23 L109.9 494.37 L110.63 494.51 L111.35 494.66 L112.08 494.81 L112.8 494.96 L113.53 495.12 L114.25 495.28 L114.98 495.45 L115.7 495.62 L116.43 495.79 L117.15 495.97 L117.88 496.16 L118.6 496.35 L119.33 496.54 L120.05 496.74 L120.78 496.94 L121.5 497.15 L122.23 497.37 L122.95 497.59 L123.68 497.81 L124.4 498.04 L125.13 498.28 L125.85 498.52 L126.58 498.77 L127.3 499.03 L128.03 499.29 L128.75 499.56 L129.48 499.83 L130.2 500.12 L130.93 500.4 L131.65 500.7 L132.38 501.01 L133.1 501.32 L133.83 501.64 L134.55 501.97 L135.28 502.31 L136 502.65 L136.73 503.01 L137.45 503.37 L138.18 503.74 L138.9 504.13 L139.63 504.52 L140.35 504.92 L141.08 505.33 L141.8 505.76 L142.53 506.19 L143.25 506.63 L143.98 507.09 L144.7 507.56 L145.43 508.04 L146.15 508.53 L146.88 509.03 L147.6 509.55 L148.33 510.08 L149.05 510.63 L149.78 511.19 L150.5 511.76 L151.23 512.35 L151.95 512.95 L152.68 513.56 L153.4 514.2 L154.13 514.85 L154.85 515.51 L155.58 516.2 L156.3 516.9 L157.03 517.61 L157.76 518.35 L158.48 519.11 L159.21 519.88 L159.93 520.68 L160.66 521.49 L161.38 522.33 L162.11 523.18 L162.83 524.06 L163.56 524.96 L164.28 525.89 L165.01 526.84 L165.73 527.81 L166.46 528.8 L167.18 529.83 L167.91 530.87 L168.63 531.95 L169.36 533.05 L170.08 534.18 L170.81 535.34 L171.53 536.53 L172.26 537.75 L172.98 539 L173.71 540.28 L174.43 541.6 L175.16 542.95 L175.88 544.33 L176.61 545.75 L177.33 547.21 L178.06 548.7 L178.78 550.23 L179.51 551.8 L180.23 553.41 L180.96 555.06 L181.68 556.75 L182.41 558.49 L183.13 560.27 L183.86 562.09 L184.58 563.96 L185.31 565.88 L186.03 567.85 L186.76 569.87 L187.48 571.94 L188.21 574.07 L188.93 576.24 L189.66 578.48 L190.38 580.77 L191.11 583.12 L191.83 585.53 L192.56 588 L193.28 590.53 L851 1026.6" stroke="rgb(218,0,37)" stroke-width="2.2" fill="none" stroke-linejoin="round" />
<path d="M107 503.84 L107.76 503.97 L108.51 504.1 L109.27 504.24 L110.03 504.38 L110.78 504.52 L111.54 504.67 L112.3 504.82 L113.05 504.97 L113.81 505.13 L114.57 505.29 L115.32 505.46 L116.08 505.63 L116.84 505.8 L117.59 505.98 L118.35 506.17 L119.11 506.36 L119.86 506.55 L120.62 506.75 L121.38 506.95 L122.13 507.16 L122.89 507.37 L123.65 507.59 L124.4 507.82 L125.16 508.05 L125.92 508.29 L126.67 508.53 L127.43 508.78 L128.19 509.03 L128.94 509.3 L129.7 509.57 L130.46 509.84 L131.21 510.12 L131.97 510.41 L132.73 510.71 L133.48 511.02 L134.24 511.33 L135 511.65 L135.75 511.98 L136.51 512.31 L137.27 512.66 L138.02 513.01 L138.78 513.38 L139.54 513.75 L140.29 514.13 L141.05 514.53 L141.81 514.93 L142.57 515.34 L143.32 515.76 L144.08 516.2 L144.84 516.64 L145.59 517.1 L146.35 517.57 L147.11 518.05 L147.86 518.54 L148.62 519.04 L149.38 519.56 L150.13 520.09 L150.89 520.64 L151.65 521.19 L152.4 521.77 L153.16 522.35 L153.92 522.96 L154.67 523.57 L155.43 524.21 L156.19 524.86 L156.94 525.52 L157.7 526.2 L158.46 526.91 L159.21 527.62 L159.97 528.36 L160.73 529.12 L161.48 529.89 L162.24 530.68 L163 531.5 L163.75 532.33 L164.51 533.19 L165.27 534.07 L166.02 534.97 L166.78 535.9 L167.54 536.84 L168.29 537.82 L169.05 538.81 L169.81 539.83 L170.56 540.88 L171.32 541.96 L172.08 543.06 L172.83 544.19 L173.59 545.35 L174.35 546.54 L175.1 547.76 L175.86 549.01 L176.62 550.29 L177.37 551.61 L178.13 552.96 L178.89 554.34 L179.64 555.76 L180.4 557.21 L181.16 558.71 L181.91 560.24 L182.67 561.81 L183.43 563.42 L184.18 565.07 L184.94 566.76 L185.7 568.49 L186.45 570.27 L187.21 572.1 L187.97 573.97 L188.72 575.89 L189.48 577.86 L190.24 579.88 L190.99 581.95 L191.75 584.07 L192.51 586.25 L193.26 588.49 L194.02 590.78 L194.78 593.13 L195.53 595.53 L196.29 598 L197.05 600.54 L851 1034.11" stroke="rgb(211,0,44)" stroke-width="2.2" fill="none" stroke-linejoin="round" />
<path d="M107 513.9 L107.79 514.03 L108.58 514.16 L109.37 514.3 L110.15 514.44 L110.94 514.58 L111.73 514.73 L112.52 514.88 L113.31 515.03 L114.1 515.19 L114.89 515.35 L115.67 515.52 L116.46 515.69 L117.25 515.86 L118.04 516.04 L118.83 516.23 L119.62 516.42 L120.4 516.61 L121.19 516.81 L121.98 517.01 L122.77 517.22 L123.56 517.44 L124.35 517.66 L125.14 517.88 L125.92 518.11 L126.71 518.35 L127.5 518.59 L128.29 518.84 L129.08 519.1 L129.87 519.36 L130.66 519.63 L131.44 519.9 L132.23 520.19 L133.02 520.48 L133.81 520.77 L134.6 521.08 L135.39 521.39 L136.17 521.71 L136.96 522.04 L137.75 522.38 L138.54 522.72 L139.33 523.08 L140.12 523.44 L140.91 523.81 L141.69 524.2 L142.48 524.59 L143.27 524.99 L144.06 525.4 L144.85 525.83 L145.64 526.26 L146.43 526.7 L147.21 527.16 L148 527.63 L148.79 528.11 L149.58 528.6 L150.37 529.11 L151.16 529.62 L151.94 530.15 L152.73 530.7 L153.52 531.26 L154.31 531.83 L155.1 532.42 L155.89 533.02 L156.68 533.64 L157.46 534.27 L158.25 534.92 L159.04 535.58 L159.83 536.27 L160.62 536.97 L161.41 537.69 L162.2 538.42 L162.98 539.18 L163.77 539.95 L164.56 540.75 L165.35 541.56 L166.14 542.4 L166.93 543.25 L167.71 544.13 L168.5 545.03 L169.29 545.96 L170.08 546.91 L170.87 547.88 L171.66 548.87 L172.45 549.9 L173.23 550.95 L174.02 552.02 L174.81 553.12 L175.6 554.25 L176.39 555.41 L177.18 556.6 L177.97 557.82 L178.75 559.07 L179.54 560.36 L180.33 561.67 L181.12 563.02 L181.91 564.4 L182.7 565.82 L183.48 567.28 L184.27 568.77 L185.06 570.3 L185.85 571.87 L186.64 573.48 L187.43 575.13 L188.22 576.82 L189 578.56 L189.79 580.34 L190.58 582.16 L191.37 584.03 L192.16 585.95 L192.95 587.92 L193.74 589.94 L194.52 592.01 L195.31 594.14 L196.1 596.31 L196.89 598.55 L197.68 600.84 L198.47 603.19 L199.25 605.6 L200.04 608.07 L200.83 610.6 L851 1041.66" stroke="rgb(205,0,50)" stroke-width="2.2" fill="none" stroke-linejoin="round" />
<path d="M107 524.02 L107.82 524.14 L108.64 524.28 L109.46 524.41 L110.28 524.55 L111.1 524.7 L111.92 524.84 L112.74 524.99 L113.56 525.15 L114.38 525.31 L115.2 525.47 L116.03 525.63 L116.85 525.81 L117.67 525.98 L118.49 526.16 L119.31 526.34 L120.13 526.53 L120.95 526.73 L121.77 526.92 L122.59 527.13 L123.41 527.34 L124.23 527.55 L125.05 527.77 L125.87 528 L126.69 528.23 L127.51 528.46 L128.33 528.71 L129.15 528.96 L129.97 529.21 L130.79 529.47 L131.61 529.74 L132.43 530.02 L133.26 530.3 L134.08 530.59 L134.9 530.89 L135.72 531.19 L136.54 531.51 L137.36 531.83 L138.18 532.15 L139 532.49 L139.82 532.84 L140.64 533.19 L141.46 533.56 L142.28 533.93 L143.1 534.31 L143.92 534.7 L144.74 535.11 L145.56 535.52 L146.38 535.94 L147.2 536.37 L148.02 536.82 L148.84 537.28 L149.66 537.74 L150.48 538.22 L151.31 538.72 L152.13 539.22 L152.95 539.74 L153.77 540.27 L154.59 540.81 L155.41 541.37 L156.23 541.94 L157.05 542.53 L157.87 543.13 L158.69 543.75 L159.51 544.38 L160.33 545.03 L161.15 545.7 L161.97 546.38 L162.79 547.08 L163.61 547.8 L164.43 548.54 L165.25 549.29 L166.07 550.07 L166.89 550.86 L167.71 551.68 L168.54 552.51 L169.36 553.37 L170.18 554.25 L171 555.15 L171.82 556.07 L172.64 557.02 L173.46 557.99 L174.28 558.99 L175.1 560.01 L175.92 561.06 L176.74 562.14 L177.56 563.24 L178.38 564.37 L179.2 565.53 L180.02 566.72 L180.84 567.94 L181.66 569.19 L182.48 570.47 L183.3 571.79 L184.12 573.14 L184.94 574.52 L185.77 575.94 L186.59 577.39 L187.41 578.88 L188.23 580.41 L189.05 581.98 L189.87 583.59 L190.69 585.24 L191.51 586.94 L192.33 588.67 L193.15 590.45 L193.97 592.28 L194.79 594.15 L195.61 596.07 L196.43 598.04 L197.25 600.06 L198.07 602.13 L198.89 604.25 L199.71 606.43 L200.53 608.66 L201.35 610.95 L202.17 613.3 L202.99 615.71 L203.82 618.18 L204.64 620.72 L851 1049.25" stroke="rgb(199,0,56)" stroke-width="2.2" fill="none" stroke-linejoin="round" />
<path d="M107 534.18 L107.85 534.31 L108.71 534.45 L109.56 534.58 L110.41 534.72 L111.26 534.86 L112.12 535.01 L112.97 535.16 L113.82 535.32 L114.67 535.47 L115.53 535.64 L116.38 535.8 L117.23 535.97 L118.08 536.15 L118.94 536.33 L119.79 536.51 L120.64 536.7 L121.49 536.89 L122.35 537.09 L123.2 537.3 L124.05 537.51 L124.9 537.72 L125.76 537.94 L126.61 538.17 L127.46 538.4 L128.32 538.63 L129.17 538.88 L130.02 539.13 L130.87 539.38 L131.73 539.64 L132.58 539.91 L133.43 540.19 L134.28 540.47 L135.14 540.76 L135.99 541.06 L136.84 541.36 L137.69 541.67 L138.55 541.99 L139.4 542.32 L140.25 542.66 L141.1 543.01 L141.96 543.36 L142.81 543.72 L143.66 544.1 L144.51 544.48 L145.37 544.87 L146.22 545.27 L147.07 545.69 L147.93 546.11 L148.78 546.54 L149.63 546.99 L150.48 547.44 L151.34 547.91 L152.19 548.39 L153.04 548.88 L153.89 549.39 L154.75 549.91 L155.6 550.44 L156.45 550.98 L157.3 551.54 L158.16 552.11 L159.01 552.7 L159.86 553.3 L160.71 553.92 L161.57 554.55 L162.42 555.2 L163.27 555.87 L164.12 556.55 L164.98 557.25 L165.83 557.97 L166.68 558.71 L167.54 559.46 L168.39 560.24 L169.24 561.03 L170.09 561.85 L170.95 562.68 L171.8 563.54 L172.65 564.42 L173.5 565.32 L174.36 566.24 L175.21 567.19 L176.06 568.16 L176.91 569.16 L177.77 570.18 L178.62 571.23 L179.47 572.3 L180.32 573.41 L181.18 574.54 L182.03 575.7 L182.88 576.89 L183.73 578.11 L184.59 579.36 L185.44 580.64 L186.29 581.95 L187.15 583.3 L188 584.69 L188.85 586.11 L189.7 587.56 L190.56 589.05 L191.41 590.58 L192.26 592.15 L193.11 593.76 L193.97 595.41 L194.82 597.1 L195.67 598.84 L196.52 600.62 L197.38 602.45 L198.23 604.32 L199.08 606.24 L199.93 608.21 L200.79 610.23 L201.64 612.3 L202.49 614.42 L203.34 616.6 L204.2 618.83 L205.05 621.12 L205.9 623.47 L206.75 625.88 L207.61 628.35 L208.46 630.88 L851 1056.89" stroke="rgb(193,0,62)" stroke-width="2.2" fill="none" stroke-linejoin="round" />
<path d="M107 544.41 L107.88 544.54 L108.77 544.67 L109.65 544.8 L110.54 544.94 L111.42 545.09 L112.31 545.23 L113.19 545.38 L114.08 545.54 L114.96 545.7 L115.85 545.86 L116.73 546.03 L117.62 546.2 L118.5 546.37 L119.39 546.55 L120.27 546.73 L121.16 546.92 L122.04 547.12 L122.93 547.32 L123.81 547.52 L124.7 547.73 L125.58 547.94 L126.47 548.16 L127.35 548.39 L128.24 548.62 L129.12 548.86 L130.01 549.1 L130.89 549.35 L131.78 549.6 L132.66 549.86 L133.55 550.13 L134.43 550.41 L135.32 550.69 L136.2 550.98 L137.09 551.28 L137.97 551.58 L138.86 551.9 L139.74 552.22 L140.63 552.55 L141.51 552.88 L142.4 553.23 L143.28 553.58 L144.17 553.95 L145.05 554.32 L145.94 554.7 L146.82 555.09 L147.71 555.5 L148.59 555.91 L149.48 556.33 L150.36 556.77 L151.25 557.21 L152.13 557.67 L153.02 558.13 L153.9 558.61 L154.79 559.11 L155.67 559.61 L156.56 560.13 L157.44 560.66 L158.32 561.2 L159.21 561.76 L160.09 562.33 L160.98 562.92 L161.86 563.52 L162.75 564.14 L163.63 564.77 L164.52 565.42 L165.4 566.09 L166.29 566.77 L167.17 567.47 L168.06 568.19 L168.94 568.93 L169.83 569.68 L170.71 570.46 L171.6 571.25 L172.48 572.07 L173.37 572.9 L174.25 573.76 L175.14 574.64 L176.02 575.54 L176.91 576.46 L177.79 577.41 L178.68 578.38 L179.56 579.38 L180.45 580.4 L181.33 581.45 L182.22 582.53 L183.1 583.63 L183.99 584.76 L184.87 585.92 L185.76 587.11 L186.64 588.33 L187.53 589.58 L188.41 590.86 L189.3 592.18 L190.18 593.53 L191.07 594.91 L191.95 596.33 L192.84 597.78 L193.72 599.28 L194.61 600.81 L195.49 602.37 L196.38 603.98 L197.26 605.63 L198.15 607.33 L199.03 609.06 L199.92 610.84 L200.8 612.67 L201.69 614.54 L202.57 616.46 L203.46 618.43 L204.34 620.45 L205.23 622.52 L206.11 624.64 L207 626.82 L207.88 629.05 L208.76 631.34 L209.65 633.69 L210.53 636.1 L211.42 638.57 L212.3 641.11 L851 1064.56" stroke="rgb(187,0,68)" stroke-width="2.2" fill="none" stroke-linejoin="round" />
<path d="M107 554.68 L107.92 554.81 L108.83 554.94 L109.75 555.08 L110.67 555.22 L111.59 555.36 L112.5 555.51 L113.42 555.66 L114.34 555.81 L115.26 555.97 L116.17 556.13 L117.09 556.3 L118.01 556.47 L118.93 556.65 L119.84 556.83 L120.76 557.01 L121.68 557.2 L122.6 557.39 L123.51 557.59 L124.43 557.79 L125.35 558 L126.27 558.22 L127.18 558.44 L128.1 558.66 L129.02 558.89 L129.93 559.13 L130.85 559.37 L131.77 559.62 L132.69 559.88 L133.6 560.14 L134.52 560.41 L135.44 560.68 L136.36 560.97 L137.27 561.26 L138.19 561.55 L139.11 561.86 L140.03 562.17 L140.94 562.49 L141.86 562.82 L142.78 563.16 L143.7 563.5 L144.61 563.86 L145.53 564.22 L146.45 564.59 L147.36 564.98 L148.28 565.37 L149.2 565.77 L150.12 566.18 L151.03 566.61 L151.95 567.04 L152.87 567.49 L153.79 567.94 L154.7 568.41 L155.62 568.89 L156.54 569.38 L157.46 569.89 L158.37 570.4 L159.29 570.94 L160.21 571.48 L161.13 572.04 L162.04 572.61 L162.96 573.2 L163.88 573.8 L164.8 574.42 L165.71 575.05 L166.63 575.7 L167.55 576.37 L168.46 577.05 L169.38 577.75 L170.3 578.47 L171.22 579.2 L172.13 579.96 L173.05 580.73 L173.97 581.53 L174.89 582.34 L175.8 583.18 L176.72 584.04 L177.64 584.91 L178.56 585.82 L179.47 586.74 L180.39 587.69 L181.31 588.66 L182.23 589.66 L183.14 590.68 L184.06 591.73 L184.98 592.8 L185.9 593.9 L186.81 595.04 L187.73 596.19 L188.65 597.38 L189.56 598.6 L190.48 599.85 L191.4 601.14 L192.32 602.45 L193.23 603.8 L194.15 605.18 L195.07 606.6 L195.99 608.06 L196.9 609.55 L197.82 611.08 L198.74 612.65 L199.66 614.26 L200.57 615.91 L201.49 617.6 L202.41 619.34 L203.33 621.12 L204.24 622.94 L205.16 624.82 L206.08 626.74 L207 628.7 L207.91 630.72 L208.83 632.79 L209.75 634.92 L210.66 637.1 L211.58 639.33 L212.5 641.62 L213.42 643.97 L214.33 646.38 L215.25 648.85 L216.17 651.38 L851 1072.27" stroke="rgb(180,0,75)" stroke-width="2.2" fill="none" stroke-linejoin="round" />
<path d="M107 565.01 L107.95 565.14 L108.9 565.27 L109.85 565.41 L110.8 565.55 L111.75 565.69 L112.7 565.84 L113.65 565.99 L114.6 566.14 L115.55 566.3 L116.5 566.46 L117.45 566.63 L118.4 566.8 L119.35 566.98 L120.3 567.15 L121.25 567.34 L122.2 567.53 L123.15 567.72 L124.1 567.92 L125.05 568.12 L126 568.33 L126.95 568.55 L127.9 568.77 L128.85 568.99 L129.8 569.22 L130.75 569.46 L131.7 569.7 L132.65 569.95 L133.6 570.21 L134.55 570.47 L135.5 570.74 L136.45 571.01 L137.4 571.3 L138.35 571.59 L139.3 571.88 L140.25 572.19 L141.2 572.5 L142.15 572.82 L143.1 573.15 L144.05 573.49 L145 573.83 L145.95 574.19 L146.9 574.55 L147.85 574.92 L148.8 575.31 L149.75 575.7 L150.7 576.1 L151.65 576.51 L152.6 576.94 L153.55 577.37 L154.5 577.81 L155.45 578.27 L156.4 578.74 L157.35 579.22 L158.3 579.71 L159.25 580.22 L160.2 580.73 L161.15 581.26 L162.1 581.81 L163.05 582.37 L164 582.94 L164.95 583.53 L165.9 584.13 L166.85 584.75 L167.8 585.38 L168.75 586.03 L169.7 586.69 L170.65 587.38 L171.6 588.08 L172.55 588.8 L173.5 589.53 L174.45 590.29 L175.4 591.06 L176.35 591.86 L177.3 592.67 L178.25 593.51 L179.2 594.36 L180.15 595.24 L181.1 596.14 L182.05 597.07 L183 598.02 L183.95 598.99 L184.9 599.99 L185.85 601.01 L186.8 602.06 L187.75 603.13 L188.7 604.23 L189.65 605.36 L190.6 606.52 L191.55 607.71 L192.5 608.93 L193.45 610.18 L194.4 611.47 L195.35 612.78 L196.3 614.13 L197.25 615.51 L198.2 616.93 L199.15 618.39 L200.1 619.88 L201.05 621.41 L202 622.98 L202.95 624.59 L203.9 626.24 L204.85 627.93 L205.8 629.67 L206.75 631.45 L207.7 633.27 L208.65 635.14 L209.6 637.06 L210.55 639.03 L211.5 641.05 L212.45 643.12 L213.4 645.25 L214.35 647.42 L215.3 649.66 L216.25 651.95 L217.2 654.3 L218.15 656.71 L219.1 659.18 L220.05 661.71 L851 1080.03" stroke="rgb(174,0,81)" stroke-width="2.2" fill="none" stroke-linejoin="round" />
<path d="M107 575.39 L107.98 575.52 L108.97 575.65 L109.95 575.79 L110.93 575.93 L111.91 576.07 L112.9 576.22 L113.88 576.37 L114.86 576.52 L115.85 576.68 L116.83 576.85 L117.81 577.01 L118.79 577.18 L119.78 577.36 L120.76 577.54 L121.74 577.72 L122.73 577.91 L123.71 578.1 L124.69 578.3 L125.67 578.51 L126.66 578.71 L127.64 578.93 L128.62 579.15 L129.61 579.37 L130.59 579.6 L131.57 579.84 L132.55 580.08 L133.54 580.33 L134.52 580.59 L135.5 580.85 L136.49 581.12 L137.47 581.4 L138.45 581.68 L139.43 581.97 L140.42 582.27 L141.4 582.57 L142.38 582.88 L143.37 583.2 L144.35 583.53 L145.33 583.87 L146.31 584.21 L147.3 584.57 L148.28 584.93 L149.26 585.31 L150.24 585.69 L151.23 586.08 L152.21 586.48 L153.19 586.9 L154.18 587.32 L155.16 587.75 L156.14 588.2 L157.12 588.65 L158.11 589.12 L159.09 589.6 L160.07 590.09 L161.06 590.6 L162.04 591.12 L163.02 591.65 L164 592.19 L164.99 592.75 L165.97 593.32 L166.95 593.91 L167.94 594.51 L168.92 595.13 L169.9 595.76 L170.88 596.41 L171.87 597.08 L172.85 597.76 L173.83 598.46 L174.82 599.18 L175.8 599.91 L176.78 600.67 L177.76 601.44 L178.75 602.24 L179.73 603.05 L180.71 603.89 L181.7 604.75 L182.68 605.63 L183.66 606.53 L184.64 607.45 L185.63 608.4 L186.61 609.37 L187.59 610.37 L188.58 611.39 L189.56 612.44 L190.54 613.51 L191.52 614.62 L192.51 615.75 L193.49 616.91 L194.47 618.1 L195.46 619.31 L196.44 620.57 L197.42 621.85 L198.4 623.16 L199.39 624.51 L200.37 625.9 L201.35 627.31 L202.34 628.77 L203.32 630.26 L204.3 631.79 L205.28 633.36 L206.27 634.97 L207.25 636.62 L208.23 638.31 L209.22 640.05 L210.2 641.83 L211.18 643.65 L212.16 645.53 L213.15 647.45 L214.13 649.42 L215.11 651.43 L216.1 653.51 L217.08 655.63 L218.06 657.81 L219.04 660.04 L220.03 662.33 L221.01 664.68 L221.99 667.09 L222.98 669.56 L223.96 672.09 L851 1087.82" stroke="rgb(168,0,87)" stroke-width="2.2" fill="none" stroke-linejoin="round" />
<path d="M107 585.83 L108.02 585.96 L109.03 586.09 L110.05 586.23 L111.06 586.37 L112.08 586.51 L113.09 586.66 L114.11 586.81 L115.13 586.96 L116.14 587.12 L117.16 587.28 L118.17 587.45 L119.19 587.62 L120.21 587.79 L121.22 587.97 L122.24 588.16 L123.25 588.35 L124.27 588.54 L125.28 588.74 L126.3 588.94 L127.32 589.15 L128.33 589.36 L129.35 589.58 L130.36 589.81 L131.38 590.04 L132.4 590.28 L133.41 590.52 L134.43 590.77 L135.44 591.03 L136.46 591.29 L137.47 591.56 L138.49 591.83 L139.51 592.11 L140.52 592.4 L141.54 592.7 L142.55 593.01 L143.57 593.32 L144.59 593.64 L145.6 593.97 L146.62 594.3 L147.63 594.65 L148.65 595.01 L149.66 595.37 L150.68 595.74 L151.7 596.12 L152.71 596.52 L153.73 596.92 L154.74 597.33 L155.76 597.75 L156.78 598.19 L157.79 598.63 L158.81 599.09 L159.82 599.56 L160.84 600.04 L161.85 600.53 L162.87 601.03 L163.89 601.55 L164.9 602.08 L165.92 602.63 L166.93 603.18 L167.95 603.76 L168.97 604.34 L169.98 604.95 L171 605.56 L172.01 606.2 L173.03 606.85 L174.04 607.51 L175.06 608.2 L176.08 608.9 L177.09 609.61 L178.11 610.35 L179.12 611.11 L180.14 611.88 L181.15 612.67 L182.17 613.49 L183.19 614.33 L184.2 615.18 L185.22 616.06 L186.23 616.96 L187.25 617.89 L188.27 618.83 L189.28 619.81 L190.3 620.8 L191.31 621.83 L192.33 622.87 L193.34 623.95 L194.36 625.05 L195.38 626.18 L196.39 627.34 L197.41 628.53 L198.42 629.75 L199.44 631 L200.46 632.28 L201.47 633.6 L202.49 634.95 L203.5 636.33 L204.52 637.75 L205.53 639.21 L206.55 640.7 L207.57 642.23 L208.58 643.8 L209.6 645.41 L210.61 647.06 L211.63 648.75 L212.65 650.48 L213.66 652.26 L214.68 654.09 L215.69 655.96 L216.71 657.88 L217.72 659.85 L218.74 661.87 L219.76 663.94 L220.77 666.07 L221.79 668.24 L222.8 670.48 L223.82 672.77 L224.84 675.12 L225.85 677.52 L226.87 679.99 L227.88 682.53 L851 1095.66" stroke="rgb(162,0,93)" stroke-width="2.2" fill="none" stroke-linejoin="round" />
<path d="M107 596.32 L108.05 596.45 L109.1 596.58 L110.15 596.72 L111.2 596.86 L112.24 597 L113.29 597.14 L114.34 597.3 L115.39 597.45 L116.44 597.61 L117.49 597.77 L118.54 597.94 L119.59 598.11 L120.64 598.28 L121.69 598.46 L122.73 598.65 L123.78 598.83 L124.83 599.03 L125.88 599.23 L126.93 599.43 L127.98 599.64 L129.03 599.85 L130.08 600.07 L131.13 600.3 L132.18 600.53 L133.22 600.77 L134.27 601.01 L135.32 601.26 L136.37 601.51 L137.42 601.78 L138.47 602.04 L139.52 602.32 L140.57 602.6 L141.62 602.89 L142.66 603.19 L143.71 603.49 L144.76 603.81 L145.81 604.13 L146.86 604.46 L147.91 604.79 L148.96 605.14 L150.01 605.49 L151.06 605.86 L152.11 606.23 L153.15 606.61 L154.2 607.01 L155.25 607.41 L156.3 607.82 L157.35 608.24 L158.4 608.68 L159.45 609.12 L160.5 609.58 L161.55 610.05 L162.6 610.53 L163.64 611.02 L164.69 611.52 L165.74 612.04 L166.79 612.57 L167.84 613.12 L168.89 613.67 L169.94 614.25 L170.99 614.83 L172.04 615.44 L173.09 616.05 L174.13 616.69 L175.18 617.34 L176.23 618 L177.28 618.68 L178.33 619.38 L179.38 620.1 L180.43 620.84 L181.48 621.59 L182.53 622.37 L183.57 623.16 L184.62 623.98 L185.67 624.81 L186.72 625.67 L187.77 626.55 L188.82 627.45 L189.87 628.38 L190.92 629.32 L191.97 630.3 L193.02 631.29 L194.06 632.31 L195.11 633.36 L196.16 634.44 L197.21 635.54 L198.26 636.67 L199.31 637.83 L200.36 639.02 L201.41 640.24 L202.46 641.49 L203.51 642.77 L204.55 644.09 L205.6 645.44 L206.65 646.82 L207.7 648.24 L208.75 649.69 L209.8 651.19 L210.85 652.72 L211.9 654.29 L212.95 655.9 L213.99 657.55 L215.04 659.24 L216.09 660.97 L217.14 662.75 L218.19 664.58 L219.24 666.45 L220.29 668.37 L221.34 670.34 L222.39 672.36 L223.44 674.43 L224.48 676.55 L225.53 678.73 L226.58 680.97 L227.63 683.26 L228.68 685.6 L229.73 688.01 L230.78 690.48 L231.83 693.02 L851 1103.53" stroke="rgb(155,0,100)" stroke-width="2.2" fill="none" stroke-linejoin="round" />
<path d="M107 606.86 L108.08 606.99 L109.16 607.12 L110.25 607.26 L111.33 607.4 L112.41 607.54 L113.49 607.69 L114.58 607.84 L115.66 607.99 L116.74 608.15 L117.82 608.31 L118.91 608.48 L119.99 608.65 L121.07 608.82 L122.15 609 L123.23 609.19 L124.32 609.38 L125.4 609.57 L126.48 609.77 L127.56 609.97 L128.65 610.18 L129.73 610.4 L130.81 610.62 L131.89 610.84 L132.97 611.07 L134.06 611.31 L135.14 611.55 L136.22 611.8 L137.3 612.06 L138.39 612.32 L139.47 612.59 L140.55 612.86 L141.63 613.15 L142.72 613.44 L143.8 613.73 L144.88 614.04 L145.96 614.35 L147.04 614.67 L148.13 615 L149.21 615.34 L150.29 615.68 L151.37 616.04 L152.46 616.4 L153.54 616.77 L154.62 617.16 L155.7 617.55 L156.79 617.95 L157.87 618.36 L158.95 618.79 L160.03 619.22 L161.11 619.66 L162.2 620.12 L163.28 620.59 L164.36 621.07 L165.44 621.56 L166.53 622.07 L167.61 622.58 L168.69 623.11 L169.77 623.66 L170.85 624.22 L171.94 624.79 L173.02 625.38 L174.1 625.98 L175.18 626.6 L176.27 627.23 L177.35 627.88 L178.43 628.54 L179.51 629.23 L180.6 629.93 L181.68 630.65 L182.76 631.38 L183.84 632.14 L184.92 632.91 L186.01 633.71 L187.09 634.52 L188.17 635.36 L189.25 636.21 L190.34 637.09 L191.42 637.99 L192.5 638.92 L193.58 639.87 L194.67 640.84 L195.75 641.83 L196.83 642.86 L197.91 643.91 L198.99 644.98 L200.08 646.08 L201.16 647.21 L202.24 648.37 L203.32 649.56 L204.41 650.78 L205.49 652.03 L206.57 653.32 L207.65 654.63 L208.74 655.98 L209.82 657.36 L210.9 658.78 L211.98 660.24 L213.06 661.73 L214.15 663.26 L215.23 664.83 L216.31 666.44 L217.39 668.09 L218.48 669.78 L219.56 671.52 L220.64 673.3 L221.72 675.12 L222.8 676.99 L223.89 678.91 L224.97 680.88 L226.05 682.9 L227.13 684.97 L228.22 687.1 L229.3 689.27 L230.38 691.51 L231.46 693.8 L232.55 696.15 L233.63 698.56 L234.71 701.03 L235.79 703.56 L851 1111.44" stroke="rgb(149,0,106)" stroke-width="2.2" fill="none" stroke-linejoin="round" />
<path d="M107 617.46 L108.12 617.59 L109.23 617.72 L110.35 617.85 L111.46 617.99 L112.58 618.14 L113.69 618.28 L114.81 618.43 L115.93 618.59 L117.04 618.75 L118.16 618.91 L119.27 619.08 L120.39 619.25 L121.51 619.42 L122.62 619.6 L123.74 619.78 L124.85 619.97 L125.97 620.17 L127.08 620.37 L128.2 620.57 L129.32 620.78 L130.43 620.99 L131.55 621.21 L132.66 621.44 L133.78 621.67 L134.89 621.9 L136.01 622.15 L137.13 622.4 L138.24 622.65 L139.36 622.91 L140.47 623.18 L141.59 623.46 L142.7 623.74 L143.82 624.03 L144.94 624.33 L146.05 624.63 L147.17 624.95 L148.28 625.27 L149.4 625.6 L150.52 625.93 L151.63 626.28 L152.75 626.63 L153.86 627 L154.98 627.37 L156.09 627.75 L157.21 628.14 L158.33 628.55 L159.44 628.96 L160.56 629.38 L161.67 629.82 L162.79 630.26 L163.9 630.72 L165.02 631.18 L166.14 631.66 L167.25 632.16 L168.37 632.66 L169.48 633.18 L170.6 633.71 L171.71 634.25 L172.83 634.81 L173.95 635.38 L175.06 635.97 L176.18 636.57 L177.29 637.19 L178.41 637.82 L179.53 638.47 L180.64 639.14 L181.76 639.82 L182.87 640.52 L183.99 641.24 L185.1 641.98 L186.22 642.73 L187.34 643.51 L188.45 644.3 L189.57 645.12 L190.68 645.95 L191.8 646.81 L192.91 647.69 L194.03 648.59 L195.15 649.51 L196.26 650.46 L197.38 651.43 L198.49 652.43 L199.61 653.45 L200.73 654.5 L201.84 655.58 L202.96 656.68 L204.07 657.81 L205.19 658.97 L206.3 660.16 L207.42 661.38 L208.54 662.63 L209.65 663.91 L210.77 665.23 L211.88 666.58 L213 667.96 L214.11 669.38 L215.23 670.83 L216.35 672.32 L217.46 673.86 L218.58 675.42 L219.69 677.03 L220.81 678.68 L221.92 680.38 L223.04 682.11 L224.16 683.89 L225.27 685.72 L226.39 687.59 L227.5 689.51 L228.62 691.48 L229.74 693.5 L230.85 695.57 L231.97 697.69 L233.08 699.87 L234.2 702.1 L235.31 704.39 L236.43 706.74 L237.55 709.15 L238.66 711.62 L239.78 714.16 L851 1119.4" stroke="rgb(143,0,112)" stroke-width="2.2" fill="none" stroke-linejoin="round" />
<path d="M107 628.11 L108.15 628.23 L109.3 628.37 L110.45 628.5 L111.6 628.64 L112.75 628.79 L113.9 628.93 L115.05 629.08 L116.2 629.24 L117.34 629.4 L118.49 629.56 L119.64 629.72 L120.79 629.9 L121.94 630.07 L123.09 630.25 L124.24 630.43 L125.39 630.62 L126.54 630.82 L127.69 631.01 L128.84 631.22 L129.99 631.43 L131.14 631.64 L132.29 631.86 L133.44 632.09 L134.59 632.32 L135.74 632.55 L136.89 632.8 L138.03 633.05 L139.18 633.3 L140.33 633.56 L141.48 633.83 L142.63 634.11 L143.78 634.39 L144.93 634.68 L146.08 634.98 L147.23 635.28 L148.38 635.6 L149.53 635.92 L150.68 636.24 L151.83 636.58 L152.98 636.93 L154.13 637.28 L155.28 637.65 L156.43 638.02 L157.57 638.4 L158.72 638.79 L159.87 639.2 L161.02 639.61 L162.17 640.03 L163.32 640.46 L164.47 640.91 L165.62 641.37 L166.77 641.83 L167.92 642.31 L169.07 642.81 L170.22 643.31 L171.37 643.83 L172.52 644.36 L173.67 644.9 L174.82 645.46 L175.97 646.03 L177.12 646.62 L178.26 647.22 L179.41 647.84 L180.56 648.47 L181.71 649.12 L182.86 649.79 L184.01 650.47 L185.16 651.17 L186.31 651.89 L187.46 652.63 L188.61 653.38 L189.76 654.16 L190.91 654.95 L192.06 655.77 L193.21 656.6 L194.36 657.46 L195.51 658.34 L196.66 659.24 L197.8 660.16 L198.95 661.11 L200.1 662.08 L201.25 663.08 L202.4 664.1 L203.55 665.15 L204.7 666.23 L205.85 667.33 L207 668.46 L208.15 669.62 L209.3 670.81 L210.45 672.03 L211.6 673.28 L212.75 674.56 L213.9 675.88 L215.05 677.23 L216.2 678.61 L217.35 680.03 L218.49 681.48 L219.64 682.97 L220.79 684.5 L221.94 686.07 L223.09 687.68 L224.24 689.33 L225.39 691.03 L226.54 692.76 L227.69 694.54 L228.84 696.37 L229.99 698.24 L231.14 700.16 L232.29 702.13 L233.44 704.15 L234.59 706.22 L235.74 708.34 L236.89 710.52 L238.04 712.75 L239.18 715.04 L240.33 717.39 L241.48 719.8 L242.63 722.27 L243.78 724.81 L851 1127.39" stroke="rgb(137,0,118)" stroke-width="2.2" fill="none" stroke-linejoin="round" />
<path d="M107 638.81 L108.18 638.94 L109.37 639.07 L110.55 639.21 L111.73 639.35 L112.92 639.49 L114.1 639.64 L115.28 639.79 L116.47 639.94 L117.65 640.1 L118.83 640.26 L120.02 640.43 L121.2 640.6 L122.38 640.77 L123.57 640.95 L124.75 641.14 L125.93 641.33 L127.12 641.52 L128.3 641.72 L129.48 641.92 L130.67 642.13 L131.85 642.34 L133.03 642.56 L134.21 642.79 L135.4 643.02 L136.58 643.26 L137.76 643.5 L138.95 643.75 L140.13 644 L141.31 644.27 L142.5 644.54 L143.68 644.81 L144.86 645.09 L146.05 645.38 L147.23 645.68 L148.41 645.99 L149.6 646.3 L150.78 646.62 L151.96 646.95 L153.15 647.28 L154.33 647.63 L155.51 647.98 L156.7 648.35 L157.88 648.72 L159.06 649.1 L160.25 649.5 L161.43 649.9 L162.61 650.31 L163.8 650.73 L164.98 651.17 L166.16 651.61 L167.35 652.07 L168.53 652.54 L169.71 653.02 L170.9 653.51 L172.08 654.01 L173.26 654.53 L174.45 655.06 L175.63 655.61 L176.81 656.16 L178 656.74 L179.18 657.32 L180.36 657.93 L181.55 658.54 L182.73 659.18 L183.91 659.83 L185.09 660.49 L186.28 661.17 L187.46 661.87 L188.64 662.59 L189.83 663.33 L191.01 664.09 L192.19 664.86 L193.38 665.65 L194.56 666.47 L195.74 667.3 L196.93 668.16 L198.11 669.04 L199.29 669.94 L200.48 670.87 L201.66 671.81 L202.84 672.79 L204.03 673.78 L205.21 674.8 L206.39 675.85 L207.58 676.93 L208.76 678.03 L209.94 679.16 L211.13 680.32 L212.31 681.51 L213.49 682.73 L214.68 683.98 L215.86 685.26 L217.04 686.58 L218.23 687.93 L219.41 689.31 L220.59 690.73 L221.78 692.18 L222.96 693.68 L224.14 695.21 L225.33 696.78 L226.51 698.39 L227.69 700.04 L228.88 701.73 L230.06 703.46 L231.24 705.24 L232.42 707.07 L233.61 708.94 L234.79 710.86 L235.97 712.83 L237.16 714.85 L238.34 716.92 L239.52 719.04 L240.71 721.22 L241.89 723.46 L243.07 725.75 L244.26 728.1 L245.44 730.5 L246.62 732.97 L247.81 735.51 L851 1135.42" stroke="rgb(131,0,124)" stroke-width="2.2" fill="none" stroke-linejoin="round" />
<path d="M107 649.56 L108.22 649.69 L109.43 649.83 L110.65 649.96 L111.87 650.1 L113.09 650.24 L114.3 650.39 L115.52 650.54 L116.74 650.7 L117.96 650.85 L119.17 651.02 L120.39 651.18 L121.61 651.35 L122.82 651.53 L124.04 651.71 L125.26 651.89 L126.48 652.08 L127.69 652.28 L128.91 652.47 L130.13 652.68 L131.34 652.89 L132.56 653.1 L133.78 653.32 L135 653.55 L136.21 653.78 L137.43 654.01 L138.65 654.26 L139.87 654.51 L141.08 654.76 L142.3 655.02 L143.52 655.29 L144.73 655.57 L145.95 655.85 L147.17 656.14 L148.39 656.44 L149.6 656.74 L150.82 657.05 L152.04 657.37 L153.26 657.7 L154.47 658.04 L155.69 658.39 L156.91 658.74 L158.12 659.1 L159.34 659.48 L160.56 659.86 L161.78 660.25 L162.99 660.65 L164.21 661.07 L165.43 661.49 L166.65 661.92 L167.86 662.37 L169.08 662.82 L170.3 663.29 L171.51 663.77 L172.73 664.26 L173.95 664.77 L175.17 665.29 L176.38 665.82 L177.6 666.36 L178.82 666.92 L180.03 667.49 L181.25 668.08 L182.47 668.68 L183.69 669.3 L184.9 669.93 L186.12 670.58 L187.34 671.25 L188.56 671.93 L189.77 672.63 L190.99 673.35 L192.21 674.09 L193.42 674.84 L194.64 675.62 L195.86 676.41 L197.08 677.23 L198.29 678.06 L199.51 678.92 L200.73 679.8 L201.95 680.7 L203.16 681.62 L204.38 682.57 L205.6 683.54 L206.81 684.54 L208.03 685.56 L209.25 686.61 L210.47 687.68 L211.68 688.79 L212.9 689.92 L214.12 691.08 L215.34 692.27 L216.55 693.49 L217.77 694.74 L218.99 696.02 L220.2 697.33 L221.42 698.68 L222.64 700.07 L223.86 701.49 L225.07 702.94 L226.29 704.43 L227.51 705.96 L228.72 707.53 L229.94 709.14 L231.16 710.79 L232.38 712.48 L233.59 714.22 L234.81 716 L236.03 717.83 L237.25 719.7 L238.46 721.62 L239.68 723.59 L240.9 725.61 L242.11 727.68 L243.33 729.8 L244.55 731.98 L245.77 734.21 L246.98 736.5 L248.2 738.85 L249.42 741.26 L250.64 743.73 L251.85 746.26 L851 1143.5" stroke="rgb(124,0,131)" stroke-width="2.2" fill="none" stroke-linejoin="round" />
<path d="M107 660.37 L108.25 660.5 L109.5 660.64 L110.75 660.77 L112.01 660.91 L113.26 661.05 L114.51 661.2 L115.76 661.35 L117.01 661.51 L118.26 661.66 L119.51 661.83 L120.77 661.99 L122.02 662.16 L123.27 662.34 L124.52 662.52 L125.77 662.7 L127.02 662.89 L128.27 663.08 L129.53 663.28 L130.78 663.49 L132.03 663.7 L133.28 663.91 L134.53 664.13 L135.78 664.35 L137.03 664.59 L138.29 664.82 L139.54 665.07 L140.79 665.31 L142.04 665.57 L143.29 665.83 L144.54 666.1 L145.79 666.38 L147.05 666.66 L148.3 666.95 L149.55 667.25 L150.8 667.55 L152.05 667.86 L153.3 668.18 L154.55 668.51 L155.8 668.85 L157.06 669.2 L158.31 669.55 L159.56 669.91 L160.81 670.29 L162.06 670.67 L163.31 671.06 L164.56 671.46 L165.82 671.88 L167.07 672.3 L168.32 672.73 L169.57 673.18 L170.82 673.63 L172.07 674.1 L173.32 674.58 L174.58 675.07 L175.83 675.58 L177.08 676.1 L178.33 676.63 L179.58 677.17 L180.83 677.73 L182.08 678.3 L183.34 678.89 L184.59 679.49 L185.84 680.11 L187.09 680.74 L188.34 681.39 L189.59 682.06 L190.84 682.74 L192.1 683.44 L193.35 684.16 L194.6 684.9 L195.85 685.65 L197.1 686.43 L198.35 687.22 L199.6 688.03 L200.86 688.87 L202.11 689.73 L203.36 690.61 L204.61 691.51 L205.86 692.43 L207.11 693.38 L208.36 694.35 L209.62 695.35 L210.87 696.37 L212.12 697.42 L213.37 698.49 L214.62 699.6 L215.87 700.73 L217.12 701.89 L218.38 703.08 L219.63 704.3 L220.88 705.55 L222.13 706.83 L223.38 708.14 L224.63 709.49 L225.88 710.88 L227.14 712.3 L228.39 713.75 L229.64 715.24 L230.89 716.77 L232.14 718.34 L233.39 719.95 L234.64 721.6 L235.9 723.29 L237.15 725.03 L238.4 726.81 L239.65 728.64 L240.9 730.51 L242.15 732.43 L243.4 734.4 L244.66 736.42 L245.91 738.49 L247.16 740.61 L248.41 742.79 L249.66 745.02 L250.91 747.31 L252.16 749.66 L253.41 752.07 L254.67 754.54 L255.92 757.07 L851 1151.61" stroke="rgb(118,0,137)" stroke-width="2.2" fill="none" stroke-linejoin="round" />
<path d="M107 671.24 L108.29 671.37 L109.57 671.5 L110.86 671.63 L112.14 671.77 L113.43 671.92 L114.71 672.06 L116 672.21 L117.29 672.37 L118.57 672.53 L119.86 672.69 L121.14 672.86 L122.43 673.03 L123.71 673.2 L125 673.38 L126.29 673.57 L127.57 673.75 L128.86 673.95 L130.14 674.15 L131.43 674.35 L132.71 674.56 L134 674.77 L135.29 674.99 L136.57 675.22 L137.86 675.45 L139.14 675.69 L140.43 675.93 L141.71 676.18 L143 676.43 L144.29 676.7 L145.57 676.96 L146.86 677.24 L148.14 677.52 L149.43 677.81 L150.72 678.11 L152 678.41 L153.29 678.73 L154.57 679.05 L155.86 679.38 L157.14 679.71 L158.43 680.06 L159.72 680.41 L161 680.78 L162.29 681.15 L163.57 681.53 L164.86 681.92 L166.14 682.33 L167.43 682.74 L168.72 683.16 L170 683.6 L171.29 684.04 L172.57 684.5 L173.86 684.97 L175.14 685.44 L176.43 685.94 L177.72 686.44 L179 686.96 L180.29 687.49 L181.57 688.03 L182.86 688.59 L184.14 689.17 L185.43 689.75 L186.72 690.35 L188 690.97 L189.29 691.6 L190.57 692.25 L191.86 692.92 L193.14 693.6 L194.43 694.3 L195.72 695.02 L197 695.76 L198.29 696.51 L199.57 697.29 L200.86 698.08 L202.14 698.9 L203.43 699.73 L204.72 700.59 L206 701.47 L207.29 702.37 L208.57 703.29 L209.86 704.24 L211.14 705.21 L212.43 706.21 L213.72 707.23 L215 708.28 L216.29 709.36 L217.57 710.46 L218.86 711.59 L220.15 712.75 L221.43 713.94 L222.72 715.16 L224 716.41 L225.29 717.69 L226.57 719.01 L227.86 720.36 L229.15 721.74 L230.43 723.16 L231.72 724.61 L233 726.11 L234.29 727.64 L235.57 729.2 L236.86 730.81 L238.15 732.46 L239.43 734.16 L240.72 735.89 L242 737.67 L243.29 739.5 L244.57 741.37 L245.86 743.29 L247.15 745.26 L248.43 747.28 L249.72 749.35 L251 751.47 L252.29 753.65 L253.57 755.88 L254.86 758.17 L256.15 760.52 L257.43 762.93 L258.72 765.4 L260 767.94 L851 1159.77" stroke="rgb(112,0,143)" stroke-width="2.2" fill="none" stroke-linejoin="round" />
<path d="M107 682.15 L108.32 682.28 L109.64 682.41 L110.96 682.55 L112.28 682.69 L113.6 682.83 L114.92 682.98 L116.24 683.13 L117.56 683.28 L118.88 683.44 L120.2 683.61 L121.52 683.77 L122.84 683.94 L124.16 684.12 L125.48 684.3 L126.8 684.48 L128.12 684.67 L129.44 684.86 L130.76 685.06 L132.08 685.27 L133.4 685.47 L134.73 685.69 L136.05 685.91 L137.37 686.13 L138.69 686.36 L140.01 686.6 L141.33 686.84 L142.65 687.09 L143.97 687.35 L145.29 687.61 L146.61 687.88 L147.93 688.16 L149.25 688.44 L150.57 688.73 L151.89 689.03 L153.21 689.33 L154.53 689.64 L155.85 689.96 L157.17 690.29 L158.49 690.63 L159.81 690.97 L161.13 691.33 L162.45 691.69 L163.77 692.07 L165.09 692.45 L166.41 692.84 L167.73 693.24 L169.05 693.66 L170.37 694.08 L171.69 694.51 L173.01 694.96 L174.33 695.41 L175.65 695.88 L176.97 696.36 L178.29 696.85 L179.61 697.36 L180.93 697.88 L182.25 698.41 L183.57 698.95 L184.89 699.51 L186.21 700.08 L187.53 700.67 L188.85 701.27 L190.18 701.89 L191.5 702.52 L192.82 703.17 L194.14 703.84 L195.46 704.52 L196.78 705.22 L198.1 705.94 L199.42 706.67 L200.74 707.43 L202.06 708.2 L203.38 709 L204.7 709.81 L206.02 710.65 L207.34 711.51 L208.66 712.39 L209.98 713.29 L211.3 714.21 L212.62 715.16 L213.94 716.13 L215.26 717.13 L216.58 718.15 L217.9 719.2 L219.22 720.27 L220.54 721.38 L221.86 722.51 L223.18 723.67 L224.5 724.86 L225.82 726.07 L227.14 727.33 L228.46 728.61 L229.78 729.92 L231.1 731.27 L232.42 732.66 L233.74 734.07 L235.06 735.53 L236.38 737.02 L237.7 738.55 L239.02 740.12 L240.34 741.73 L241.66 743.38 L242.98 745.07 L244.3 746.81 L245.63 748.59 L246.95 750.41 L248.27 752.29 L249.59 754.21 L250.91 756.18 L252.23 758.19 L253.55 760.27 L254.87 762.39 L256.19 764.57 L257.51 766.8 L258.83 769.09 L260.15 771.44 L261.47 773.85 L262.79 776.32 L264.11 778.85 L851 1167.96" stroke="rgb(106,0,149)" stroke-width="2.2" fill="none" stroke-linejoin="round" />
<path d="M107 693.12 L108.35 693.25 L109.71 693.38 L111.06 693.52 L112.42 693.66 L113.77 693.8 L115.13 693.95 L116.48 694.1 L117.84 694.25 L119.19 694.41 L120.55 694.58 L121.9 694.74 L123.26 694.91 L124.61 695.09 L125.97 695.27 L127.32 695.45 L128.68 695.64 L130.03 695.83 L131.39 696.03 L132.74 696.24 L134.1 696.44 L135.45 696.66 L136.81 696.88 L138.16 697.1 L139.52 697.33 L140.87 697.57 L142.23 697.81 L143.58 698.06 L144.94 698.32 L146.29 698.58 L147.65 698.85 L149 699.13 L150.36 699.41 L151.71 699.7 L153.07 699.99 L154.42 700.3 L155.78 700.61 L157.13 700.93 L158.49 701.26 L159.84 701.6 L161.2 701.94 L162.55 702.3 L163.91 702.66 L165.26 703.04 L166.62 703.42 L167.97 703.81 L169.33 704.21 L170.68 704.63 L172.04 705.05 L173.39 705.48 L174.75 705.93 L176.1 706.38 L177.46 706.85 L178.81 707.33 L180.16 707.82 L181.52 708.33 L182.87 708.85 L184.23 709.38 L185.58 709.92 L186.94 710.48 L188.29 711.05 L189.65 711.64 L191 712.24 L192.36 712.86 L193.71 713.49 L195.07 714.14 L196.42 714.81 L197.78 715.49 L199.13 716.19 L200.49 716.91 L201.84 717.64 L203.2 718.4 L204.55 719.17 L205.91 719.97 L207.26 720.78 L208.62 721.62 L209.97 722.48 L211.33 723.35 L212.68 724.26 L214.04 725.18 L215.39 726.13 L216.75 727.1 L218.1 728.1 L219.46 729.12 L220.81 730.17 L222.17 731.24 L223.52 732.35 L224.88 733.48 L226.23 734.64 L227.59 735.82 L228.94 737.04 L230.3 738.3 L231.65 739.58 L233.01 740.89 L234.36 742.24 L235.72 743.63 L237.07 745.04 L238.43 746.5 L239.78 747.99 L241.14 749.52 L242.49 751.09 L243.85 752.7 L245.2 754.35 L246.56 756.04 L247.91 757.78 L249.27 759.56 L250.62 761.38 L251.98 763.26 L253.33 765.18 L254.68 767.15 L256.04 769.16 L257.39 771.24 L258.75 773.36 L260.1 775.54 L261.46 777.77 L262.81 780.06 L264.17 782.41 L265.52 784.82 L266.88 787.29 L268.23 789.82 L851 1176.2" stroke="rgb(100,0,155)" stroke-width="2.2" fill="none" stroke-linejoin="round" />
<path d="M107 704.15 L108.39 704.27 L109.78 704.41 L111.17 704.54 L112.56 704.68 L113.95 704.83 L115.34 704.97 L116.73 705.12 L118.12 705.28 L119.51 705.44 L120.9 705.6 L122.29 705.76 L123.68 705.94 L125.07 706.11 L126.46 706.29 L127.85 706.47 L129.24 706.66 L130.63 706.86 L132.02 707.06 L133.41 707.26 L134.79 707.47 L136.18 707.68 L137.57 707.9 L138.96 708.13 L140.35 708.36 L141.74 708.59 L143.13 708.84 L144.52 709.09 L145.91 709.34 L147.3 709.6 L148.69 709.87 L150.08 710.15 L151.47 710.43 L152.86 710.72 L154.25 711.02 L155.64 711.32 L157.03 711.64 L158.42 711.96 L159.81 712.28 L161.2 712.62 L162.59 712.97 L163.98 713.32 L165.37 713.69 L166.76 714.06 L168.15 714.44 L169.54 714.83 L170.93 715.24 L172.32 715.65 L173.71 716.07 L175.1 716.51 L176.49 716.95 L177.88 717.41 L179.27 717.87 L180.66 718.35 L182.05 718.85 L183.44 719.35 L184.83 719.87 L186.22 720.4 L187.61 720.94 L188.99 721.5 L190.38 722.07 L191.77 722.66 L193.16 723.26 L194.55 723.88 L195.94 724.51 L197.33 725.16 L198.72 725.83 L200.11 726.51 L201.5 727.21 L202.89 727.93 L204.28 728.67 L205.67 729.42 L207.06 730.2 L208.45 730.99 L209.84 731.81 L211.23 732.64 L212.62 733.5 L214.01 734.38 L215.4 735.28 L216.79 736.2 L218.18 737.15 L219.57 738.12 L220.96 739.12 L222.35 740.14 L223.74 741.19 L225.13 742.27 L226.52 743.37 L227.91 744.5 L229.3 745.66 L230.69 746.85 L232.08 748.07 L233.47 749.32 L234.86 750.6 L236.25 751.92 L237.64 753.27 L239.03 754.65 L240.42 756.07 L241.81 757.52 L243.19 759.01 L244.58 760.54 L245.97 762.11 L247.36 763.72 L248.75 765.37 L250.14 767.07 L251.53 768.8 L252.92 770.58 L254.31 772.41 L255.7 774.28 L257.09 776.2 L258.48 778.17 L259.87 780.19 L261.26 782.26 L262.65 784.38 L264.04 786.56 L265.43 788.79 L266.82 791.08 L268.21 793.43 L269.6 795.84 L270.99 798.31 L272.38 800.85 L851 1184.47" stroke="rgb(93,0,162)" stroke-width="2.2" fill="none" stroke-linejoin="round" />
<path d="M107 715.22 L108.42 715.35 L109.85 715.48 L111.27 715.62 L112.7 715.76 L114.12 715.9 L115.55 716.05 L116.97 716.2 L118.4 716.35 L119.82 716.51 L121.25 716.67 L122.67 716.84 L124.1 717.01 L125.52 717.19 L126.95 717.37 L128.37 717.55 L129.8 717.74 L131.22 717.93 L132.65 718.13 L134.07 718.34 L135.49 718.54 L136.92 718.76 L138.34 718.98 L139.77 719.2 L141.19 719.43 L142.62 719.67 L144.04 719.91 L145.47 720.16 L146.89 720.42 L148.32 720.68 L149.74 720.95 L151.17 721.22 L152.59 721.51 L154.02 721.8 L155.44 722.09 L156.87 722.4 L158.29 722.71 L159.72 723.03 L161.14 723.36 L162.57 723.7 L163.99 724.04 L165.41 724.4 L166.84 724.76 L168.26 725.14 L169.69 725.52 L171.11 725.91 L172.54 726.31 L173.96 726.72 L175.39 727.15 L176.81 727.58 L178.24 728.03 L179.66 728.48 L181.09 728.95 L182.51 729.43 L183.94 729.92 L185.36 730.43 L186.79 730.94 L188.21 731.48 L189.64 732.02 L191.06 732.58 L192.48 733.15 L193.91 733.74 L195.33 734.34 L196.76 734.96 L198.18 735.59 L199.61 736.24 L201.03 736.91 L202.46 737.59 L203.88 738.29 L205.31 739.01 L206.73 739.74 L208.16 740.5 L209.58 741.27 L211.01 742.07 L212.43 742.88 L213.86 743.72 L215.28 744.58 L216.71 745.45 L218.13 746.36 L219.56 747.28 L220.98 748.23 L222.4 749.2 L223.83 750.2 L225.25 751.22 L226.68 752.27 L228.1 753.34 L229.53 754.44 L230.95 755.58 L232.38 756.74 L233.8 757.92 L235.23 759.14 L236.65 760.39 L238.08 761.68 L239.5 762.99 L240.93 764.34 L242.35 765.73 L243.78 767.14 L245.2 768.6 L246.63 770.09 L248.05 771.62 L249.47 773.19 L250.9 774.8 L252.32 776.45 L253.75 778.14 L255.17 779.88 L256.6 781.66 L258.02 783.48 L259.45 785.36 L260.87 787.28 L262.3 789.24 L263.72 791.26 L265.15 793.33 L266.57 795.46 L268 797.64 L269.42 799.87 L270.85 802.16 L272.27 804.51 L273.7 806.92 L275.12 809.39 L276.55 811.92 L851 1192.79" stroke="rgb(87,0,168)" stroke-width="2.2" fill="none" stroke-linejoin="round" />
<path d="M107 726.35 L108.46 726.48 L109.92 726.61 L111.38 726.75 L112.84 726.89 L114.3 727.03 L115.76 727.18 L117.22 727.33 L118.68 727.48 L120.14 727.64 L121.6 727.8 L123.06 727.97 L124.52 728.14 L125.98 728.32 L127.44 728.5 L128.9 728.68 L130.36 728.87 L131.82 729.06 L133.28 729.26 L134.74 729.47 L136.2 729.67 L137.66 729.89 L139.12 730.11 L140.58 730.33 L142.04 730.56 L143.5 730.8 L144.96 731.04 L146.42 731.29 L147.88 731.55 L149.34 731.81 L150.8 732.08 L152.26 732.35 L153.72 732.64 L155.18 732.93 L156.64 733.22 L158.1 733.53 L159.56 733.84 L161.02 734.16 L162.48 734.49 L163.94 734.83 L165.4 735.17 L166.86 735.53 L168.32 735.89 L169.78 736.27 L171.24 736.65 L172.7 737.04 L174.16 737.44 L175.62 737.85 L177.08 738.28 L178.54 738.71 L180 739.16 L181.46 739.61 L182.92 740.08 L184.38 740.56 L185.84 741.05 L187.3 741.56 L188.76 742.07 L190.22 742.61 L191.68 743.15 L193.14 743.71 L194.6 744.28 L196.06 744.87 L197.52 745.47 L198.98 746.09 L200.44 746.72 L201.9 747.37 L203.35 748.04 L204.81 748.72 L206.27 749.42 L207.73 750.14 L209.19 750.87 L210.65 751.63 L212.11 752.4 L213.57 753.2 L215.03 754.01 L216.49 754.85 L217.95 755.71 L219.41 756.58 L220.87 757.49 L222.33 758.41 L223.79 759.36 L225.25 760.33 L226.71 761.33 L228.17 762.35 L229.63 763.4 L231.09 764.47 L232.55 765.57 L234.01 766.71 L235.47 767.87 L236.93 769.05 L238.39 770.27 L239.85 771.52 L241.31 772.81 L242.77 774.12 L244.23 775.47 L245.69 776.86 L247.15 778.27 L248.61 779.73 L250.07 781.22 L251.53 782.75 L252.99 784.32 L254.45 785.93 L255.91 787.58 L257.37 789.27 L258.83 791.01 L260.29 792.79 L261.75 794.61 L263.21 796.49 L264.67 798.41 L266.13 800.37 L267.59 802.39 L269.05 804.46 L270.51 806.59 L271.97 808.77 L273.43 811 L274.89 813.29 L276.35 815.64 L277.81 818.05 L279.27 820.52 L280.73 823.05 L851 1201.14" stroke="rgb(81,0,174)" stroke-width="2.2" fill="none" stroke-linejoin="round" />
<path d="M107 737.54 L108.5 737.66 L109.99 737.8 L111.49 737.93 L112.98 738.07 L114.48 738.22 L115.97 738.36 L117.47 738.51 L118.96 738.67 L120.46 738.83 L121.95 738.99 L123.45 739.15 L124.94 739.33 L126.44 739.5 L127.93 739.68 L129.43 739.86 L130.92 740.05 L132.42 740.25 L133.91 740.44 L135.41 740.65 L136.91 740.86 L138.4 741.07 L139.9 741.29 L141.39 741.52 L142.89 741.75 L144.38 741.98 L145.88 742.23 L147.37 742.48 L148.87 742.73 L150.36 742.99 L151.86 743.26 L153.35 743.54 L154.85 743.82 L156.34 744.11 L157.84 744.41 L159.33 744.71 L160.83 745.03 L162.32 745.35 L163.82 745.67 L165.32 746.01 L166.81 746.36 L168.31 746.71 L169.8 747.08 L171.3 747.45 L172.79 747.83 L174.29 748.22 L175.78 748.63 L177.28 749.04 L178.77 749.46 L180.27 749.89 L181.76 750.34 L183.26 750.8 L184.75 751.26 L186.25 751.74 L187.74 752.24 L189.24 752.74 L190.73 753.26 L192.23 753.79 L193.73 754.33 L195.22 754.89 L196.72 755.46 L198.21 756.05 L199.71 756.65 L201.2 757.27 L202.7 757.9 L204.19 758.55 L205.69 759.22 L207.18 759.9 L208.68 760.6 L210.17 761.32 L211.67 762.06 L213.16 762.81 L214.66 763.59 L216.15 764.38 L217.65 765.2 L219.15 766.03 L220.64 766.89 L222.14 767.77 L223.63 768.67 L225.13 769.59 L226.62 770.54 L228.12 771.51 L229.61 772.51 L231.11 773.53 L232.6 774.58 L234.1 775.66 L235.59 776.76 L237.09 777.89 L238.58 779.05 L240.08 780.24 L241.57 781.46 L243.07 782.71 L244.56 783.99 L246.06 785.31 L247.56 786.65 L249.05 788.04 L250.55 789.46 L252.04 790.91 L253.54 792.4 L255.03 793.93 L256.53 795.5 L258.02 797.11 L259.52 798.76 L261.01 800.46 L262.51 802.19 L264 803.97 L265.5 805.8 L266.99 807.67 L268.49 809.59 L269.98 811.56 L271.48 813.58 L272.97 815.65 L274.47 817.77 L275.97 819.95 L277.46 822.18 L278.96 824.47 L280.45 826.82 L281.95 829.23 L283.44 831.7 L284.94 834.24 L851 1209.54" stroke="rgb(75,0,180)" stroke-width="2.2" fill="none" stroke-linejoin="round" />
<path d="M107 748.77 L108.53 748.9 L110.06 749.03 L111.59 749.17 L113.12 749.31 L114.65 749.45 L116.18 749.6 L117.72 749.75 L119.25 749.9 L120.78 750.06 L122.31 750.22 L123.84 750.39 L125.37 750.56 L126.9 750.74 L128.43 750.92 L129.96 751.1 L131.49 751.29 L133.02 751.48 L134.55 751.68 L136.08 751.89 L137.62 752.09 L139.15 752.31 L140.68 752.53 L142.21 752.75 L143.74 752.98 L145.27 753.22 L146.8 753.46 L148.33 753.71 L149.86 753.97 L151.39 754.23 L152.92 754.5 L154.45 754.77 L155.98 755.06 L157.52 755.35 L159.05 755.64 L160.58 755.95 L162.11 756.26 L163.64 756.58 L165.17 756.91 L166.7 757.25 L168.23 757.59 L169.76 757.95 L171.29 758.31 L172.82 758.69 L174.35 759.07 L175.89 759.46 L177.42 759.86 L178.95 760.27 L180.48 760.7 L182.01 761.13 L183.54 761.58 L185.07 762.03 L186.6 762.5 L188.13 762.98 L189.66 763.47 L191.19 763.98 L192.72 764.49 L194.25 765.03 L195.79 765.57 L197.32 766.13 L198.85 766.7 L200.38 767.29 L201.91 767.89 L203.44 768.51 L204.97 769.14 L206.5 769.79 L208.03 770.46 L209.56 771.14 L211.09 771.84 L212.62 772.56 L214.15 773.29 L215.69 774.05 L217.22 774.82 L218.75 775.62 L220.28 776.43 L221.81 777.27 L223.34 778.13 L224.87 779 L226.4 779.91 L227.93 780.83 L229.46 781.78 L230.99 782.75 L232.52 783.75 L234.05 784.77 L235.59 785.82 L237.12 786.89 L238.65 787.99 L240.18 789.13 L241.71 790.29 L243.24 791.47 L244.77 792.69 L246.3 793.94 L247.83 795.23 L249.36 796.54 L250.89 797.89 L252.42 799.28 L253.95 800.69 L255.49 802.15 L257.02 803.64 L258.55 805.17 L260.08 806.74 L261.61 808.35 L263.14 810 L264.67 811.69 L266.2 813.43 L267.73 815.21 L269.26 817.03 L270.79 818.91 L272.32 820.83 L273.85 822.79 L275.39 824.81 L276.92 826.88 L278.45 829.01 L279.98 831.19 L281.51 833.42 L283.04 835.71 L284.57 838.06 L286.1 840.47 L287.63 842.94 L289.16 845.47 L851 1217.97" stroke="rgb(68,0,187)" stroke-width="2.2" fill="none" stroke-linejoin="round" />
<path d="M107 760.06 L108.57 760.19 L110.13 760.32 L111.7 760.46 L113.27 760.6 L114.83 760.74 L116.4 760.89 L117.97 761.04 L119.53 761.19 L121.1 761.35 L122.66 761.51 L124.23 761.68 L125.8 761.85 L127.36 762.03 L128.93 762.21 L130.5 762.39 L132.06 762.58 L133.63 762.77 L135.2 762.97 L136.76 763.18 L138.33 763.38 L139.9 763.6 L141.46 763.82 L143.03 764.04 L144.6 764.27 L146.16 764.51 L147.73 764.75 L149.29 765 L150.86 765.26 L152.43 765.52 L153.99 765.79 L155.56 766.06 L157.13 766.35 L158.69 766.64 L160.26 766.93 L161.83 767.24 L163.39 767.55 L164.96 767.87 L166.53 768.2 L168.09 768.54 L169.66 768.88 L171.22 769.24 L172.79 769.6 L174.36 769.98 L175.92 770.36 L177.49 770.75 L179.06 771.15 L180.62 771.56 L182.19 771.99 L183.76 772.42 L185.32 772.87 L186.89 773.32 L188.46 773.79 L190.02 774.27 L191.59 774.76 L193.16 775.27 L194.72 775.78 L196.29 776.32 L197.85 776.86 L199.42 777.42 L200.99 777.99 L202.55 778.58 L204.12 779.18 L205.69 779.8 L207.25 780.43 L208.82 781.08 L210.39 781.75 L211.95 782.43 L213.52 783.13 L215.09 783.85 L216.65 784.58 L218.22 785.34 L219.79 786.11 L221.35 786.91 L222.92 787.72 L224.48 788.56 L226.05 789.42 L227.62 790.29 L229.18 791.2 L230.75 792.12 L232.32 793.07 L233.88 794.04 L235.45 795.04 L237.02 796.06 L238.58 797.11 L240.15 798.18 L241.72 799.28 L243.28 800.42 L244.85 801.58 L246.41 802.76 L247.98 803.98 L249.55 805.23 L251.11 806.52 L252.68 807.83 L254.25 809.18 L255.81 810.57 L257.38 811.98 L258.95 813.44 L260.51 814.93 L262.08 816.46 L263.65 818.03 L265.21 819.64 L266.78 821.29 L268.35 822.98 L269.91 824.72 L271.48 826.5 L273.04 828.32 L274.61 830.2 L276.18 832.12 L277.74 834.08 L279.31 836.1 L280.88 838.17 L282.44 840.3 L284.01 842.48 L285.58 844.71 L287.14 847 L288.71 849.35 L290.28 851.76 L291.84 854.23 L293.41 856.76 L851 1226.45" stroke="rgb(62,0,193)" stroke-width="2.2" fill="none" stroke-linejoin="round" />
<path d="M107 771.41 L108.61 771.53 L110.21 771.67 L111.82 771.8 L113.42 771.94 L115.03 772.09 L116.63 772.23 L118.24 772.38 L119.84 772.54 L121.45 772.7 L123.05 772.86 L124.66 773.02 L126.26 773.2 L127.87 773.37 L129.47 773.55 L131.08 773.73 L132.68 773.92 L134.29 774.12 L135.9 774.32 L137.5 774.52 L139.11 774.73 L140.71 774.94 L142.32 775.16 L143.92 775.39 L145.53 775.62 L147.13 775.85 L148.74 776.1 L150.34 776.35 L151.95 776.6 L153.55 776.86 L155.16 777.13 L156.76 777.41 L158.37 777.69 L159.97 777.98 L161.58 778.28 L163.19 778.58 L164.79 778.9 L166.4 779.22 L168 779.54 L169.61 779.88 L171.21 780.23 L172.82 780.58 L174.42 780.95 L176.03 781.32 L177.63 781.7 L179.24 782.09 L180.84 782.5 L182.45 782.91 L184.05 783.33 L185.66 783.77 L187.26 784.21 L188.87 784.67 L190.48 785.13 L192.08 785.61 L193.69 786.11 L195.29 786.61 L196.9 787.13 L198.5 787.66 L200.11 788.2 L201.71 788.76 L203.32 789.33 L204.92 789.92 L206.53 790.52 L208.13 791.14 L209.74 791.77 L211.34 792.42 L212.95 793.09 L214.55 793.77 L216.16 794.47 L217.77 795.19 L219.37 795.93 L220.98 796.68 L222.58 797.46 L224.19 798.25 L225.79 799.07 L227.4 799.9 L229 800.76 L230.61 801.64 L232.21 802.54 L233.82 803.46 L235.42 804.41 L237.03 805.38 L238.63 806.38 L240.24 807.4 L241.84 808.45 L243.45 809.53 L245.06 810.63 L246.66 811.76 L248.27 812.92 L249.87 814.11 L251.48 815.33 L253.08 816.58 L254.69 817.86 L256.29 819.18 L257.9 820.53 L259.5 821.91 L261.11 823.33 L262.71 824.78 L264.32 826.27 L265.92 827.8 L267.53 829.37 L269.13 830.98 L270.74 832.63 L272.35 834.33 L273.95 836.06 L275.56 837.84 L277.16 839.67 L278.77 841.54 L280.37 843.46 L281.98 845.43 L283.58 847.45 L285.19 849.52 L286.79 851.64 L288.4 853.82 L290 856.05 L291.61 858.34 L293.21 860.69 L294.82 863.1 L296.42 865.57 L298.03 868.11 L851 1234.72" stroke="rgb(56,0,199)" stroke-width="2.2" fill="none" stroke-linejoin="round" />
<path d="M107 782.8 L108.65 782.93 L110.31 783.06 L111.96 783.2 L113.61 783.34 L115.26 783.48 L116.92 783.63 L118.57 783.78 L120.22 783.93 L121.88 784.09 L123.53 784.26 L125.18 784.42 L126.83 784.59 L128.49 784.77 L130.14 784.95 L131.79 785.13 L133.45 785.32 L135.1 785.51 L136.75 785.71 L138.4 785.92 L140.06 786.12 L141.71 786.34 L143.36 786.56 L145.02 786.78 L146.67 787.01 L148.32 787.25 L149.97 787.49 L151.63 787.74 L153.28 788 L154.93 788.26 L156.58 788.53 L158.24 788.81 L159.89 789.09 L161.54 789.38 L163.2 789.67 L164.85 789.98 L166.5 790.29 L168.15 790.61 L169.81 790.94 L171.46 791.28 L173.11 791.62 L174.77 791.98 L176.42 792.34 L178.07 792.72 L179.72 793.1 L181.38 793.49 L183.03 793.89 L184.68 794.31 L186.34 794.73 L187.99 795.16 L189.64 795.61 L191.29 796.06 L192.95 796.53 L194.6 797.01 L196.25 797.5 L197.91 798.01 L199.56 798.53 L201.21 799.06 L202.86 799.6 L204.52 800.16 L206.17 800.73 L207.82 801.32 L209.48 801.92 L211.13 802.54 L212.78 803.17 L214.43 803.82 L216.09 804.49 L217.74 805.17 L219.39 805.87 L221.05 806.59 L222.7 807.32 L224.35 808.08 L226 808.85 L227.66 809.65 L229.31 810.46 L230.96 811.3 L232.62 812.16 L234.27 813.03 L235.92 813.94 L237.57 814.86 L239.23 815.81 L240.88 816.78 L242.53 817.78 L244.18 818.8 L245.84 819.85 L247.49 820.92 L249.14 822.03 L250.8 823.16 L252.45 824.32 L254.1 825.5 L255.75 826.72 L257.41 827.98 L259.06 829.26 L260.71 830.57 L262.37 831.92 L264.02 833.31 L265.67 834.72 L267.32 836.18 L268.98 837.67 L270.63 839.2 L272.28 840.77 L273.94 842.38 L275.59 844.03 L277.24 845.72 L278.89 847.46 L280.55 849.24 L282.2 851.06 L283.85 852.94 L285.51 854.86 L287.16 856.83 L288.81 858.84 L290.46 860.92 L292.12 863.04 L293.77 865.22 L295.42 867.45 L297.08 869.74 L298.73 872.09 L300.38 874.5 L302.03 876.97 L303.69 879.5 L851 1242.37" stroke="rgb(50,0,205)" stroke-width="2.2" fill="none" stroke-linejoin="round" />
<path d="M107 794.25 L108.71 794.38 L110.42 794.51 L112.12 794.65 L113.83 794.79 L115.54 794.93 L117.25 795.08 L118.95 795.23 L120.66 795.38 L122.37 795.54 L124.08 795.71 L125.79 795.87 L127.49 796.04 L129.2 796.22 L130.91 796.4 L132.62 796.58 L134.33 796.77 L136.03 796.96 L137.74 797.16 L139.45 797.37 L141.16 797.57 L142.86 797.79 L144.57 798.01 L146.28 798.23 L147.99 798.46 L149.7 798.7 L151.4 798.94 L153.11 799.19 L154.82 799.45 L156.53 799.71 L158.23 799.98 L159.94 800.26 L161.65 800.54 L163.36 800.83 L165.07 801.13 L166.77 801.43 L168.48 801.74 L170.19 802.06 L171.9 802.39 L173.61 802.73 L175.31 803.07 L177.02 803.43 L178.73 803.79 L180.44 804.17 L182.14 804.55 L183.85 804.94 L185.56 805.34 L187.27 805.76 L188.98 806.18 L190.68 806.61 L192.39 807.06 L194.1 807.51 L195.81 807.98 L197.51 808.46 L199.22 808.95 L200.93 809.46 L202.64 809.98 L204.35 810.51 L206.05 811.05 L207.76 811.61 L209.47 812.18 L211.18 812.77 L212.89 813.37 L214.59 813.99 L216.3 814.62 L218.01 815.27 L219.72 815.94 L221.42 816.62 L223.13 817.32 L224.84 818.04 L226.55 818.77 L228.26 819.53 L229.96 820.3 L231.67 821.1 L233.38 821.91 L235.09 822.75 L236.79 823.61 L238.5 824.49 L240.21 825.39 L241.92 826.31 L243.63 827.26 L245.33 828.23 L247.04 829.23 L248.75 830.25 L250.46 831.3 L252.17 832.37 L253.87 833.48 L255.58 834.61 L257.29 835.77 L259 836.96 L260.7 838.17 L262.41 839.43 L264.12 840.71 L265.83 842.02 L267.54 843.37 L269.24 844.76 L270.95 846.17 L272.66 847.63 L274.37 849.12 L276.07 850.65 L277.78 852.22 L279.49 853.83 L281.2 855.48 L282.91 857.17 L284.61 858.91 L286.32 860.69 L288.03 862.51 L289.74 864.39 L291.44 866.31 L293.15 868.28 L294.86 870.29 L296.57 872.37 L298.28 874.49 L299.98 876.67 L301.69 878.9 L303.4 881.19 L305.11 883.54 L306.82 885.95 L308.52 888.42 L310.23 890.95 L851 1249.48" stroke="rgb(44,0,211)" stroke-width="2.2" fill="none" stroke-linejoin="round" />
<path d="M107 805.76 L108.77 805.89 L110.54 806.02 L112.31 806.15 L114.08 806.29 L115.85 806.44 L117.62 806.58 L119.39 806.73 L121.16 806.89 L122.93 807.05 L124.7 807.21 L126.47 807.38 L128.24 807.55 L130.01 807.72 L131.78 807.9 L133.55 808.08 L135.32 808.27 L137.08 808.47 L138.85 808.67 L140.62 808.87 L142.39 809.08 L144.16 809.29 L145.93 809.51 L147.7 809.74 L149.47 809.97 L151.24 810.21 L153.01 810.45 L154.78 810.7 L156.55 810.95 L158.32 811.21 L160.09 811.48 L161.86 811.76 L163.63 812.04 L165.4 812.33 L167.17 812.63 L168.94 812.93 L170.71 813.25 L172.48 813.57 L174.25 813.9 L176.02 814.23 L177.79 814.58 L179.56 814.93 L181.33 815.3 L183.1 815.67 L184.87 816.05 L186.64 816.44 L188.41 816.85 L190.18 817.26 L191.95 817.68 L193.72 818.12 L195.49 818.56 L197.25 819.02 L199.02 819.49 L200.79 819.96 L202.56 820.46 L204.33 820.96 L206.1 821.48 L207.87 822.01 L209.64 822.55 L211.41 823.11 L213.18 823.68 L214.95 824.27 L216.72 824.87 L218.49 825.49 L220.26 826.12 L222.03 826.77 L223.8 827.44 L225.57 828.12 L227.34 828.82 L229.11 829.54 L230.88 830.28 L232.65 831.03 L234.42 831.81 L236.19 832.6 L237.96 833.42 L239.73 834.25 L241.5 835.11 L243.27 835.99 L245.04 836.89 L246.81 837.81 L248.58 838.76 L250.35 839.73 L252.12 840.73 L253.89 841.75 L255.65 842.8 L257.42 843.88 L259.19 844.98 L260.96 846.11 L262.73 847.27 L264.5 848.46 L266.27 849.68 L268.04 850.93 L269.81 852.21 L271.58 853.53 L273.35 854.88 L275.12 856.26 L276.89 857.68 L278.66 859.13 L280.43 860.63 L282.2 862.16 L283.97 863.72 L285.74 865.33 L287.51 866.98 L289.28 868.68 L291.05 870.41 L292.82 872.19 L294.59 874.02 L296.36 875.89 L298.13 877.81 L299.9 879.78 L301.67 881.8 L303.44 883.87 L305.21 885.99 L306.98 888.17 L308.75 890.4 L310.52 892.69 L312.29 895.04 L314.06 897.45 L315.82 899.92 L317.59 902.46 L851 1256.1" stroke="rgb(37,0,218)" stroke-width="2.2" fill="none" stroke-linejoin="round" />
<path d="M107 817.31 L108.84 817.44 L110.68 817.58 L112.51 817.71 L114.35 817.85 L116.19 817.99 L118.03 818.14 L119.87 818.29 L121.71 818.45 L123.54 818.6 L125.38 818.77 L127.22 818.93 L129.06 819.1 L130.9 819.28 L132.73 819.46 L134.57 819.64 L136.41 819.83 L138.25 820.02 L140.09 820.22 L141.92 820.43 L143.76 820.64 L145.6 820.85 L147.44 821.07 L149.28 821.29 L151.12 821.53 L152.95 821.76 L154.79 822.01 L156.63 822.25 L158.47 822.51 L160.31 822.77 L162.14 823.04 L163.98 823.32 L165.82 823.6 L167.66 823.89 L169.5 824.19 L171.33 824.49 L173.17 824.8 L175.01 825.12 L176.85 825.45 L178.69 825.79 L180.53 826.14 L182.36 826.49 L184.2 826.85 L186.04 827.23 L187.88 827.61 L189.72 828 L191.55 828.4 L193.39 828.82 L195.23 829.24 L197.07 829.67 L198.91 830.12 L200.75 830.57 L202.58 831.04 L204.42 831.52 L206.26 832.01 L208.1 832.52 L209.94 833.04 L211.77 833.57 L213.61 834.11 L215.45 834.67 L217.29 835.24 L219.13 835.83 L220.96 836.43 L222.8 837.05 L224.64 837.68 L226.48 838.33 L228.32 839 L230.16 839.68 L231.99 840.38 L233.83 841.1 L235.67 841.84 L237.51 842.59 L239.35 843.37 L241.18 844.16 L243.02 844.97 L244.86 845.81 L246.7 846.67 L248.54 847.55 L250.37 848.45 L252.21 849.37 L254.05 850.32 L255.89 851.29 L257.73 852.29 L259.57 853.31 L261.4 854.36 L263.24 855.43 L265.08 856.54 L266.92 857.67 L268.76 858.83 L270.59 860.02 L272.43 861.24 L274.27 862.49 L276.11 863.77 L277.95 865.08 L279.79 866.43 L281.62 867.82 L283.46 869.24 L285.3 870.69 L287.14 872.18 L288.98 873.71 L290.81 875.28 L292.65 876.89 L294.49 878.54 L296.33 880.23 L298.17 881.97 L300 883.75 L301.84 885.58 L303.68 887.45 L305.52 889.37 L307.36 891.34 L309.2 893.36 L311.03 895.43 L312.87 897.55 L314.71 899.73 L316.55 901.96 L318.39 904.25 L320.22 906.6 L322.06 909.01 L323.9 911.48 L325.74 914.01 L851 1262.26" stroke="rgb(31,0,224)" stroke-width="2.2" fill="none" stroke-linejoin="round" />
<path d="M107 828.92 L108.91 829.05 L110.83 829.19 L112.74 829.32 L114.65 829.46 L116.56 829.6 L118.48 829.75 L120.39 829.9 L122.3 830.06 L124.22 830.21 L126.13 830.38 L128.04 830.54 L129.96 830.71 L131.87 830.89 L133.78 831.07 L135.69 831.25 L137.61 831.44 L139.52 831.63 L141.43 831.83 L143.35 832.04 L145.26 832.25 L147.17 832.46 L149.08 832.68 L151 832.91 L152.91 833.14 L154.82 833.37 L156.74 833.62 L158.65 833.87 L160.56 834.12 L162.47 834.38 L164.39 834.65 L166.3 834.93 L168.21 835.21 L170.13 835.5 L172.04 835.8 L173.95 836.1 L175.87 836.41 L177.78 836.73 L179.69 837.06 L181.6 837.4 L183.52 837.75 L185.43 838.1 L187.34 838.46 L189.26 838.84 L191.17 839.22 L193.08 839.61 L194.99 840.01 L196.91 840.43 L198.82 840.85 L200.73 841.28 L202.65 841.73 L204.56 842.18 L206.47 842.65 L208.38 843.13 L210.3 843.62 L212.21 844.13 L214.12 844.65 L216.04 845.18 L217.95 845.72 L219.86 846.28 L221.78 846.85 L223.69 847.44 L225.6 848.04 L227.51 848.66 L229.43 849.29 L231.34 849.94 L233.25 850.61 L235.17 851.29 L237.08 851.99 L238.99 852.71 L240.9 853.45 L242.82 854.2 L244.73 854.98 L246.64 855.77 L248.56 856.59 L250.47 857.42 L252.38 858.28 L254.29 859.16 L256.21 860.06 L258.12 860.98 L260.03 861.93 L261.95 862.9 L263.86 863.9 L265.77 864.92 L267.69 865.97 L269.6 867.04 L271.51 868.15 L273.42 869.28 L275.34 870.44 L277.25 871.63 L279.16 872.85 L281.08 874.1 L282.99 875.38 L284.9 876.69 L286.81 878.04 L288.73 879.43 L290.64 880.85 L292.55 882.3 L294.47 883.79 L296.38 885.32 L298.29 886.89 L300.21 888.5 L302.12 890.15 L304.03 891.84 L305.94 893.58 L307.86 895.36 L309.77 897.19 L311.68 899.06 L313.6 900.98 L315.51 902.95 L317.42 904.97 L319.33 907.04 L321.25 909.16 L323.16 911.34 L325.07 913.57 L326.99 915.86 L328.9 918.21 L330.81 920.62 L332.72 923.09 L334.64 925.62 L851 1267.97" stroke="rgb(25,0,230)" stroke-width="2.2" fill="none" stroke-linejoin="round" />
<path d="M107 840.59 L108.99 840.72 L110.99 840.85 L112.98 840.99 L114.98 841.13 L116.97 841.27 L118.96 841.42 L120.96 841.57 L122.95 841.72 L124.95 841.88 L126.94 842.04 L128.93 842.21 L130.93 842.38 L132.92 842.55 L134.91 842.73 L136.91 842.92 L138.9 843.11 L140.9 843.3 L142.89 843.5 L144.88 843.7 L146.88 843.91 L148.87 844.12 L150.87 844.34 L152.86 844.57 L154.85 844.8 L156.85 845.04 L158.84 845.28 L160.84 845.53 L162.83 845.78 L164.82 846.05 L166.82 846.32 L168.81 846.59 L170.8 846.87 L172.8 847.16 L174.79 847.46 L176.79 847.77 L178.78 848.08 L180.77 848.4 L182.77 848.73 L184.76 849.06 L186.76 849.41 L188.75 849.76 L190.74 850.13 L192.74 850.5 L194.73 850.88 L196.73 851.28 L198.72 851.68 L200.71 852.09 L202.71 852.51 L204.7 852.95 L206.69 853.39 L208.69 853.85 L210.68 854.32 L212.68 854.8 L214.67 855.29 L216.66 855.79 L218.66 856.31 L220.65 856.84 L222.65 857.39 L224.64 857.94 L226.63 858.52 L228.63 859.1 L230.62 859.71 L232.62 860.32 L234.61 860.96 L236.6 861.61 L238.6 862.27 L240.59 862.95 L242.59 863.65 L244.58 864.37 L246.57 865.11 L248.57 865.87 L250.56 866.64 L252.55 867.43 L254.55 868.25 L256.54 869.08 L258.54 869.94 L260.53 870.82 L262.52 871.72 L264.52 872.65 L266.51 873.59 L268.51 874.57 L270.5 875.56 L272.49 876.58 L274.49 877.63 L276.48 878.71 L278.48 879.81 L280.47 880.94 L282.46 882.1 L284.46 883.29 L286.45 884.51 L288.44 885.76 L290.44 887.04 L292.43 888.36 L294.43 889.71 L296.42 891.09 L298.41 892.51 L300.41 893.96 L302.4 895.46 L304.4 896.99 L306.39 898.56 L308.38 900.17 L310.38 901.82 L312.37 903.51 L314.37 905.24 L316.36 907.02 L318.35 908.85 L320.35 910.72 L322.34 912.64 L324.33 914.61 L326.33 916.63 L328.32 918.7 L330.32 920.82 L332.31 923 L334.3 925.24 L336.3 927.53 L338.29 929.88 L340.29 932.28 L342.28 934.75 L344.27 937.29 L851 1273.25" stroke="rgb(19,0,236)" stroke-width="2.2" fill="none" stroke-linejoin="round" />
<path d="M107 852.31 L109.08 852.43 L111.16 852.57 L113.24 852.7 L115.32 852.84 L117.4 852.99 L119.49 853.13 L121.57 853.28 L123.65 853.44 L125.73 853.6 L127.81 853.76 L129.89 853.92 L131.97 854.1 L134.05 854.27 L136.13 854.45 L138.21 854.63 L140.3 854.82 L142.38 855.02 L144.46 855.21 L146.54 855.42 L148.62 855.63 L150.7 855.84 L152.78 856.06 L154.86 856.29 L156.94 856.52 L159.02 856.75 L161.1 857 L163.19 857.25 L165.27 857.5 L167.35 857.76 L169.43 858.03 L171.51 858.31 L173.59 858.59 L175.67 858.88 L177.75 859.18 L179.83 859.48 L181.91 859.8 L184 860.12 L186.08 860.44 L188.16 860.78 L190.24 861.13 L192.32 861.48 L194.4 861.85 L196.48 862.22 L198.56 862.6 L200.64 862.99 L202.72 863.4 L204.81 863.81 L206.89 864.23 L208.97 864.66 L211.05 865.11 L213.13 865.57 L215.21 866.03 L217.29 866.51 L219.37 867.01 L221.45 867.51 L223.53 868.03 L225.61 868.56 L227.7 869.1 L229.78 869.66 L231.86 870.23 L233.94 870.82 L236.02 871.42 L238.1 872.04 L240.18 872.67 L242.26 873.32 L244.34 873.99 L246.42 874.67 L248.51 875.37 L250.59 876.09 L252.67 876.83 L254.75 877.58 L256.83 878.36 L258.91 879.15 L260.99 879.97 L263.07 880.8 L265.15 881.66 L267.23 882.54 L269.31 883.44 L271.4 884.36 L273.48 885.31 L275.56 886.28 L277.64 887.28 L279.72 888.3 L281.8 889.35 L283.88 890.43 L285.96 891.53 L288.04 892.66 L290.12 893.82 L292.21 895.01 L294.29 896.23 L296.37 897.48 L298.45 898.76 L300.53 900.08 L302.61 901.42 L304.69 902.81 L306.77 904.23 L308.85 905.68 L310.93 907.17 L313.01 908.7 L315.1 910.27 L317.18 911.88 L319.26 913.53 L321.34 915.23 L323.42 916.96 L325.5 918.74 L327.58 920.57 L329.66 922.44 L331.74 924.36 L333.82 926.33 L335.91 928.35 L337.99 930.42 L340.07 932.54 L342.15 934.72 L344.23 936.95 L346.31 939.24 L348.39 941.59 L350.47 944 L352.55 946.47 L354.63 949.01 L851 1278.1" stroke="rgb(12,0,243)" stroke-width="2.2" fill="none" stroke-linejoin="round" />
<path d="M107 864.08 L109.17 864.21 L111.35 864.34 L113.52 864.47 L115.7 864.61 L117.87 864.76 L120.04 864.9 L122.22 865.05 L124.39 865.21 L126.57 865.37 L128.74 865.53 L130.91 865.7 L133.09 865.87 L135.26 866.04 L137.44 866.22 L139.61 866.4 L141.78 866.59 L143.96 866.79 L146.13 866.99 L148.31 867.19 L150.48 867.4 L152.65 867.61 L154.83 867.83 L157 868.06 L159.18 868.29 L161.35 868.52 L163.52 868.77 L165.7 869.02 L167.87 869.27 L170.05 869.53 L172.22 869.8 L174.39 870.08 L176.57 870.36 L178.74 870.65 L180.92 870.95 L183.09 871.25 L185.26 871.57 L187.44 871.89 L189.61 872.22 L191.79 872.55 L193.96 872.9 L196.13 873.25 L198.31 873.62 L200.48 873.99 L202.66 874.37 L204.83 874.76 L207.01 875.17 L209.18 875.58 L211.35 876 L213.53 876.44 L215.7 876.88 L217.88 877.34 L220.05 877.8 L222.22 878.28 L224.4 878.78 L226.57 879.28 L228.75 879.8 L230.92 880.33 L233.09 880.87 L235.27 881.43 L237.44 882 L239.62 882.59 L241.79 883.19 L243.96 883.81 L246.14 884.44 L248.31 885.09 L250.49 885.76 L252.66 886.44 L254.83 887.14 L257.01 887.86 L259.18 888.6 L261.36 889.35 L263.53 890.13 L265.7 890.92 L267.88 891.74 L270.05 892.57 L272.23 893.43 L274.4 894.31 L276.57 895.21 L278.75 896.13 L280.92 897.08 L283.1 898.05 L285.27 899.05 L287.44 900.07 L289.62 901.12 L291.79 902.2 L293.97 903.3 L296.14 904.43 L298.31 905.59 L300.49 906.78 L302.66 908 L304.84 909.25 L307.01 910.53 L309.18 911.85 L311.36 913.2 L313.53 914.58 L315.71 916 L317.88 917.45 L320.05 918.94 L322.23 920.48 L324.4 922.04 L326.58 923.65 L328.75 925.3 L330.92 927 L333.1 928.73 L335.27 930.51 L337.45 932.34 L339.62 934.21 L341.79 936.13 L343.97 938.1 L346.14 940.12 L348.32 942.19 L350.49 944.31 L352.66 946.49 L354.84 948.72 L357.01 951.01 L359.19 953.36 L361.36 955.77 L363.53 958.24 L365.71 960.78 L851 1282.52" stroke="rgb(6,0,249)" stroke-width="2.2" fill="none" stroke-linejoin="round" />
<path d="M107 875.9 L109.27 876.03 L111.55 876.16 L113.82 876.3 L116.09 876.44 L118.37 876.58 L120.64 876.73 L122.91 876.88 L125.18 877.03 L127.46 877.19 L129.73 877.35 L132 877.52 L134.28 877.69 L136.55 877.86 L138.82 878.04 L141.1 878.23 L143.37 878.42 L145.64 878.61 L147.91 878.81 L150.19 879.01 L152.46 879.22 L154.73 879.44 L157.01 879.66 L159.28 879.88 L161.55 880.11 L163.83 880.35 L166.1 880.59 L168.37 880.84 L170.64 881.1 L172.92 881.36 L175.19 881.63 L177.46 881.9 L179.74 882.19 L182.01 882.48 L184.28 882.77 L186.56 883.08 L188.83 883.39 L191.1 883.71 L193.37 884.04 L195.65 884.38 L197.92 884.72 L200.19 885.08 L202.47 885.44 L204.74 885.81 L207.01 886.2 L209.29 886.59 L211.56 886.99 L213.83 887.4 L216.11 887.83 L218.38 888.26 L220.65 888.7 L222.92 889.16 L225.2 889.63 L227.47 890.11 L229.74 890.6 L232.02 891.11 L234.29 891.62 L236.56 892.15 L238.84 892.7 L241.11 893.26 L243.38 893.83 L245.65 894.42 L247.93 895.02 L250.2 895.64 L252.47 896.27 L254.75 896.92 L257.02 897.58 L259.29 898.27 L261.57 898.97 L263.84 899.69 L266.11 900.42 L268.38 901.18 L270.66 901.95 L272.93 902.75 L275.2 903.56 L277.48 904.4 L279.75 905.25 L282.02 906.13 L284.3 907.03 L286.57 907.96 L288.84 908.91 L291.11 909.88 L293.39 910.87 L295.66 911.9 L297.93 912.95 L300.21 914.02 L302.48 915.12 L304.75 916.25 L307.03 917.41 L309.3 918.6 L311.57 919.82 L313.85 921.07 L316.12 922.36 L318.39 923.67 L320.66 925.02 L322.94 926.4 L325.21 927.82 L327.48 929.28 L329.76 930.77 L332.03 932.3 L334.3 933.87 L336.58 935.48 L338.85 937.13 L341.12 938.82 L343.39 940.56 L345.67 942.34 L347.94 944.16 L350.21 946.03 L352.49 947.95 L354.76 949.92 L357.03 951.94 L359.31 954.01 L361.58 956.14 L363.85 958.31 L366.12 960.55 L368.4 962.84 L370.67 965.19 L372.94 967.6 L375.22 970.07 L377.49 972.6 L851 1286.54" stroke="rgb(0,0,255)" stroke-width="2.2" fill="none" stroke-linejoin="round" />
</g>
<path d="M158.12 518.6L184.12 544.6M158.12 544.6L184.12 518.6 M161.76 528.29L187.76 554.29M161.76 554.29L187.76 528.29 M165.43 538.03L191.43 564.03M165.43 564.03L191.43 538.03 M169.11 547.82L195.11 573.82M169.11 573.82L195.11 547.82 M172.82 557.67L198.82 583.67M172.82 583.67L198.82 557.67 M176.54 567.57L202.54 593.57M176.54 593.57L202.54 567.57 M180.28 577.53L206.28 603.53M180.28 603.53L206.28 577.53 M184.05 587.54L210.05 613.54M184.05 613.54L210.05 587.54 M187.83 597.6L213.83 623.6M187.83 623.6L213.83 597.6 M191.64 607.72L217.64 633.72M191.64 633.72L217.64 607.72 M195.46 617.88L221.46 643.88M195.46 643.88L221.46 617.88 M199.3 628.11L225.3 654.11M199.3 654.11L225.3 628.11 M203.17 638.38L229.17 664.38M203.17 664.38L229.17 638.38 M207.05 648.71L233.05 674.71M207.05 674.71L233.05 648.71 M210.96 659.09L236.96 685.09M210.96 685.09L236.96 659.09 M214.88 669.53L240.88 695.53M214.88 695.53L240.88 669.53 M218.83 680.02L244.83 706.02M218.83 706.02L244.83 680.02 M222.79 690.56L248.79 716.56M222.79 716.56L248.79 690.56 M226.78 701.16L252.78 727.16M226.78 727.16L252.78 701.16 M230.78 711.81L256.78 737.81M230.78 737.81L256.78 711.81 M234.81 722.51L260.81 748.51M234.81 748.51L260.81 722.51 M238.85 733.26L264.85 759.26M238.85 759.26L264.85 733.26 M242.92 744.07L268.92 770.07M242.92 770.07L268.92 744.07 M247 754.94L273 780.94M247 780.94L273 754.94 M251.11 765.85L277.11 791.85M251.11 791.85L277.11 765.85 M255.23 776.82L281.23 802.82M255.23 802.82L281.23 776.82 M259.38 787.85L285.38 813.85M259.38 813.85L285.38 787.85 M263.55 798.92L289.55 824.92M263.55 824.92L289.55 798.92 M267.73 810.05L293.73 836.05M267.73 836.05L293.73 810.05 M271.94 821.24L297.94 847.24M271.94 847.24L297.94 821.24 M276.16 832.47L302.16 858.47M276.16 858.47L302.16 832.47 M280.41 843.76L306.41 869.76M280.41 869.76L306.41 843.76 M285.03 855.11L311.03 881.11M285.03 881.11L311.03 855.11 M290.69 866.5L316.69 892.5M290.69 892.5L316.69 866.5 M297.23 877.95L323.23 903.95M297.23 903.95L323.23 877.95 M304.59 889.46L330.59 915.46M304.59 915.46L330.59 889.46 M312.74 901.01L338.74 927.01M312.74 927.01L338.74 901.01 M321.64 912.62L347.64 938.62M321.64 938.62L347.64 912.62 M331.27 924.29L357.27 950.29M331.27 950.29L357.27 924.29 M341.63 936.01L367.63 962.01M341.63 962.01L367.63 936.01 M352.71 947.78L378.71 973.78M352.71 973.78L378.71 947.78 M364.49 959.6L390.49 985.6M364.49 985.6L390.49 959.6" stroke="#ffff00" stroke-width="5.5" fill="none"/>
<g clip-path="url(#clipd)">
<path d="M172.4 535 L348.4 1003" stroke="#000" stroke-width="5.5" fill="none" stroke-dasharray="7 7.6" stroke-linejoin="round" />
</g>
<path d="M255.8 535 v6.5 M255.8 1003 v-6.5 M404.6 535 v6.5 M404.6 1003 v-6.5 M553.4 535 v6.5 M553.4 1003 v-6.5 M702.2 535 v6.5 M702.2 1003 v-6.5 M107 730.5 h6.5 M851 730.5 h-6.5 M107 926 h6.5 M851 926 h-6.5" stroke="#000" stroke-width="2" fill="none"/>
<rect x="107" y="535" width="744" height="468" fill="none" stroke="#000" stroke-width="2"/>
<text x="2.75" y="556.5" font-size="40" font-family="'Liberation Serif', 'Times New Roman', serif" fill="#000" font-weight="bold" >d</text>
<text x="46.9" y="549.5" font-family="'Liberation Sans', Arial, Helvetica, sans-serif" font-size="28.5">10<tspan font-size="20" dy="-11">3</tspan></text>
<text x="46.9" y="744.5" font-family="'Liberation Sans', Arial, Helvetica, sans-serif" font-size="28.5">10<tspan font-size="20" dy="-11">2</tspan></text>
<text x="46.9" y="940" font-family="'Liberation Sans', Arial, Helvetica, sans-serif" font-size="28.5">10<tspan font-size="20" dy="-11">1</tspan></text>
<text x="76.75" y="1050.9" font-family="'Liberation Sans', Arial, Helvetica, sans-serif" font-size="28.5">10<tspan font-size="20" dy="-11">−1</tspan></text>
<text x="231.39" y="1050.9" font-family="'Liberation Sans', Arial, Helvetica, sans-serif" font-size="28.5">10<tspan font-size="20" dy="-11">0</tspan></text>
<text x="380.19" y="1050.9" font-family="'Liberation Sans', Arial, Helvetica, sans-serif" font-size="28.5">10<tspan font-size="20" dy="-11">1</tspan></text>
<text x="528.99" y="1050.9" font-family="'Liberation Sans', Arial, Helvetica, sans-serif" font-size="28.5">10<tspan font-size="20" dy="-11">2</tspan></text>
<text x="677.79" y="1050.9" font-family="'Liberation Sans', Arial, Helvetica, sans-serif" font-size="28.5">10<tspan font-size="20" dy="-11">3</tspan></text>
<text x="826.59" y="1050.9" font-family="'Liberation Sans', Arial, Helvetica, sans-serif" font-size="28.5">10<tspan font-size="20" dy="-11">4</tspan></text>
<text transform="translate(24.8 920) rotate(-90)" x="-0.57" y="0" font-family="'Liberation Serif', 'Times New Roman', serif" font-size="36.73">Uncertainty (nT)</text>
<text x="313.83" y="1087" font-size="36.67" font-family="'Liberation Serif', 'Times New Roman', serif" fill="#000" >Measurement time (s)</text>
<rect x="272.3" y="680.4" width="132.9" height="65.8" fill="#fff"/>
<text transform="translate(282.26 724.3) scale(1.22 1)" x="0" y="0" font-size="34" font-family="'DejaVu Math TeX Gyre', 'DejaVu Serif', serif" fill="#000">∝</text>
<text x="318.35" y="724.3" font-size="36" font-family="'Liberation Serif', 'Times New Roman', serif" fill="#000" font-style="italic" >T</text>
<text x="339.17" y="710" font-size="26.25" font-family="'Liberation Sans', Arial, Helvetica, sans-serif" fill="#000" >−2</text>
<text x="338.9" y="732" font-size="25.68" font-family="'Liberation Serif', 'Times New Roman', serif" fill="#000" >meas</text>
<path d="M340.4 830.3H541.8V886.6H501.9V938.6H382.1V886.6H340.4Z" fill="#808080"/>
<text x="353.03" y="868.2" font-size="36.32" font-family="'Liberation Serif', 'Times New Roman', serif" fill="#ffff00" font-weight="bold" >Turning-on</text>
<text x="395.3" y="918.7" font-size="36.06" font-family="'Liberation Serif', 'Times New Roman', serif" fill="#ffff00" font-weight="bold" >points</text>
<text x="652.68" y="631.4" font-size="37.06" font-family="'Liberation Serif', 'Times New Roman', serif" fill="#ff0000" >Small area</text>
<text x="655" y="681.5" font-size="36.5" font-family="'Liberation Serif', 'Times New Roman', serif" fill="#ff00ff" >to</text>
<text x="654.43" y="731.7" font-size="36.53" font-family="'Liberation Serif', 'Times New Roman', serif" fill="#0000ff" >large area</text>
<text transform="translate(692.96 869.7) scale(1.22 1)" x="0" y="0" font-size="34" font-family="'DejaVu Math TeX Gyre', 'DejaVu Serif', serif" fill="#ff0000">∝</text>
<text x="729.65" y="869.7" font-size="36" font-family="'Liberation Serif', 'Times New Roman', serif" fill="#ff0000" font-style="italic" >T</text>
<text x="750.7" y="855.3" font-size="24.81" font-family="'Liberation Sans', Arial, Helvetica, sans-serif" fill="#ff0000" >−0.5</text>
<text x="750.3" y="878.7" font-size="25.48" font-family="'Liberation Serif', 'Times New Roman', serif" fill="#ff0000" >meas</text>
<path d="M1178.45 535 v6.5 M1178.45 1003 v-6.5 M1364.3 535 v6.5 M1364.3 1003 v-6.5 M1550.15 535 v6.5 M1550.15 1003 v-6.5 M992.6 604 h6.5 M1736 604 h-6.5 M992.6 704 h6.5 M1736 704 h-6.5 M992.6 804 h6.5 M1736 804 h-6.5 M992.6 904 h6.5 M1736 904 h-6.5" stroke="#000" stroke-width="2" fill="none"/>
<rect x="992.6" y="535" width="743.4" height="468" fill="none" stroke="#000" stroke-width="2"/>
<path d="M1344.57 990.7L1369.17 1015.3M1344.57 1015.3L1369.17 990.7 M1352 785L1376.6 809.6M1352 809.6L1376.6 785 M1359.43 756.2L1384.03 780.8M1359.43 780.8L1384.03 756.2 M1366.87 743.7L1391.47 768.3M1366.87 768.3L1391.47 743.7 M1374.3 732.7L1398.9 757.3M1374.3 757.3L1398.9 732.7 M1381.74 723.2L1406.34 747.8M1381.74 747.8L1406.34 723.2 M1389.17 714.7L1413.77 739.3M1389.17 739.3L1413.77 714.7 M1396.6 706.7L1421.2 731.3M1396.6 731.3L1421.2 706.7 M1404.04 699.2L1428.64 723.8M1404.04 723.8L1428.64 699.2 M1411.47 692.2L1436.07 716.8M1411.47 716.8L1436.07 692.2 M1418.91 685.5L1443.51 710.1M1418.91 710.1L1443.51 685.5 M1426.34 680.8L1450.94 705.4M1426.34 705.4L1450.94 680.8 M1433.77 676.13L1458.37 700.73M1433.77 700.73L1458.37 676.13 M1441.21 671.48L1465.81 696.08M1441.21 696.08L1465.81 671.48 M1448.64 666.87L1473.24 691.47M1448.64 691.47L1473.24 666.87 M1456.08 662.28L1480.68 686.88M1456.08 686.88L1480.68 662.28 M1463.51 657.73L1488.11 682.33M1463.51 682.33L1488.11 657.73 M1470.94 653.2L1495.54 677.8M1470.94 677.8L1495.54 653.2 M1478.38 648.68L1502.98 673.28M1478.38 673.28L1502.98 648.68 M1485.81 644.15L1510.41 668.75M1485.81 668.75L1510.41 644.15 M1493.25 639.63L1517.85 664.23M1493.25 664.23L1517.85 639.63 M1500.68 635.17L1525.28 659.77M1500.68 659.77L1525.28 635.17 M1508.11 630.77L1532.71 655.37M1508.11 655.37L1532.71 630.77 M1515.55 626.48L1540.15 651.08M1515.55 651.08L1540.15 626.48 M1522.98 622.3L1547.58 646.9M1522.98 646.9L1547.58 622.3 M1530.42 618.26L1555.02 642.86M1530.42 642.86L1555.02 618.26 M1537.85 614.32L1562.45 638.92M1537.85 638.92L1562.45 614.32 M1545.28 610.47L1569.88 635.07M1545.28 635.07L1569.88 610.47 M1552.72 606.68L1577.32 631.28M1552.72 631.28L1577.32 606.68 M1560.15 602.93L1584.75 627.53M1560.15 627.53L1584.75 602.93 M1567.59 599.2L1592.19 623.8M1567.59 623.8L1592.19 599.2 M1575.02 595.46L1599.62 620.06M1575.02 620.06L1599.62 595.46 M1582.45 591.7L1607.05 616.3M1582.45 616.3L1607.05 591.7 M1589.89 587.92L1614.49 612.52M1589.89 612.52L1614.49 587.92 M1597.32 584.15L1621.92 608.75M1597.32 608.75L1621.92 584.15 M1604.76 580.38L1629.36 604.98M1604.76 604.98L1629.36 580.38 M1612.19 576.63L1636.79 601.23M1612.19 601.23L1636.79 576.63 M1619.62 572.89L1644.22 597.49M1619.62 597.49L1644.22 572.89 M1627.06 569.17L1651.66 593.77M1627.06 593.77L1651.66 569.17 M1634.49 565.48L1659.09 590.08M1634.49 590.08L1659.09 565.48 M1641.93 561.8L1666.53 586.4M1641.93 586.4L1666.53 561.8 M1649.36 558.14L1673.96 582.74M1649.36 582.74L1673.96 558.14 M1656.79 554.5L1681.39 579.1M1656.79 579.1L1681.39 554.5 M1664.23 550.87L1688.83 575.47M1664.23 575.47L1688.83 550.87 M1671.66 547.26L1696.26 571.86M1671.66 571.86L1696.26 547.26 M1679.1 543.66L1703.7 568.26M1679.1 568.26L1703.7 543.66 M1686.53 540.08L1711.13 564.68M1686.53 564.68L1711.13 540.08 M1693.96 536.51L1718.56 561.11M1693.96 561.11L1718.56 536.51 M1701.4 532.95L1726 557.55M1701.4 557.55L1726 532.95 M1708.83 529.42L1733.43 554.02M1708.83 554.02L1733.43 529.42 M1716.27 525.9L1740.87 550.5M1716.27 550.5L1740.87 525.9 M1723.7 522.4L1748.3 547M1723.7 547L1748.3 522.4" stroke="#0000ff" stroke-width="4" fill="none"/>
<path d="M1279.06 1003L1276.88 996.3L1271.18 992.16L1264.14 992.16L1258.44 996.3L1256.26 1003L1258.44 1009.7L1264.14 1013.84L1271.18 1013.84L1276.88 1009.7Z M1286.49 857.3L1284.31 850.6L1278.61 846.46L1271.57 846.46L1265.87 850.6L1263.69 857.3L1265.87 864L1271.57 868.14L1278.61 868.14L1284.31 864Z M1293.93 805L1291.75 798.3L1286.05 794.16L1279 794.16L1273.3 798.3L1271.13 805L1273.3 811.7L1279 815.84L1286.05 815.84L1291.75 811.7Z M1301.36 781L1299.18 774.3L1293.48 770.16L1286.44 770.16L1280.74 774.3L1278.56 781L1280.74 787.7L1286.44 791.84L1293.48 791.84L1299.18 787.7Z M1308.79 765L1306.62 758.3L1300.92 754.16L1293.87 754.16L1288.17 758.3L1285.99 765L1288.17 771.7L1293.87 775.84L1300.92 775.84L1306.62 771.7Z M1316.23 755.6L1314.05 748.9L1308.35 744.76L1301.31 744.76L1295.61 748.9L1293.43 755.6L1295.61 762.3L1301.31 766.44L1308.35 766.44L1314.05 762.3Z M1323.66 749.5L1321.48 742.8L1315.78 738.66L1308.74 738.66L1303.04 742.8L1300.86 749.5L1303.04 756.2L1308.74 760.34L1315.78 760.34L1321.48 756.2Z M1331.1 742L1328.92 735.3L1323.22 731.16L1316.17 731.16L1310.47 735.3L1308.3 742L1310.47 748.7L1316.17 752.84L1323.22 752.84L1328.92 748.7Z M1338.53 736L1336.35 729.3L1330.65 725.16L1323.61 725.16L1317.91 729.3L1315.73 736L1317.91 742.7L1323.61 746.84L1330.65 746.84L1336.35 742.7Z M1345.96 732L1343.79 725.3L1338.09 721.16L1331.04 721.16L1325.34 725.3L1323.16 732L1325.34 738.7L1331.04 742.84L1338.09 742.84L1343.79 738.7Z M1353.4 729.8L1351.22 723.1L1345.52 718.96L1338.48 718.96L1332.78 723.1L1330.6 729.8L1332.78 736.5L1338.48 740.64L1345.52 740.64L1351.22 736.5Z M1360.83 728L1358.65 721.3L1352.95 717.16L1345.91 717.16L1340.21 721.3L1338.03 728L1340.21 734.7L1345.91 738.84L1352.95 738.84L1358.65 734.7Z M1368.27 728L1366.09 721.3L1360.39 717.16L1353.34 717.16L1347.64 721.3L1345.47 728L1347.64 734.7L1353.34 738.84L1360.39 738.84L1366.09 734.7Z M1375.7 728L1373.52 721.3L1367.82 717.16L1360.78 717.16L1355.08 721.3L1352.9 728L1355.08 734.7L1360.78 738.84L1367.82 738.84L1373.52 734.7Z M1383.13 728L1380.96 721.3L1375.26 717.16L1368.21 717.16L1362.51 721.3L1360.33 728L1362.51 734.7L1368.21 738.84L1375.26 738.84L1380.96 734.7Z M1390.57 728L1388.39 721.3L1382.69 717.16L1375.65 717.16L1369.95 721.3L1367.77 728L1369.95 734.7L1375.65 738.84L1382.69 738.84L1388.39 734.7Z M1398 728L1395.82 721.3L1390.12 717.16L1383.08 717.16L1377.38 721.3L1375.2 728L1377.38 734.7L1383.08 738.84L1390.12 738.84L1395.82 734.7Z M1405.44 728L1403.26 721.3L1397.56 717.16L1390.51 717.16L1384.81 721.3L1382.64 728L1384.81 734.7L1390.51 738.84L1397.56 738.84L1403.26 734.7Z M1412.87 728L1410.69 721.3L1404.99 717.16L1397.95 717.16L1392.25 721.3L1390.07 728L1392.25 734.7L1397.95 738.84L1404.99 738.84L1410.69 734.7Z M1420.3 728L1418.13 721.3L1412.43 717.16L1405.38 717.16L1399.68 721.3L1397.5 728L1399.68 734.7L1405.38 738.84L1412.43 738.84L1418.13 734.7Z M1427.74 728L1425.56 721.3L1419.86 717.16L1412.82 717.16L1407.12 721.3L1404.94 728L1407.12 734.7L1412.82 738.84L1419.86 738.84L1425.56 734.7Z M1435.17 728L1432.99 721.3L1427.29 717.16L1420.25 717.16L1414.55 721.3L1412.37 728L1414.55 734.7L1420.25 738.84L1427.29 738.84L1432.99 734.7Z M1442.61 728L1440.43 721.3L1434.73 717.16L1427.68 717.16L1421.98 721.3L1419.81 728L1421.98 734.7L1427.68 738.84L1434.73 738.84L1440.43 734.7Z M1450.04 728L1447.86 721.3L1442.16 717.16L1435.12 717.16L1429.42 721.3L1427.24 728L1429.42 734.7L1435.12 738.84L1442.16 738.84L1447.86 734.7Z M1457.47 728L1455.3 721.3L1449.6 717.16L1442.55 717.16L1436.85 721.3L1434.67 728L1436.85 734.7L1442.55 738.84L1449.6 738.84L1455.3 734.7Z M1464.91 728L1462.73 721.3L1457.03 717.16L1449.99 717.16L1444.29 721.3L1442.11 728L1444.29 734.7L1449.99 738.84L1457.03 738.84L1462.73 734.7Z M1472.34 728L1470.16 721.3L1464.46 717.16L1457.42 717.16L1451.72 721.3L1449.54 728L1451.72 734.7L1457.42 738.84L1464.46 738.84L1470.16 734.7Z M1479.78 728L1477.6 721.3L1471.9 717.16L1464.85 717.16L1459.15 721.3L1456.98 728L1459.15 734.7L1464.85 738.84L1471.9 738.84L1477.6 734.7Z M1487.21 728L1485.03 721.3L1479.33 717.16L1472.29 717.16L1466.59 721.3L1464.41 728L1466.59 734.7L1472.29 738.84L1479.33 738.84L1485.03 734.7Z M1494.64 728L1492.47 721.3L1486.77 717.16L1479.72 717.16L1474.02 721.3L1471.84 728L1474.02 734.7L1479.72 738.84L1486.77 738.84L1492.47 734.7Z M1502.08 728L1499.9 721.3L1494.2 717.16L1487.16 717.16L1481.46 721.3L1479.28 728L1481.46 734.7L1487.16 738.84L1494.2 738.84L1499.9 734.7Z M1509.51 728L1507.33 721.3L1501.63 717.16L1494.59 717.16L1488.89 721.3L1486.71 728L1488.89 734.7L1494.59 738.84L1501.63 738.84L1507.33 734.7Z M1516.95 728L1514.77 721.3L1509.07 717.16L1502.02 717.16L1496.32 721.3L1494.15 728L1496.32 734.7L1502.02 738.84L1509.07 738.84L1514.77 734.7Z M1524.38 728L1522.2 721.3L1516.5 717.16L1509.46 717.16L1503.76 721.3L1501.58 728L1503.76 734.7L1509.46 738.84L1516.5 738.84L1522.2 734.7Z M1531.81 728L1529.64 721.3L1523.94 717.16L1516.89 717.16L1511.19 721.3L1509.01 728L1511.19 734.7L1516.89 738.84L1523.94 738.84L1529.64 734.7Z M1539.25 728L1537.07 721.3L1531.37 717.16L1524.33 717.16L1518.63 721.3L1516.45 728L1518.63 734.7L1524.33 738.84L1531.37 738.84L1537.07 734.7Z M1546.68 728L1544.5 721.3L1538.8 717.16L1531.76 717.16L1526.06 721.3L1523.88 728L1526.06 734.7L1531.76 738.84L1538.8 738.84L1544.5 734.7Z M1554.12 728L1551.94 721.3L1546.24 717.16L1539.19 717.16L1533.49 721.3L1531.32 728L1533.49 734.7L1539.19 738.84L1546.24 738.84L1551.94 734.7Z M1561.55 728L1559.37 721.3L1553.67 717.16L1546.63 717.16L1540.93 721.3L1538.75 728L1540.93 734.7L1546.63 738.84L1553.67 738.84L1559.37 734.7Z M1568.98 728L1566.81 721.3L1561.11 717.16L1554.06 717.16L1548.36 721.3L1546.18 728L1548.36 734.7L1554.06 738.84L1561.11 738.84L1566.81 734.7Z M1576.42 728L1574.24 721.3L1568.54 717.16L1561.5 717.16L1555.8 721.3L1553.62 728L1555.8 734.7L1561.5 738.84L1568.54 738.84L1574.24 734.7Z M1583.85 728L1581.67 721.3L1575.97 717.16L1568.93 717.16L1563.23 721.3L1561.05 728L1563.23 734.7L1568.93 738.84L1575.97 738.84L1581.67 734.7Z M1591.29 728L1589.11 721.3L1583.41 717.16L1576.36 717.16L1570.66 721.3L1568.49 728L1570.66 734.7L1576.36 738.84L1583.41 738.84L1589.11 734.7Z M1598.72 728L1596.54 721.3L1590.84 717.16L1583.8 717.16L1578.1 721.3L1575.92 728L1578.1 734.7L1583.8 738.84L1590.84 738.84L1596.54 734.7Z M1606.15 728L1603.98 721.3L1598.28 717.16L1591.23 717.16L1585.53 721.3L1583.35 728L1585.53 734.7L1591.23 738.84L1598.28 738.84L1603.98 734.7Z M1613.59 728L1611.41 721.3L1605.71 717.16L1598.67 717.16L1592.97 721.3L1590.79 728L1592.97 734.7L1598.67 738.84L1605.71 738.84L1611.41 734.7Z M1621.02 728L1618.84 721.3L1613.14 717.16L1606.1 717.16L1600.4 721.3L1598.22 728L1600.4 734.7L1606.1 738.84L1613.14 738.84L1618.84 734.7Z M1628.46 728L1626.28 721.3L1620.58 717.16L1613.53 717.16L1607.83 721.3L1605.66 728L1607.83 734.7L1613.53 738.84L1620.58 738.84L1626.28 734.7Z M1635.89 728L1633.71 721.3L1628.01 717.16L1620.97 717.16L1615.27 721.3L1613.09 728L1615.27 734.7L1620.97 738.84L1628.01 738.84L1633.71 734.7Z M1643.32 728L1641.15 721.3L1635.45 717.16L1628.4 717.16L1622.7 721.3L1620.52 728L1622.7 734.7L1628.4 738.84L1635.45 738.84L1641.15 734.7Z M1650.76 728L1648.58 721.3L1642.88 717.16L1635.84 717.16L1630.14 721.3L1627.96 728L1630.14 734.7L1635.84 738.84L1642.88 738.84L1648.58 734.7Z M1658.19 728L1656.01 721.3L1650.31 717.16L1643.27 717.16L1637.57 721.3L1635.39 728L1637.57 734.7L1643.27 738.84L1650.31 738.84L1656.01 734.7Z M1665.63 728L1663.45 721.3L1657.75 717.16L1650.7 717.16L1645 721.3L1642.83 728L1645 734.7L1650.7 738.84L1657.75 738.84L1663.45 734.7Z M1673.06 728L1670.88 721.3L1665.18 717.16L1658.14 717.16L1652.44 721.3L1650.26 728L1652.44 734.7L1658.14 738.84L1665.18 738.84L1670.88 734.7Z M1680.49 728L1678.32 721.3L1672.62 717.16L1665.57 717.16L1659.87 721.3L1657.69 728L1659.87 734.7L1665.57 738.84L1672.62 738.84L1678.32 734.7Z M1687.93 728L1685.75 721.3L1680.05 717.16L1673.01 717.16L1667.31 721.3L1665.13 728L1667.31 734.7L1673.01 738.84L1680.05 738.84L1685.75 734.7Z M1695.36 728L1693.18 721.3L1687.48 717.16L1680.44 717.16L1674.74 721.3L1672.56 728L1674.74 734.7L1680.44 738.84L1687.48 738.84L1693.18 734.7Z M1702.8 728L1700.62 721.3L1694.92 717.16L1687.87 717.16L1682.17 721.3L1680 728L1682.17 734.7L1687.87 738.84L1694.92 738.84L1700.62 734.7Z M1710.23 728L1708.05 721.3L1702.35 717.16L1695.31 717.16L1689.61 721.3L1687.43 728L1689.61 734.7L1695.31 738.84L1702.35 738.84L1708.05 734.7Z M1717.66 728L1715.49 721.3L1709.79 717.16L1702.74 717.16L1697.04 721.3L1694.86 728L1697.04 734.7L1702.74 738.84L1709.79 738.84L1715.49 734.7Z M1725.1 728L1722.92 721.3L1717.22 717.16L1710.18 717.16L1704.48 721.3L1702.3 728L1704.48 734.7L1710.18 738.84L1717.22 738.84L1722.92 734.7Z M1732.53 728L1730.35 721.3L1724.65 717.16L1717.61 717.16L1711.91 721.3L1709.73 728L1711.91 734.7L1717.61 738.84L1724.65 738.84L1730.35 734.7Z M1739.97 728L1737.79 721.3L1732.09 717.16L1725.04 717.16L1719.34 721.3L1717.17 728L1719.34 734.7L1725.04 738.84L1732.09 738.84L1737.79 734.7Z M1747.4 728L1745.22 721.3L1739.52 717.16L1732.48 717.16L1726.78 721.3L1724.6 728L1726.78 734.7L1732.48 738.84L1739.52 738.84L1745.22 734.7Z" stroke="#ff00ff" stroke-width="3.6" fill="none" stroke-linejoin="miter"/>
<path d="M1208.19 991.6L1219.64 1014.4L1196.74 1014.4Z M1215.62 858L1227.07 880.8L1204.17 880.8Z M1223.05 801.5L1234.5 824.3L1211.6 824.3Z M1230.49 777.6L1241.94 800.4L1219.04 800.4Z M1237.92 763.6L1249.37 786.4L1226.47 786.4Z M1245.36 751.1L1256.81 773.9L1233.91 773.9Z M1252.79 741.6L1264.24 764.4L1241.34 764.4Z M1260.22 732.6L1271.67 755.4L1248.77 755.4Z M1267.66 726.4L1279.11 749.2L1256.21 749.2Z M1275.09 726.4L1286.54 749.2L1263.64 749.2Z M1282.53 726.4L1293.98 749.2L1271.08 749.2Z M1289.96 726.4L1301.41 749.2L1278.51 749.2Z M1297.39 726.4L1308.84 749.2L1285.94 749.2Z M1304.83 726.4L1316.28 749.2L1293.38 749.2Z M1312.26 726.4L1323.71 749.2L1300.81 749.2Z M1319.7 726.4L1331.15 749.2L1308.25 749.2Z M1327.13 726.4L1338.58 749.2L1315.68 749.2Z M1334.56 726.4L1346.01 749.2L1323.11 749.2Z M1342 729.6L1353.45 752.4L1330.55 752.4Z M1349.43 729.6L1360.88 752.4L1337.98 752.4Z M1356.87 729.6L1368.32 752.4L1345.42 752.4Z M1364.3 729.6L1375.75 752.4L1352.85 752.4Z M1371.73 729.6L1383.18 752.4L1360.28 752.4Z M1379.17 729.6L1390.62 752.4L1367.72 752.4Z M1386.6 729.6L1398.05 752.4L1375.15 752.4Z M1394.04 729.6L1405.49 752.4L1382.59 752.4Z M1401.47 729.6L1412.92 752.4L1390.02 752.4Z M1408.9 729.6L1420.35 752.4L1397.45 752.4Z M1416.34 729.6L1427.79 752.4L1404.89 752.4Z M1423.77 729.6L1435.22 752.4L1412.32 752.4Z M1431.21 729.6L1442.66 752.4L1419.76 752.4Z M1438.64 729.6L1450.09 752.4L1427.19 752.4Z M1446.07 729.6L1457.52 752.4L1434.62 752.4Z M1453.51 729.6L1464.96 752.4L1442.06 752.4Z M1460.94 729.6L1472.39 752.4L1449.49 752.4Z M1468.38 729.6L1479.83 752.4L1456.93 752.4Z M1475.81 729.6L1487.26 752.4L1464.36 752.4Z M1483.24 729.6L1494.69 752.4L1471.79 752.4Z M1490.68 729.6L1502.13 752.4L1479.23 752.4Z M1498.11 729.6L1509.56 752.4L1486.66 752.4Z M1505.55 729.6L1517 752.4L1494.1 752.4Z M1512.98 729.6L1524.43 752.4L1501.53 752.4Z M1520.41 729.6L1531.86 752.4L1508.96 752.4Z M1527.85 729.6L1539.3 752.4L1516.4 752.4Z M1535.28 729.6L1546.73 752.4L1523.83 752.4Z M1542.72 729.6L1554.17 752.4L1531.27 752.4Z M1550.15 729.6L1561.6 752.4L1538.7 752.4Z M1557.58 729.6L1569.03 752.4L1546.13 752.4Z M1565.02 729.6L1576.47 752.4L1553.57 752.4Z M1572.45 729.6L1583.9 752.4L1561 752.4Z M1579.89 729.6L1591.34 752.4L1568.44 752.4Z M1587.32 729.6L1598.77 752.4L1575.87 752.4Z M1594.75 729.6L1606.2 752.4L1583.3 752.4Z M1602.19 729.6L1613.64 752.4L1590.74 752.4Z M1609.62 729.6L1621.07 752.4L1598.17 752.4Z M1617.06 729.6L1628.51 752.4L1605.61 752.4Z M1624.49 729.6L1635.94 752.4L1613.04 752.4Z M1631.92 729.6L1643.37 752.4L1620.47 752.4Z M1639.36 729.6L1650.81 752.4L1627.91 752.4Z M1646.79 729.6L1658.24 752.4L1635.34 752.4Z M1654.23 729.6L1665.68 752.4L1642.78 752.4Z M1661.66 729.6L1673.11 752.4L1650.21 752.4Z M1669.09 729.6L1680.54 752.4L1657.64 752.4Z M1676.53 729.6L1687.98 752.4L1665.08 752.4Z M1683.96 729.6L1695.41 752.4L1672.51 752.4Z M1691.4 729.6L1702.85 752.4L1679.95 752.4Z M1698.83 729.6L1710.28 752.4L1687.38 752.4Z M1706.26 729.6L1717.71 752.4L1694.81 752.4Z M1713.7 729.6L1725.15 752.4L1702.25 752.4Z M1721.13 729.6L1732.58 752.4L1709.68 752.4Z M1728.57 729.6L1740.02 752.4L1717.12 752.4Z M1736 729.6L1747.45 752.4L1724.55 752.4Z" stroke="#808000" stroke-width="3.6" fill="none" stroke-linejoin="round"/>
<path d="M982 704L992.6 693.4L1003.2 704L992.6 714.6Z M989.43 704L1000.03 693.4L1010.63 704L1000.03 714.6Z M996.87 704L1007.47 693.4L1018.07 704L1007.47 714.6Z M1004.3 704L1014.9 693.4L1025.5 704L1014.9 714.6Z M1011.74 704L1022.34 693.4L1032.94 704L1022.34 714.6Z M1019.17 704L1029.77 693.4L1040.37 704L1029.77 714.6Z M1026.6 704L1037.2 693.4L1047.8 704L1037.2 714.6Z M1034.04 704L1044.64 693.4L1055.24 704L1044.64 714.6Z M1041.47 704L1052.07 693.4L1062.67 704L1052.07 714.6Z M1048.91 704L1059.51 693.4L1070.11 704L1059.51 714.6Z M1056.34 704L1066.94 693.4L1077.54 704L1066.94 714.6Z M1063.77 704L1074.37 693.4L1084.97 704L1074.37 714.6Z M1071.21 704L1081.81 693.4L1092.41 704L1081.81 714.6Z M1078.64 704L1089.24 693.4L1099.84 704L1089.24 714.6Z M1086.08 704L1096.68 693.4L1107.28 704L1096.68 714.6Z M1093.51 704L1104.11 693.4L1114.71 704L1104.11 714.6Z M1100.94 704L1111.54 693.4L1122.14 704L1111.54 714.6Z M1108.38 704L1118.98 693.4L1129.58 704L1118.98 714.6Z M1115.81 704L1126.41 693.4L1137.01 704L1126.41 714.6Z M1123.25 704L1133.85 693.4L1144.45 704L1133.85 714.6Z M1130.68 704L1141.28 693.4L1151.88 704L1141.28 714.6Z M1138.11 704L1148.71 693.4L1159.31 704L1148.71 714.6Z M1145.55 704L1156.15 693.4L1166.75 704L1156.15 714.6Z M1152.98 704L1163.58 693.4L1174.18 704L1163.58 714.6Z M1160.42 704L1171.02 693.4L1181.62 704L1171.02 714.6Z M1167.85 704L1178.45 693.4L1189.05 704L1178.45 714.6Z M1175.28 704L1185.88 693.4L1196.48 704L1185.88 714.6Z M1182.72 704L1193.32 693.4L1203.92 704L1193.32 714.6Z M1190.15 704L1200.75 693.4L1211.35 704L1200.75 714.6Z M1197.59 704L1208.19 693.4L1218.79 704L1208.19 714.6Z M1205.02 704L1215.62 693.4L1226.22 704L1215.62 714.6Z M1212.45 704L1223.05 693.4L1233.65 704L1223.05 714.6Z M1219.89 704L1230.49 693.4L1241.09 704L1230.49 714.6Z M1227.32 704L1237.92 693.4L1248.52 704L1237.92 714.6Z M1234.76 704L1245.36 693.4L1255.96 704L1245.36 714.6Z M1242.19 704L1252.79 693.4L1263.39 704L1252.79 714.6Z M1249.62 704L1260.22 693.4L1270.82 704L1260.22 714.6Z M1257.06 704L1267.66 693.4L1278.26 704L1267.66 714.6Z M1264.49 704L1275.09 693.4L1285.69 704L1275.09 714.6Z M1271.93 704L1282.53 693.4L1293.13 704L1282.53 714.6Z M1279.36 704L1289.96 693.4L1300.56 704L1289.96 714.6Z M1286.79 704L1297.39 693.4L1307.99 704L1297.39 714.6Z M1294.23 704L1304.83 693.4L1315.43 704L1304.83 714.6Z M1301.66 704L1312.26 693.4L1322.86 704L1312.26 714.6Z M1309.1 704L1319.7 693.4L1330.3 704L1319.7 714.6Z M1316.53 704L1327.13 693.4L1337.73 704L1327.13 714.6Z M1323.96 704L1334.56 693.4L1345.16 704L1334.56 714.6Z M1331.4 704L1342 693.4L1352.6 704L1342 714.6Z M1338.83 704L1349.43 693.4L1360.03 704L1349.43 714.6Z M1346.27 704L1356.87 693.4L1367.47 704L1356.87 714.6Z M1353.7 704L1364.3 693.4L1374.9 704L1364.3 714.6Z M1361.13 704L1371.73 693.4L1382.33 704L1371.73 714.6Z M1368.57 704L1379.17 693.4L1389.77 704L1379.17 714.6Z M1376 704L1386.6 693.4L1397.2 704L1386.6 714.6Z M1383.44 704L1394.04 693.4L1404.64 704L1394.04 714.6Z M1390.87 704L1401.47 693.4L1412.07 704L1401.47 714.6Z M1398.3 704L1408.9 693.4L1419.5 704L1408.9 714.6Z M1405.74 704L1416.34 693.4L1426.94 704L1416.34 714.6Z M1413.17 704L1423.77 693.4L1434.37 704L1423.77 714.6Z M1420.61 704L1431.21 693.4L1441.81 704L1431.21 714.6Z M1428.04 704L1438.64 693.4L1449.24 704L1438.64 714.6Z M1435.47 704L1446.07 693.4L1456.67 704L1446.07 714.6Z M1442.91 704L1453.51 693.4L1464.11 704L1453.51 714.6Z M1450.34 704L1460.94 693.4L1471.54 704L1460.94 714.6Z M1457.78 704L1468.38 693.4L1478.98 704L1468.38 714.6Z M1465.21 704L1475.81 693.4L1486.41 704L1475.81 714.6Z M1472.64 704L1483.24 693.4L1493.84 704L1483.24 714.6Z M1480.08 704L1490.68 693.4L1501.28 704L1490.68 714.6Z M1487.51 704L1498.11 693.4L1508.71 704L1498.11 714.6Z M1494.95 704L1505.55 693.4L1516.15 704L1505.55 714.6Z M1502.38 704L1512.98 693.4L1523.58 704L1512.98 714.6Z M1509.81 704L1520.41 693.4L1531.01 704L1520.41 714.6Z M1517.25 704L1527.85 693.4L1538.45 704L1527.85 714.6Z M1524.68 704L1535.28 693.4L1545.88 704L1535.28 714.6Z M1532.12 704L1542.72 693.4L1553.32 704L1542.72 714.6Z M1539.55 704L1550.15 693.4L1560.75 704L1550.15 714.6Z M1546.98 704L1557.58 693.4L1568.18 704L1557.58 714.6Z M1554.42 704L1565.02 693.4L1575.62 704L1565.02 714.6Z M1561.85 704L1572.45 693.4L1583.05 704L1572.45 714.6Z M1569.29 704L1579.89 693.4L1590.49 704L1579.89 714.6Z M1576.72 704L1587.32 693.4L1597.92 704L1587.32 714.6Z M1584.15 704L1594.75 693.4L1605.35 704L1594.75 714.6Z M1591.59 704L1602.19 693.4L1612.79 704L1602.19 714.6Z M1599.02 704L1609.62 693.4L1620.22 704L1609.62 714.6Z M1606.46 704L1617.06 693.4L1627.66 704L1617.06 714.6Z M1613.89 704L1624.49 693.4L1635.09 704L1624.49 714.6Z M1621.32 704L1631.92 693.4L1642.52 704L1631.92 714.6Z M1628.76 704L1639.36 693.4L1649.96 704L1639.36 714.6Z M1636.19 704L1646.79 693.4L1657.39 704L1646.79 714.6Z M1643.63 704L1654.23 693.4L1664.83 704L1654.23 714.6Z M1651.06 704L1661.66 693.4L1672.26 704L1661.66 714.6Z M1658.49 704L1669.09 693.4L1679.69 704L1669.09 714.6Z M1665.93 704L1676.53 693.4L1687.13 704L1676.53 714.6Z M1673.36 704L1683.96 693.4L1694.56 704L1683.96 714.6Z M1680.8 704L1691.4 693.4L1702 704L1691.4 714.6Z M1688.23 704L1698.83 693.4L1709.43 704L1698.83 714.6Z M1695.66 704L1706.26 693.4L1716.86 704L1706.26 714.6Z M1703.1 704L1713.7 693.4L1724.3 704L1713.7 714.6Z M1710.53 704L1721.13 693.4L1731.73 704L1721.13 714.6Z M1717.97 704L1728.57 693.4L1739.17 704L1728.57 714.6Z M1725.4 704L1736 693.4L1746.6 704L1736 714.6Z" stroke="#808080" stroke-width="4" fill="none" stroke-linejoin="miter"/>
<g clip-path="url(#clipc)">
<path d="M992.6 621.73 L994.09 621.67 L995.58 621.62 L997.07 621.56 L998.56 621.52 L1000.05 621.47 L1001.54 621.44 L1003.03 621.4 L1004.52 621.37 L1006.01 621.35 L1007.5 621.32 L1008.99 621.31 L1010.48 621.29 L1011.97 621.28 L1013.46 621.28 L1014.95 621.27 L1016.44 621.28 L1017.93 621.28 L1019.42 621.3 L1020.91 621.31 L1022.4 621.33 L1023.89 621.35 L1025.38 621.38 L1026.86 621.42 L1028.35 621.45 L1029.84 621.49 L1031.33 621.54 L1032.82 621.59 L1034.31 621.64 L1035.8 621.7 L1037.29 621.76 L1038.78 621.83 L1040.27 621.9 L1041.76 621.98 L1043.25 622.06 L1044.74 622.14 L1046.23 622.23 L1047.72 622.32 L1049.21 622.42 L1050.7 622.52 L1052.19 622.63 L1053.68 622.74 L1055.17 622.85 L1056.66 622.97 L1058.15 623.09 L1059.64 623.22 L1061.13 623.36 L1062.62 623.49 L1064.11 623.63 L1065.6 623.78 L1067.09 623.93 L1068.58 624.09 L1070.07 624.25 L1071.56 624.41 L1073.05 624.58 L1074.54 624.75 L1076.03 624.93 L1077.52 625.11 L1079.01 625.3 L1080.5 625.49 L1081.99 625.69 L1083.48 625.89 L1084.97 626.1 L1086.46 626.31 L1087.95 626.52 L1089.44 626.74 L1090.93 626.96 L1092.42 627.19 L1093.91 627.43 L1095.39 627.66 L1096.88 627.91 L1098.37 628.15 L1099.86 628.41 L1101.35 628.66 L1102.84 628.92 L1104.33 629.19 L1105.82 629.46 L1107.31 629.74 L1108.8 630.02 L1110.29 630.3 L1111.78 630.59 L1113.27 630.89 L1114.76 631.19 L1116.25 631.49 L1117.74 631.8 L1119.23 632.12 L1120.72 632.44 L1122.21 632.76 L1123.7 633.09 L1125.19 633.42 L1126.68 633.76 L1128.17 634.1 L1129.66 634.45 L1131.15 634.8 L1132.64 635.16 L1134.13 635.53 L1135.62 635.89 L1137.11 636.27 L1138.6 636.64 L1140.09 637.03 L1141.58 637.41 L1143.07 637.81 L1144.56 638.21 L1146.05 638.61 L1147.54 639.02 L1149.03 639.43 L1150.52 639.85 L1152.01 640.27 L1153.5 640.7 L1154.99 641.13 L1156.48 641.57 L1157.97 642.01 L1159.46 642.46 L1160.95 642.91 L1162.43 643.37 L1163.92 643.83 L1165.41 644.3 L1166.9 644.78 L1168.39 645.25 L1169.88 645.74 L1171.37 646.23 L1172.86 646.72 L1174.35 647.22 L1175.84 647.73 L1177.33 648.24 L1178.82 648.75 L1180.31 649.27 L1181.8 649.8 L1183.29 650.33 L1184.78 650.86 L1186.27 651.4 L1187.76 651.95 L1189.25 652.5 L1190.74 653.06 L1192.23 653.62 L1193.72 654.19 L1195.21 654.76 L1196.7 655.34 L1198.19 655.92 L1199.68 656.51 L1201.17 657.11 L1202.66 657.71 L1204.15 658.31 L1205.64 658.92 L1207.13 659.54 L1208.62 660.16 L1210.11 660.78 L1211.6 661.42 L1213.09 662.05 L1214.58 662.7 L1216.07 663.34 L1217.56 664 L1219.05 664.66 L1220.54 665.32 L1222.03 665.99 L1223.52 666.67 L1225.01 667.35 L1226.5 668.03 L1227.99 668.73 L1229.47 669.42 L1230.96 670.13 L1232.45 670.83 L1233.94 671.55 L1235.43 672.27 L1236.92 672.99 L1238.41 673.72 L1239.9 674.46 L1241.39 675.2 L1242.88 675.95 L1244.37 676.7 L1245.86 677.46 L1247.35 678.22 L1248.84 678.99 L1250.33 679.76 L1251.82 680.54 L1253.31 681.32 L1254.8 682.11 L1256.29 682.9 L1257.78 683.69 L1259.27 684.49 L1260.76 685.29 L1262.25 686.09 L1263.74 686.9 L1265.23 687.7 L1266.72 688.52 L1268.21 689.33 L1269.7 690.15 L1271.19 690.96 L1272.68 691.78 L1274.17 692.61 L1275.66 693.43 L1277.15 694.25 L1278.64 695.08 L1280.13 695.91 L1281.62 696.73 L1283.11 697.56 L1284.6 698.39 L1286.09 699.22 L1287.58 700.04 L1289.07 700.87 L1290.56 701.7 L1292.05 702.53 L1293.54 703.35 L1295.03 704.18 L1296.52 705 L1298 705.82 L1299.49 706.65 L1300.98 707.47 L1302.47 708.28 L1303.96 709.1 L1305.45 709.91 L1306.94 710.72 L1308.43 711.53 L1309.92 712.34 L1311.41 713.14 L1312.9 713.94 L1314.39 714.73 L1315.88 715.53 L1317.37 716.32 L1318.86 717.11 L1320.35 717.89 L1321.84 718.67 L1323.33 719.46 L1324.82 720.23 L1326.31 721.01 L1327.8 721.78 L1329.29 722.56 L1330.78 723.33 L1332.27 724.1 L1333.76 724.86 L1335.25 725.63 L1336.74 726.39 L1338.23 727.16 L1339.72 727.92 L1341.21 728.68 L1342.7 729.44 L1344.19 730.2 L1345.68 730.95 L1347.17 731.71 L1348.66 732.47 L1350.15 733.22 L1351.64 733.98 L1353.13 734.74 L1354.62 735.49 L1356.11 736.25 L1357.6 737 L1359.09 737.76 L1360.58 738.51 L1362.07 739.27 L1363.56 740.02 L1365.04 740.78 L1366.53 741.54 L1368.02 742.3 L1369.51 743.06 L1371 743.82 L1372.49 744.58 L1373.98 745.34 L1375.47 746.1 L1376.96 746.86 L1378.45 747.62 L1379.94 748.39 L1381.43 749.15 L1382.92 749.92 L1384.41 750.68 L1385.9 751.45 L1387.39 752.21 L1388.88 752.98 L1390.37 753.75 L1391.86 754.51 L1393.35 755.28 L1394.84 756.05 L1396.33 756.82 L1397.82 757.59 L1399.31 758.36 L1400.8 759.13 L1402.29 759.9 L1403.78 760.68 L1405.27 761.45 L1406.76 762.22 L1408.25 763 L1409.74 763.77 L1411.23 764.54 L1412.72 765.32 L1414.21 766.09 L1415.7 766.87 L1417.19 767.64 L1418.68 768.42 L1420.17 769.2 L1421.66 769.97 L1423.15 770.75 L1424.64 771.53 L1426.13 772.31 L1427.62 773.09 L1429.11 773.87 L1430.6 774.65 L1432.08 775.43 L1433.57 776.2 L1435.06 776.99 L1436.55 777.77 L1438.04 778.55 L1439.53 779.33 L1441.02 780.11 L1442.51 780.89 L1444 781.67 L1445.49 782.46 L1446.98 783.24 L1448.47 784.02 L1449.96 784.8 L1451.45 785.59 L1452.94 786.37 L1454.43 787.15 L1455.92 787.94 L1457.41 788.72 L1458.9 789.51 L1460.39 790.29 L1461.88 791.08 L1463.37 791.86 L1464.86 792.65 L1466.35 793.43 L1467.84 794.22 L1469.33 795 L1470.82 795.79 L1472.31 796.57 L1473.8 797.36 L1475.29 798.14 L1476.78 798.93 L1478.27 799.72 L1479.76 800.5 L1481.25 801.29 L1482.74 802.07 L1484.23 802.86 L1485.72 803.65 L1487.21 804.43 L1488.7 805.22 L1490.19 806.01 L1491.68 806.79 L1493.17 807.58 L1494.66 808.37 L1496.15 809.15 L1497.64 809.94 L1499.13 810.73 L1500.61 811.51 L1502.1 812.3 L1503.59 813.09 L1505.08 813.87 L1506.57 814.66 L1508.06 815.44 L1509.55 816.23 L1511.04 817.02 L1512.53 817.8 L1514.02 818.59 L1515.51 819.37 L1517 820.16 L1518.49 820.95 L1519.98 821.73 L1521.47 822.52 L1522.96 823.3 L1524.45 824.09 L1525.94 824.87 L1527.43 825.66 L1528.92 826.44 L1530.41 827.22 L1531.9 828.01 L1533.39 828.79 L1534.88 829.58 L1536.37 830.36 L1537.86 831.14 L1539.35 831.93 L1540.84 832.71 L1542.33 833.49 L1543.82 834.27 L1545.31 835.06 L1546.8 835.84 L1548.29 836.62 L1549.78 837.4 L1551.27 838.18 L1552.76 838.96 L1554.25 839.74 L1555.74 840.52 L1557.23 841.3 L1558.72 842.08 L1560.21 842.86 L1561.7 843.64 L1563.19 844.42 L1564.68 845.19 L1566.17 845.97 L1567.65 846.75 L1569.14 847.53 L1570.63 848.3 L1572.12 849.08 L1573.61 849.85 L1575.1 850.63 L1576.59 851.4 L1578.08 852.18 L1579.57 852.95 L1581.06 853.72 L1582.55 854.5 L1584.04 855.27 L1585.53 856.04 L1587.02 856.81 L1588.51 857.58 L1590 858.36 L1591.49 859.13 L1592.98 859.89 L1594.47 860.66 L1595.96 861.43 L1597.45 862.2 L1598.94 862.97 L1600.43 863.73 L1601.92 864.5 L1603.41 865.27 L1604.9 866.03 L1606.39 866.8 L1607.88 867.56 L1609.37 868.32 L1610.86 869.09 L1612.35 869.85 L1613.84 870.61 L1615.33 871.37 L1616.82 872.13 L1618.31 872.89 L1619.8 873.65 L1621.29 874.41 L1622.78 875.16 L1624.27 875.92 L1625.76 876.68 L1627.25 877.43 L1628.74 878.19 L1630.23 878.94 L1631.72 879.7 L1633.21 880.45 L1634.69 881.2 L1636.18 881.95 L1637.67 882.7 L1639.16 883.45 L1640.65 884.2 L1642.14 884.95 L1643.63 885.7 L1645.12 886.44 L1646.61 887.19 L1648.1 887.93 L1649.59 888.68 L1651.08 889.42 L1652.57 890.16 L1654.06 890.91 L1655.55 891.65 L1657.04 892.39 L1658.53 893.13 L1660.02 893.86 L1661.51 894.6 L1663 895.34 L1664.49 896.07 L1665.98 896.81 L1667.47 897.54 L1668.96 898.28 L1670.45 899.01 L1671.94 899.74 L1673.43 900.47 L1674.92 901.2 L1676.41 901.93 L1677.9 902.65 L1679.39 903.38 L1680.88 904.11 L1682.37 904.83 L1683.86 905.55 L1685.35 906.28 L1686.84 907 L1688.33 907.72 L1689.82 908.44 L1691.31 909.15 L1692.8 909.87 L1694.29 910.59 L1695.78 911.3 L1697.27 912.02 L1698.76 912.73 L1700.25 913.44 L1701.74 914.15 L1703.22 914.86 L1704.71 915.57 L1706.2 916.28 L1707.69 916.99 L1709.18 917.69 L1710.67 918.4 L1712.16 919.1 L1713.65 919.8 L1715.14 920.5 L1716.63 921.2 L1718.12 921.9 L1719.61 922.6 L1721.1 923.29 L1722.59 923.99 L1724.08 924.68 L1725.57 925.37 L1727.06 926.07 L1728.55 926.76 L1730.04 927.44 L1731.53 928.13 L1733.02 928.82 L1734.51 929.5 L1736 930.19" stroke="#00ff00" stroke-width="6" fill="none" stroke-dasharray="29 7.5 14.5 7.5" stroke-linejoin="round" />
</g>
<text x="888.55" y="556" font-size="40" font-family="'Liberation Serif', 'Times New Roman', serif" fill="#000" font-weight="bold" >c</text>
<text x="928.9" y="618.5" font-family="'Liberation Sans', Arial, Helvetica, sans-serif" font-size="28.5">10<tspan font-size="20" dy="-11">1</tspan></text>
<text x="928.9" y="718.5" font-family="'Liberation Sans', Arial, Helvetica, sans-serif" font-size="28.5">10<tspan font-size="20" dy="-11">0</tspan></text>
<text x="914.8" y="818.5" font-family="'Liberation Sans', Arial, Helvetica, sans-serif" font-size="28.5">10<tspan font-size="20" dy="-11">−1</tspan></text>
<text x="914.8" y="918.5" font-family="'Liberation Sans', Arial, Helvetica, sans-serif" font-size="28.5">10<tspan font-size="20" dy="-11">−2</tspan></text>
<text x="914.8" y="1018.5" font-family="'Liberation Sans', Arial, Helvetica, sans-serif" font-size="28.5">10<tspan font-size="20" dy="-11">−3</tspan></text>
<text x="958.85" y="1050.5" font-family="'Liberation Sans', Arial, Helvetica, sans-serif" font-size="28.5">10<tspan font-size="20" dy="-11">−1</tspan></text>
<text x="1150.54" y="1050.5" font-family="'Liberation Sans', Arial, Helvetica, sans-serif" font-size="28.5">10<tspan font-size="20" dy="-11">0</tspan></text>
<text x="1336.39" y="1050.5" font-family="'Liberation Sans', Arial, Helvetica, sans-serif" font-size="28.5">10<tspan font-size="20" dy="-11">1</tspan></text>
<text x="1522.24" y="1050.5" font-family="'Liberation Sans', Arial, Helvetica, sans-serif" font-size="28.5">10<tspan font-size="20" dy="-11">2</tspan></text>
<text x="1708.09" y="1050.5" font-family="'Liberation Sans', Arial, Helvetica, sans-serif" font-size="28.5">10<tspan font-size="20" dy="-11">3</tspan></text>
<text transform="translate(915.5 990.3) rotate(-90)" x="-0.57" y="0" font-family="'Liberation Serif', 'Times New Roman', serif" font-size="36.66">Relative number of iterations</text>
<text x="1199.83" y="1085.5" font-size="36.66" font-family="'Liberation Serif', 'Times New Roman', serif" fill="#000" >Measurement time (s)</text>
<text transform="translate(1003.15 748.5) scale(0.87 1)" x="0" y="0" font-size="26.49" font-family="'Liberation Serif', 'Times New Roman', serif" fill="#808080" font-style="italic">A</text>
<text x="1018.6" y="752.9" font-size="18" font-family="'Liberation Sans', Arial, Helvetica, sans-serif" fill="#808080" >0</text>
<rect x="1003" y="754.55" width="27.4" height="2.3" fill="#808080"/>
<text x="1009.8" y="777.8" font-size="24.5" font-family="'Liberation Sans', Arial, Helvetica, sans-serif" fill="#808080" >8</text>
<path d="M1034.5 770.5L1043.5 740" stroke="#000" stroke-width="2.2"/>
<text transform="translate(1049.15 748.5) scale(0.87 1)" x="0" y="0" font-size="26.49" font-family="'Liberation Serif', 'Times New Roman', serif" fill="#808080" font-style="italic">A</text>
<text x="1064.6" y="752.9" font-size="18" font-family="'Liberation Sans', Arial, Helvetica, sans-serif" fill="#808080" >0</text>
<rect x="1049" y="754.55" width="27.4" height="2.3" fill="#808080"/>
<text x="1055.8" y="777.8" font-size="24.5" font-family="'Liberation Sans', Arial, Helvetica, sans-serif" fill="#808080" >8</text>
<text transform="translate(1121.15 873) scale(0.87 1)" x="0" y="0" font-size="26.49" font-family="'Liberation Serif', 'Times New Roman', serif" fill="#808000" font-style="italic">A</text>
<text x="1136.6" y="877.4" font-size="18" font-family="'Liberation Sans', Arial, Helvetica, sans-serif" fill="#808000" >0</text>
<rect x="1121" y="879.05" width="27.4" height="2.3" fill="#808000"/>
<text x="1127.85" y="902.3" font-size="24.5" font-family="'Liberation Sans', Arial, Helvetica, sans-serif" fill="#808000" >4</text>
<path d="M1153 895.4L1162 865.3" stroke="#000" stroke-width="2.2"/>
<text transform="translate(1166.75 873) scale(0.87 1)" x="0" y="0" font-size="26.49" font-family="'Liberation Serif', 'Times New Roman', serif" fill="#808080" font-style="italic">A</text>
<text x="1182.2" y="877.4" font-size="18" font-family="'Liberation Sans', Arial, Helvetica, sans-serif" fill="#808080" >0</text>
<rect x="1166.6" y="879.05" width="27.4" height="2.3" fill="#808080"/>
<text x="1173.4" y="902.3" font-size="24.5" font-family="'Liberation Sans', Arial, Helvetica, sans-serif" fill="#808080" >8</text>
<text transform="translate(1232.55 914.9) scale(0.87 1)" x="0" y="0" font-size="26.49" font-family="'Liberation Serif', 'Times New Roman', serif" fill="#ff00ff" font-style="italic">A</text>
<text x="1248" y="919.3" font-size="18" font-family="'Liberation Sans', Arial, Helvetica, sans-serif" fill="#ff00ff" >0</text>
<rect x="1232.4" y="920.95" width="27.4" height="2.3" fill="#ff00ff"/>
<text x="1239.2" y="944.2" font-size="24.5" font-family="'Liberation Sans', Arial, Helvetica, sans-serif" fill="#ff00ff" >2</text>
<path d="M1264.6 936.6L1273.7 906.5" stroke="#000" stroke-width="2.2"/>
<text transform="translate(1279.35 914.9) scale(0.87 1)" x="0" y="0" font-size="26.49" font-family="'Liberation Serif', 'Times New Roman', serif" fill="#808080" font-style="italic">A</text>
<text x="1294.8" y="919.3" font-size="18" font-family="'Liberation Sans', Arial, Helvetica, sans-serif" fill="#808080" >0</text>
<rect x="1279.2" y="920.95" width="27.4" height="2.3" fill="#808080"/>
<text x="1286" y="944.2" font-size="24.5" font-family="'Liberation Sans', Arial, Helvetica, sans-serif" fill="#808080" >8</text>
<text transform="translate(1365.13 848.6) scale(0.8 1)" x="0" y="0" font-size="36.61" font-family="'Liberation Serif', 'Times New Roman', serif" fill="#0000ff" font-style="italic">A</text>
<text x="1385.8" y="853.8" font-size="24.5" font-family="'Liberation Sans', Arial, Helvetica, sans-serif" fill="#0000ff" >0</text>
<path d="M1401 854L1411.4 824" stroke="#000" stroke-width="2.2"/>
<text transform="translate(1415.85 831.3) scale(0.87 1)" x="0" y="0" font-size="26.49" font-family="'Liberation Serif', 'Times New Roman', serif" fill="#808080" font-style="italic">A</text>
<text x="1431.3" y="835.7" font-size="18" font-family="'Liberation Sans', Arial, Helvetica, sans-serif" fill="#808080" >0</text>
<rect x="1415.7" y="837.35" width="27.4" height="2.3" fill="#808080"/>
<text x="1422.5" y="860.6" font-size="24.5" font-family="'Liberation Sans', Arial, Helvetica, sans-serif" fill="#808080" >8</text>
<text x="1410.73" y="931" font-size="36.6" font-family="'Liberation Serif', 'Times New Roman', serif" fill="#00ff00" >Relative difference</text>
<text transform="translate(1450.91 954.4) scale(1.2 1)" x="0" y="0" font-size="26" font-family="'Liberation Serif', 'Times New Roman', serif" fill="#ff0000" font-style="italic">σ</text>
<text x="1467.9" y="958.9" font-size="17" font-family="'Liberation Serif', 'Times New Roman', serif" fill="#ff0000" font-style="italic" >B,</text>
<text x="1496.4" y="958.9" font-size="18.13" font-family="'Liberation Serif', 'Times New Roman', serif" fill="#ff0000" >optimum</text>
<text x="1564.65" y="953.8" font-size="28.8" font-family="'Liberation Serif', 'Times New Roman', serif" fill="#00ff00" >−</text>
<text transform="translate(1580.11 954.4) scale(1.2 1)" x="0" y="0" font-size="26" font-family="'Liberation Serif', 'Times New Roman', serif" fill="#0000ff" font-style="italic">σ</text>
<text x="1597.3" y="958.9" font-size="17" font-family="'Liberation Serif', 'Times New Roman', serif" fill="#0000ff" font-style="italic" >B,</text>
<text x="1626.2" y="958.9" font-size="17" font-family="'Liberation Serif', 'Times New Roman', serif" fill="#0000ff" font-style="italic" >A</text>
<text x="1637.1" y="962.2" font-size="12.5" font-family="'Liberation Sans', Arial, Helvetica, sans-serif" fill="#0000ff" >0</text>
<rect x="1450.3" y="965.2" width="200.5" height="2" fill="#00ff00"/>
<text transform="translate(1515.51 989) scale(1.2 1)" x="0" y="0" font-size="26" font-family="'Liberation Serif', 'Times New Roman', serif" fill="#0000ff" font-style="italic">σ</text>
<text x="1532.6" y="994.5" font-size="17" font-family="'Liberation Serif', 'Times New Roman', serif" fill="#0000ff" font-style="italic" >B,</text>
<text x="1561.6" y="994.5" font-size="17" font-family="'Liberation Serif', 'Times New Roman', serif" fill="#0000ff" font-style="italic" >A</text>
<text x="1573.6" y="997.9" font-size="12.5" font-family="'Liberation Sans', Arial, Helvetica, sans-serif" fill="#0000ff" >0</text>
<path d="M1208.3 159 V1003" stroke="#808000" stroke-width="4.4" stroke-dasharray="11 11" fill="none"/>
<path d="M1268 203 V1003" stroke="#ff00ff" stroke-width="4.4" stroke-dasharray="11 11" fill="none"/>
<path d="M1356.3 247 V1003" stroke="#0000ff" stroke-width="4.4" stroke-dasharray="11 11" fill="none"/>
<path d="M1208.5 133.6 Q1211.5 145.6 1218.9 154.7 L1198.1 154.7 Q1205.5 145.6 1208.5 133.6 Z" fill="#808000"/>
<path d="M1268 195 Q1271 207 1278.4 216.1 L1257.6 216.1 Q1265 207 1268 195 Z" fill="#ff00ff"/>
<path d="M1356.9 239.5 Q1359.9 251.5 1367.3 260.6 L1346.5 260.6 Q1353.9 251.5 1356.9 239.5 Z" fill="#0000ff"/>
<rect x="1183.2" y="559.4" width="198.6" height="56.6" fill="#808080"/>
<text x="1195.13" y="597.1" font-size="36.43" font-family="'Liberation Serif', 'Times New Roman', serif" fill="#ffff00" font-weight="bold" >Turning on</text>
</svg>
</body></html>
